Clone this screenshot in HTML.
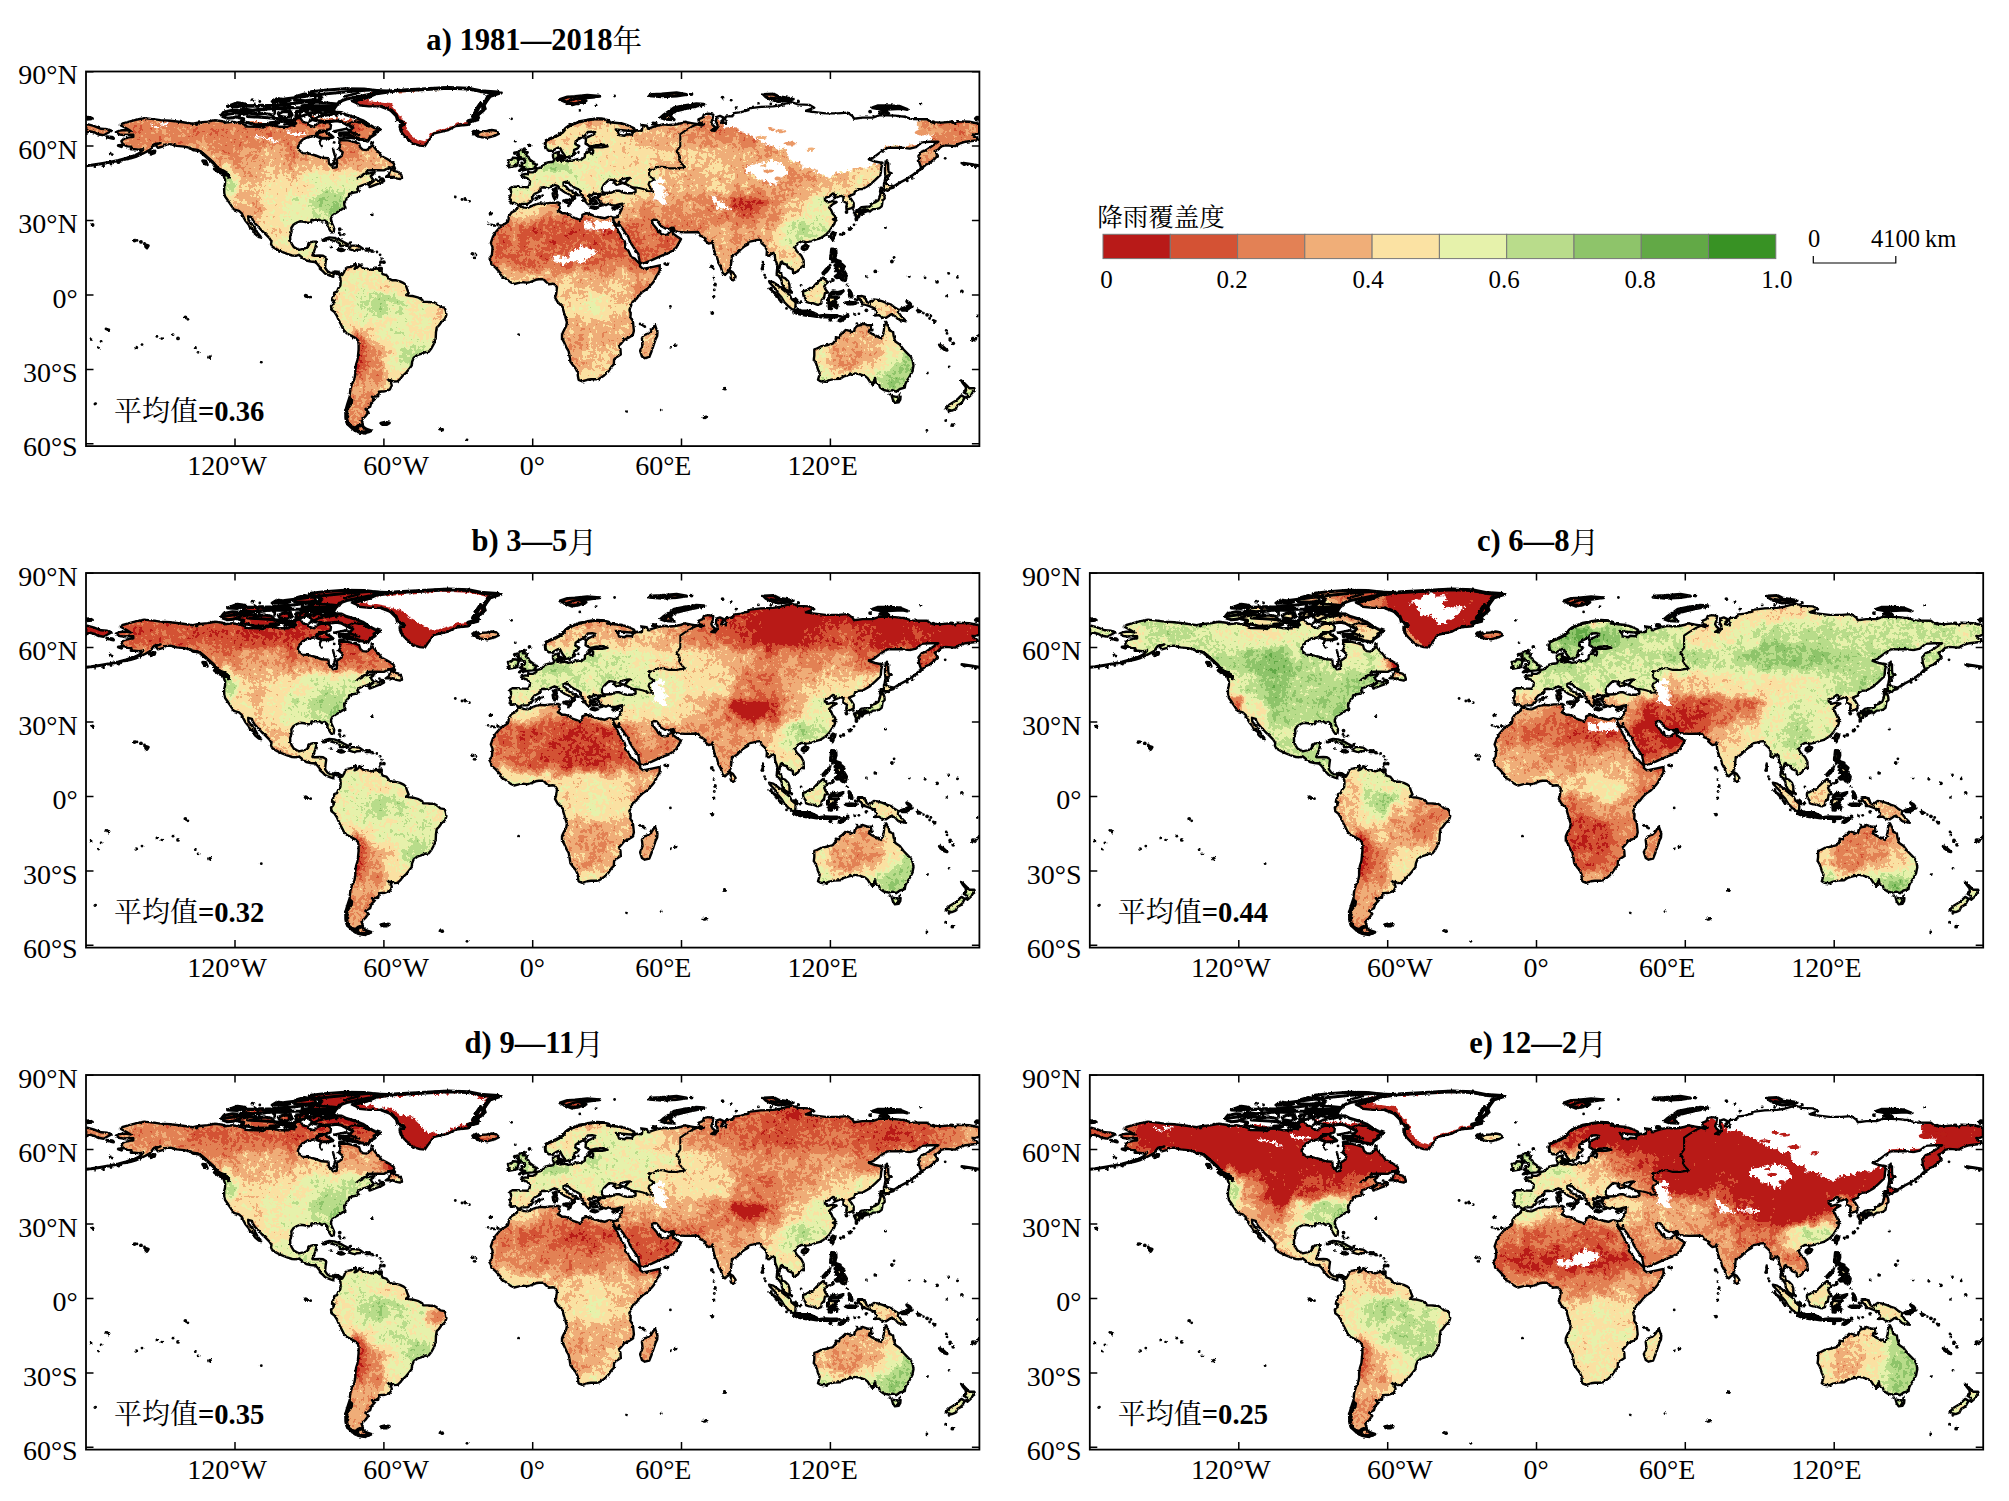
<!DOCTYPE html><html><head><meta charset="utf-8"><title>fig</title><style>html,body{margin:0;padding:0;background:#fff}svg{display:block}text{font-family:"Liberation Serif","Noto Serif CJK SC",serif;fill:#000}.cj{font-family:"Noto Serif CJK SC","Liberation Serif",serif}.b{font-weight:bold}</style></head><body>
<svg width="2009" height="1501" viewBox="0 0 2009 1501">
<defs>
<clipPath id="land"><path d="M29.9,60.7 33.7,59 39.9,58.5 44.8,59.5 41.1,57.3 34.9,54 34.9,52.5 42.3,50.3 49.8,48.3 58.2,46.6 67.2,47.6 74.6,48.6 84.5,49.3 96.9,50.8 106.8,52.3 111.8,51.3 121.7,50.1 129.2,48.8 136.6,49.8 139.1,51.3 146.5,50.3 156.5,52.3 161.4,55 171.3,55.3 177.5,56 178.8,53.3 186.2,53.5 193.7,55.3 202.4,55.3 204.8,53.5 208.6,54.3 208.6,49.8 211,45.3 214.8,47.3 217.2,50.6 222.2,51.6 223.4,53.8 228.4,55.3 230.9,52.5 234.6,50.8 242,50.6 245,53.5 244.5,57.3 239.6,59 233.4,59.2 232.1,62.2 229.6,64.2 223.4,65.2 217.2,67.7 213.5,71.6 211.8,75.9 212.3,77.8 216.7,81.6 223.4,82.1 229.6,84 235.8,86.3 242.5,86.8 243,92 245.8,94.5 247,96.2 250.7,95.7 251.2,92 250.7,88 255.7,84.5 256.7,80.8 252.7,77.6 254.4,74.6 253.2,72.1 253.7,68.7 261.9,68.9 268.1,70.4 273.1,72.1 274.3,75.9 276.8,78.1 280.5,78.6 284.2,75.9 286.4,73.6 289.2,77.1 292.9,80.8 295.4,84.5 300.3,87 304.6,89.5 307.8,92 308.5,94.5 305.3,96 300.8,97.4 297.9,98.9 292.9,98.7 286.7,98.7 281.7,98.9 279.7,101.2 275.5,103.9 271.3,106.9 275.5,104.9 280.5,102.2 285.5,101.4 287.2,102.7 284.7,104.6 286,106.9 287.9,108.9 292.9,109.6 295.4,106.9 297.1,107.1 298.1,109.4 295.4,111.1 290.4,112.8 286.7,114.3 283.5,115.6 282.5,113.3 285.5,111.3 287.2,110.1 283,111.3 280.5,112.3 276.8,113.6 273.1,115.1 271.3,117.5 272.6,119.3 273.1,120 270.6,120.5 266.8,121.3 263.1,122.5 262.9,125 260.6,127.2 259.9,129.2 258.2,131.7 258.4,134.2 259.4,135.9 256.4,137.4 253.2,139.4 250,141.4 246.3,144.1 244.8,147.3 245.3,150.3 247,154 248.2,157 247.7,160.7 245.5,160.9 243.8,158.5 241.5,154.7 241.5,151.5 238.8,149 235.8,150 233.4,148.3 228.4,148.3 225.4,148.5 225.2,151 222.2,151.3 218.5,150.3 214,149.8 211,151 207.3,153.3 205.3,156.5 205.6,160.2 204.1,165.2 204.3,168.9 205.6,172.1 207.8,175.6 210.5,177.1 213,178.3 217.2,177.3 221,176.3 222.2,173.8 222.7,171.4 227.2,170.1 230.9,170.1 229.9,173.8 229.1,176.8 227.9,180.1 226.4,183.8 228.4,184.3 233.4,184 237.1,184.3 240.3,186.3 239.6,191.2 239.1,196.2 241.3,199.4 243.8,201.1 246.3,201.4 249,199.9 251.7,200.1 254.7,202.1 253.5,205.4 252.2,203.1 249.2,201.4 247.5,203.1 247.3,205.4 244.5,204.4 241.3,203.1 239.1,202.1 236.3,199.2 233.9,197.4 233.9,195.7 230.9,192 228.9,190.5 224.7,190 220.2,189 216.5,186.3 212.8,183.3 209.8,184.3 206.1,184 201.1,182.3 196.1,180.3 191.2,178.1 186.2,175.1 185,172.6 185.5,169.9 183.2,166.4 179.3,162.4 175.6,159 172.6,155.5 168.9,151.8 166.4,147.8 165.9,145.8 162.2,144.8 162.4,148.3 165.6,152.5 168.9,156.5 171.3,160.9 173.8,163.9 175.1,166.2 173.1,165.7 168.9,162.4 168.1,159 163.9,156 162.7,153.3 159.4,149.3 157.2,145.1 156,142.1 153,139.4 147.8,137.9 145.3,134.2 143.1,130.9 141.6,128.5 139.1,125 138.3,121.8 138.1,116.8 139.1,112.3 139.1,108.6 137.4,103.6 141.6,103.9 142.8,106.1 143.1,103.1 141.1,101.2 137.1,98.9 132.1,97.4 129.7,94.5 127.2,91.2 123.7,88.3 120.5,85 116.8,81.6 113,78.6 108.1,78.8 103.6,76.4 98.2,75.1 90.7,74.4 84.5,72.6 78.8,73.1 78.3,74.6 72.1,76.4 69.6,73.4 74.6,71.4 68.4,72.6 65.9,75.6 64.2,78.1 59.7,80.6 54.7,83.1 49.8,85.3 44.8,86.8 38.6,88 42.3,86 47.3,84.5 52.3,82.1 55.7,79.6 57.2,77.6 52.8,78.3 48.5,77.6 44.8,77.8 45.3,75.1 41.1,74.9 36.9,72.6 35.4,69.7 37.9,67.2 43.6,65.9 47.3,65.4 47.3,63.2 42.3,63.2 37.4,63.5 33.7,63 29.9,60.7Z M254.7,202.1 256.2,203.6 258.2,200.4 259.4,197.2 261.1,195.9 264.9,195.4 268.1,193.4 269.8,192.7 269.8,195.4 268.6,197.4 270.6,196.7 272.6,194.9 273.3,193.2 275.5,195.2 277.5,197.2 281.7,197.2 285.5,198.4 289.2,197.2 292.9,196.9 293.4,198.9 295.9,200.6 296.6,202.6 300.3,203.6 303.3,207.3 306.5,208.8 310.3,208.8 314,209.8 317.7,211.6 319.7,213.3 321.4,218.5 322.7,221.5 320.2,223.5 322.7,224.2 326.4,224.5 328.9,225.2 332.6,226.2 336.3,228.4 337.1,230.4 341.3,230.4 345,230.7 348,230.7 351.2,232.6 354.4,235.4 358.6,236.1 359.9,239.6 360.4,243.3 359.1,247 355.4,250.5 352.9,254 350.7,256.2 350,260.7 349.7,266.9 348.2,271.8 345.5,276.8 342.8,280.3 338.8,280.8 335.1,282.3 331.1,283.7 327.6,286.5 326.1,290.4 325.6,294.2 322.7,297.9 320.2,301.1 317.2,303.8 314.2,307.3 311.5,309.8 307.8,310 304.8,308.8 301.8,307.8 305.1,311.5 305.8,314 303.8,318 299.1,319.7 292.9,320.2 292.2,324.7 286,325.2 288.4,328.1 285.5,330.9 284.2,335.1 279.5,337.6 282.5,340.8 279.3,345 275.5,348.7 277,353.2 272.3,353.7 269.3,356.2 265.6,354.9 261.1,352.5 259.9,348.7 259.9,344.3 261.9,341.8 259.2,338.8 263.1,335.6 265.6,332.1 266.1,328.4 263.6,326.4 263.9,322.2 264.4,317.7 265.9,312.8 268.3,307.8 269.3,302.8 269.3,297.9 270.1,292.9 271.6,288 272.1,283 272.6,278 272.6,273.1 272.1,269.1 269.6,266.6 265.6,264.4 260.6,261.7 257.4,257.9 255.2,253.5 252.7,248.5 250.7,244.1 248.5,240.6 245.5,238.3 245,234.6 247.3,232.1 248.5,229.4 246,228.9 246.8,225.9 248,223.5 248.2,221.2 251,220.2 252,217.3 254.4,214 254.7,209.8 254.4,206.6 253.5,205.4Z M276.5,353.9 277.5,355.7 280.5,357.7 285,359.2 281.7,360.1 276.8,361.1 273.1,360.6 268.6,358.7 271.8,356.9 272.1,354.7 274.5,353.7Z M294.9,351.7 299.1,350.7 303.3,351.5 300.8,353 296.6,353Z M432.1,134.7 433.6,134.4 438,136.1 441.7,136.4 445.5,134.7 449.7,132.9 454.1,131.9 459.1,132.2 464.1,131.4 469,131.2 471.5,130.9 474,131.7 472.7,133.2 473.5,135.4 474,137.9 471.8,139.1 473.5,140.1 476.5,141.8 479.4,141.8 484.4,143.1 485.6,145.3 490.1,146.8 493.8,148.3 496.3,146.6 496.3,143.3 500,141.8 504,142.6 508.7,144.6 513.7,145.8 518.6,146.8 521.6,145.6 523.6,145.1 526.8,145.8 527.3,149 527.6,150 528.6,153.3 530.3,155.2 532.3,159.5 534.8,163.9 535.3,166.4 538.2,168.9 539.2,171.9 539.2,176.3 542.2,178.8 543.9,182.5 545.2,185.5 548.9,187.2 552.1,190.7 554.1,192.5 554.1,194.9 557.1,197.4 560.8,196.7 567,195.4 573.7,193.9 573.7,197.7 572.7,201.1 570.2,204.9 568,209.8 565.8,212.5 561.3,217.3 557.1,220 552.9,224 549.9,227.9 546.7,230.2 544.9,234.6 543.4,238.3 544.7,242.1 544.4,245.8 546.9,249.5 547.4,254.5 547.9,259.4 546.7,263.7 542.2,266.4 538.5,268.1 534.8,272.6 533,273.8 534.5,278 534.8,283 529.8,286.2 528.1,288 527.8,292.9 525.3,295.4 522.4,299.9 517.4,304.6 513.2,307.3 510.2,307.8 505,307.8 501.3,308.3 496.3,309.8 492.6,308.3 491.8,304.1 491.8,301.6 489.4,296.6 487.4,294.4 484.4,290.4 483.7,285.5 482.7,280 480.2,275.6 477.7,270.1 476,266.9 476,263.2 477.2,260.2 480.2,254.5 480.9,250.8 479.4,245.8 477.2,238.3 477,235.9 474.5,233.4 471.5,230.4 469,225.9 470,223 470.5,219.7 471,216 469,212.8 466.5,212.3 462.8,212.8 460.3,210.6 457.6,207.8 452.9,207.8 449.7,208.3 444.2,210.6 440.5,211.3 436.8,210.6 431.8,211.6 428.1,212.5 424.4,210.6 419.4,206.8 415.7,204.9 414,201.1 410.7,197.4 409.5,196.2 405.3,192.7 405,190 403.3,187 405.8,183.8 406.3,178.8 406.5,175.6 404.8,171.4 407,165.2 410,160.2 413.2,156.5 414.5,154.5 418.7,152.5 421.9,150.3 422.6,147.8 422.6,145.3 425.6,140.9 429.3,139.1 431.3,135.9Z M569,253.5 571.5,260.7 571.2,264.4 569.5,268.1 567.8,273.1 565.3,280.5 563.3,285.5 558.8,286.7 555.9,285 554.1,279.3 556.6,273.1 555.9,266.9 557.8,263.7 562.1,262.2 565.3,259.4 567.5,255.7Z M432.8,134.2 431.1,132.7 428.3,131.2 424.6,131.7 424.9,128 423.1,127.2 424.6,123.7 425.1,120 423.9,116.8 426.9,115.1 432.3,115.3 437.3,115.6 442.2,115.8 443.7,112.8 444,109.8 441.2,106.6 436,104.9 435,103.4 439.3,102.4 442.7,102.9 442.2,100.2 443.7,100.9 447.2,100.7 450.4,98.9 450.7,97.2 454.6,96 457.1,94.2 458.6,92 462.8,90.7 467,90.2 468.3,88.3 467,85.8 467,82.1 471,80.8 473,80.3 472.3,83.1 473.5,84 471.5,86.3 470.8,87 471.5,88.3 474,89.5 477.2,88.8 480.9,89.3 482.2,89.8 486.9,88.8 492.6,87.5 495.1,88.5 496.3,87.3 498.8,85.8 499,82.6 500.3,80.8 502.8,80.3 504.5,82.1 507,81.6 507.2,78.8 505,77.8 505,76.6 508.7,75.9 516.2,75.9 521.6,74.9 517.4,73.1 511.2,73.6 503.8,74.9 502.5,73.9 499.5,72.1 500,68.4 499.3,66.7 503.8,64.7 508.7,62.2 509.5,61 506.2,60.2 501.8,60.5 499.5,63.5 496.3,65.7 492.1,67.9 489.6,69.7 489.4,72.6 493.3,74.6 491.4,77.1 488.1,78.3 487.9,81.6 486.4,84 482.2,85.5 478.9,86 478.5,83.8 476,80.3 474.5,77.1 472.7,75.9 470.3,77.1 466.5,79.3 462.8,79.3 460.3,77.1 459.1,73.4 459.1,69.7 464.1,67.2 469,65.7 472.7,63.5 476.5,61 478.9,57.3 482.7,54.3 486.4,52.8 491.4,50.8 497.6,49.6 503.8,48.3 510.5,47.1 516.2,47.3 522.4,48.6 523.6,49.8 521.1,50.6 528.6,51.3 536,52 542.2,54 547.9,56.5 548.9,58.5 544.7,59.5 536,58.7 529.8,58 532.3,61 533,63.5 538.5,64.2 540.5,62.7 545.9,63.2 547.2,60.7 550.9,58.7 555.9,59.2 556.3,56 555.4,53.5 560.8,54.3 562.1,57.3 565.8,55.8 570.7,54.3 578.2,52.8 583.1,53.5 589.3,53 595.5,51.8 598,50.3 605.5,51.6 610.4,52.5 615.9,54 617.9,52.5 612.9,50.8 612.4,47.8 616.6,46.1 617.9,42.9 622.8,42.1 627.3,43.1 626.6,47.3 625.3,51.1 626.6,53.5 629.5,56 625.3,59 629,59.2 631.5,56 631.5,53.5 629.8,49.8 631,45.3 634,44.4 637.7,46.1 635.2,51.1 640.2,52.3 639,47.3 640.2,44.9 646.4,44.9 647.6,41.6 655.1,40.6 662.5,38.7 662.5,36.9 674.9,35.4 687.3,34.9 694.8,33.7 705.4,30.7 712.1,32.9 723.3,33.4 728.3,36.2 719.6,39.4 727,40.4 739.4,41.9 751.8,41.9 761.7,41.1 766.7,44.9 768,47.3 776.6,46.1 786.6,46.1 794,43.6 808.9,44.1 818.8,45.3 826.2,47.6 841.1,47.8 844.9,50.6 856,51.1 864.7,50.3 869.7,52.3 870.9,49.8 883.3,50.3 893.2,52.3 893.2,61.5 889.5,63.2 886.5,63 891.5,67.2 892,68.7 879.6,70.2 873.4,72.1 869.2,74.6 859.7,73.9 855.3,74.9 851.8,78.3 848.6,79.6 851.8,84 848.6,87.5 843.6,91.5 839.9,93.2 835.4,96.9 833.2,90.7 832.4,84.5 835.7,80.1 839.9,78.8 846.1,74.6 852.3,70.2 844.1,70.2 835.7,70.9 830,75.6 823.8,77.1 815.1,76.1 801.4,76.4 795.2,80.1 787.8,85.8 782.8,87.8 789,90 796.5,91.5 795.2,96.9 794.7,103.1 789,108.6 784.1,113.1 776.6,117.5 771.7,117.8 768.7,120.5 768.4,122.3 763,124.7 765.2,127.7 767.7,131.7 767.7,135.4 765.5,136.6 760.5,138.1 760.3,135.2 761,131.7 757.3,129.7 757.5,125.5 755.1,124.2 749.3,126.5 747.6,127.2 749.8,123 746.9,122 742.6,125.5 738.9,126.2 738.9,128.5 741.9,130.9 746.4,129.7 750.6,130.7 746.9,132.7 743.1,135.9 745.1,138.4 746.6,142.1 749.1,144.8 749.1,146.8 746.9,147.8 749.3,149.3 748.1,152.8 745.6,156 743.4,159.7 740.7,162.4 736.9,165.2 733.2,167.2 729.5,168.1 725.8,169.6 720.8,170.6 720.3,173.1 718.8,170.1 715.4,169.9 711.4,172.1 708.9,176.3 710.9,179.8 715.1,183.8 717.6,188.7 717.8,193.7 713.4,197.4 711.4,199.9 707.2,201.9 706.7,197.9 702.2,196.2 700.5,193.2 697,192 696,190 694.8,190.7 693.5,196.2 692.8,200.4 695.3,202.4 696,205.6 699,206.6 702.2,209.8 703.5,213.5 703.5,217.3 705.2,220 703.5,220.2 699.7,217.8 698,216.3 696,212.3 695.5,208.6 692.3,204.1 690.6,203.4 691,198.7 691.5,193.7 689.1,187.5 688.8,182.5 686.8,181.3 683.1,184.3 680.6,183.8 680.9,178.8 678.6,174.3 675.7,171.9 674.4,168.1 671.2,168.4 667.5,169.4 662.5,170.4 662,172.9 658.8,174.6 655.1,177.6 650.9,181.8 645.9,185 645.4,190 644.7,194.9 643.4,197.9 642.4,200.4 640.7,201.6 639,203.4 636.5,201.1 634.7,195.4 632.3,191.2 631.3,186.7 629,182.5 627.8,177.6 627.3,175.6 627,171.4 626.6,169.4 625.8,171.4 622.6,172.1 618.4,168.4 619.6,167.2 617.1,165.4 614.1,164.2 612.9,161.7 611.7,160.5 605.5,160.7 599.3,160.9 593.1,160.5 588.8,159.7 587.6,156.2 583.1,157.2 579.4,157 574.5,154.3 572.5,151 570.7,148.5 568,148 565.8,149.3 567,152.8 569.5,155.7 571.2,157.7 572.5,160.7 574,158.7 574.7,161.9 576.9,163.4 580.7,163.4 584.4,160.2 586.4,158.2 586.9,161.9 590.6,164.7 595,167.6 592.3,172.4 590.1,176.3 586.9,178.8 583.1,181.3 576.4,183.8 570.7,186.3 565.8,188.7 558.3,191.7 554.6,192 553.9,190 552.9,186.3 552.4,182.5 549.6,178.8 547.2,175.1 543.9,170.1 542.2,165.2 539.2,161.4 537.2,158.2 534,154 533,150.3 531.8,154.5 529.6,152.5 527.6,149 527.1,146.1 531,145.8 533,143.6 534,140.9 535.8,137.4 535.8,134.2 536.5,132.2 533.5,132.7 529.8,133.9 526.1,133.9 522.6,132.2 519.9,133.7 516.2,132.4 514.4,130.4 512.4,128 513.2,125.5 511.7,124.2 514.9,123 518.6,123 518.9,121.5 524.8,121.3 529.8,119.3 533.5,119.3 537.2,121 541,121.8 545.9,121.8 549.6,120.5 549.6,118 544.7,115.1 541,113.1 538.5,111.8 539.7,110.6 541.5,108.6 543.9,106.4 541,106.6 534.8,108.1 533.5,110.1 537.2,111.3 534,112.3 530.5,113.3 527.8,110.8 530.1,109.4 526.1,108.4 523.1,108.1 520.4,110.6 517.9,113.1 516.2,116.3 515.7,118.5 516.7,120.5 518.6,121.3 516.2,121.8 513.2,122.7 511.4,123.5 511.2,122.3 507.5,122 505.7,124.2 503.3,123.2 503.3,126 506.2,128.7 505,129.9 503.8,132.9 501.8,132.7 499.5,130.2 499.3,128 496.8,125.5 494.8,123 494.8,119.8 492.1,117.8 487.6,115.6 484.4,113.6 482.7,111.3 480.7,111.3 480.4,110.1 477.5,110.8 477.5,113.6 480.4,115.6 483.2,118.8 486.4,119.5 486.4,120.8 491.4,122.7 492.6,124 489.4,123.2 487.9,125 489.1,126.7 487.6,128.5 485.6,129.2 485.9,127 486.4,125.5 484.7,124 482.4,122.5 478.9,121 476.5,119.3 472.7,116.8 472,114.6 468.5,113.3 465.3,114.8 461.6,116.5 457.9,115.8 454.6,116.3 454.6,119.5 451.7,121 448.7,122.3 446,125.5 446.9,127.5 445,129.9 441.7,132.2 435.8,132.4Z M0.2,52.3 7.6,54.3 15.1,57.3 21.3,57.8 25.5,59.5 22.5,61 17.5,63.7 11.3,62.5 8.9,61 3.4,59.7 0.2,61.5Z M728.3,278 730,277.5 735.7,274.6 740.7,273.8 746.9,272.1 750.1,268.1 749.8,265.6 753.1,266.4 753.6,263.7 756.8,261.4 759.8,258.4 763.7,259.4 765.5,260.4 768,260.4 768.7,257 771.2,254.2 775.4,253.5 775.6,251.7 781.6,253.7 786.1,253.7 784.1,257 782.8,260.2 786.6,262.7 791.5,265.1 795.2,266.9 797,263.2 798,258.2 798.2,254.5 800.2,250.3 802.7,255.2 803.4,258.9 807.1,260.4 807.6,264.4 809.4,270.1 813.8,273.1 817.6,278 820.8,281.3 825,285.5 826.7,289.2 827.5,294.2 826.2,300.4 823.8,304.8 821.3,308.6 819.3,312.8 818.8,316.2 813.8,317.5 810.1,320.2 806.4,318.7 802.7,319.7 797.7,318.5 794,316 792.8,312.3 789.8,311 789,306.6 788,310.3 786.1,312 783.6,309.8 781.6,306.6 779.1,304.6 774.2,302.8 769.2,301.9 763,303.3 758,304.8 754.3,307.3 748.1,307.6 743.1,308.6 739.4,310.3 734.5,309.8 732,308.3 733.2,304.1 733.7,301.6 732,297.9 730,291.7 727.8,288 728.3,284.2 728.3,278Z M805.7,324.4 810.1,325.4 814.6,324.9 814.3,328.1 812.6,330.9 808.9,331.4 806.9,328.4Z M875.1,308.8 878.3,311.5 880.8,314 883.3,316.7 888.3,316.7 889,319 886.5,321 885.3,323.4 881.6,326.7 880.3,325.9 881.1,322.7 877.8,321 880.1,319 879.6,315.2 876.6,311.5Z M875.4,323.9 878.8,325.9 876.4,330.1 874.6,332.1 871.4,333.9 869.7,337.6 865.9,339.1 862.2,338.1 859.7,337.1 863.5,333.1 868.4,330.1 872.1,327.2Z M771.7,225.4 775.4,224.5 779.1,225.4 780.4,229.7 782.8,231.6 787.8,227.9 791.5,228.4 796.5,229.9 801.4,231.9 805.2,233.1 808.4,235.9 812.6,238.3 811.9,240.3 815.1,244.5 818.8,248.3 820,249.8 816.3,249 812.6,248.3 808.9,244.5 805.2,242.6 802.7,244.5 800.2,246.3 796.5,246 792.8,243.6 789,244.1 790.3,240.8 789,237.1 784.1,234.9 779.1,233.1 776.1,233.1 776.1,230.4 772.4,227.2Z M717.1,219.7 719.6,219.2 722.8,217.3 727,215.5 730.7,211.6 734.5,208.1 736.9,206.1 738.7,207.8 741.9,210.6 739.9,212.3 738.2,214.8 739.4,217.8 741.9,221 738.9,221.7 738.2,225.4 735.7,228.4 735.2,232.1 731.5,233.4 727,231.6 723.3,231.4 720.1,230.4 719.6,227.2 717.6,224.7 717.1,222.2Z M683.1,209.6 687.3,210.6 690.3,212.8 694.3,216 696.8,218 700.5,221 703.7,223.5 705.9,227.9 709.7,230.9 709.2,237.9 706.2,237.9 702.2,234.6 698.5,230.9 695.5,225.9 692.3,222.2 691,219 687.8,215.5 683.6,211.1Z M707.7,240.3 710.9,238.3 715.9,239.6 720.8,239.6 725.8,240.6 730.7,242.8 730.7,245 725.8,244.3 719.6,243.8 714.6,242.8 710.9,241.8Z M743.1,237.1 743.1,232.1 741.4,230.2 743.9,222.7 746.9,220.2 751.8,221 757.3,219.5 754.3,222.5 748.1,222.2 745.1,222.7 744.9,225.7 748.1,225.7 752.6,225.7 749.3,227.9 748.6,230.4 751.3,233.4 750.6,236.4 748.1,234.6 746.9,230.4 745.4,230.9 745.6,237.1Z M745.6,177.6 749.8,177.8 750.1,182.5 748.4,186.3 750.6,188.7 754.3,190 754.3,192.2 751.8,190.5 748.6,189.2 746.1,188.2 744.6,186.3 745.1,182.5Z M749.3,204.9 753.1,202.1 758,199.4 760.5,203.6 759.8,207.3 758,209.1 755.5,207.8 754.3,205.6 750.6,206.1Z M749.3,197.4 751.8,194.9 755.5,192.5 758.3,194.9 756.8,198.2 753.1,199.9 750.6,199.6Z M737.4,202.6 740.7,199.9 743.4,196.2 742.4,195.7 739.4,198.7 736.9,201.6Z M753.1,249 756.8,245.8 761.7,244.3 760.5,245.8 756.8,248.3 754.3,249.5Z M734.5,244.3 739.4,243.8 744.4,244.1 751.3,244.1 750.6,245.5 744.4,245.8 739.4,245.5 734.5,245.5Z M763,218.5 765,221 766,224.7 763.7,225.4 763.2,221.7Z M759.3,231.4 764.2,230.7 770.4,231.4 766.7,232.4 761.7,232.4Z M815.1,237.4 818.8,236.1 823.8,233.9 824.3,235.9 820,238.8 816.3,238.8Z M746.9,160.9 749.1,161.9 748.1,165.2 746.4,168.9 744.6,166.4 745.1,163.2Z M716.4,175.6 719.6,173.6 722.1,174.6 720.6,177.3 717.8,178.3 716.1,177.1Z M644.7,199.4 647.1,201.1 649.6,204.9 648.9,207.8 646.1,208.8 644.7,206.6 644.7,202.4Z M768.4,140.9 771.7,139.4 773.9,141.6 772.7,145.3 770.7,146.3 769.7,143.6Z M775.1,139.6 779.9,138.4 780.6,139.6 777.9,140.6 776.1,142.1Z M771.4,138.9 775.4,135.6 780.4,135.2 784.1,134.9 786.1,131.9 789,130.9 792.5,128.7 794,124.7 794.5,121.3 797.5,121 798.5,124.2 798.7,127 796.5,129.2 796.2,132.2 795.7,134.9 793.5,136.6 790.8,137.4 787.1,137.6 785.8,138.4 783.6,140.4 782.1,138.4 779.1,137.4 775.4,138.6 772.2,139.4Z M794,120.3 794.7,116.3 797.7,116.3 798.2,111.1 802.2,113.3 806.9,114.3 807.6,116 803.9,117 801.9,119.3 797.7,118 796,119Z M798.7,109.4 799.5,105.6 799,100.7 799,95.7 799.7,90.7 800.9,88.8 802.2,92 802.2,96.9 802.7,100.7 805.7,101.9 801.4,104.4 802.2,107.9 800.4,108.6Z M433.1,99.2 438,98.7 441.7,97.9 446.7,97.4 450.2,96.5 448.7,95.5 450.9,93 447.7,92 446.9,90.2 443.7,88 442.5,85.5 441,84.5 439.8,83.6 441.7,80.8 438,80.3 436.8,80.3 438.8,78.1 434.3,78.1 432.3,80.3 432.8,83.3 431.3,83.1 433.1,86 434.8,85.5 434.5,87.5 438.3,87.3 439.3,89.8 438.8,91.2 435.5,91.2 436.3,93.2 433.8,94.7 438,95.7 439.3,96.2 436,96.7Z M431.3,94 431.8,91.2 432.8,88.3 430.6,86.5 426.9,86.3 425.6,88.3 421.9,89 422.4,91.2 423.6,93 421.1,94.5 422.6,95.7 426.9,95Z M390.9,64.9 397.1,65.9 402,66.2 409.5,64 413,62.2 410,59.2 405.8,58.5 400.8,59.5 395.8,59.7 393.4,61 390.9,58.7 386.4,60.7 392.1,61.7 387.2,62.7 392.1,64Z M477.7,129.2 480.2,128.7 485.2,128.7 484.2,132.4 481.4,131.7 478,130.2Z M467,122 469.8,121.3 471,123.5 470.5,126.2 468.5,127 467.5,124.7Z M468,118 470,116.8 470.3,119.5 469.3,120.8 468,119.5Z M505,135.4 508.7,135.6 511.9,136.1 508.7,136.9 505.2,136.1Z M526.8,136.6 528.6,135.9 532.5,134.9 531,136.6 528.6,137.6Z M236.1,169.1 239.6,166.9 243.3,165.9 248.2,166.4 253.2,168.1 258.2,170.9 262.6,173.1 259.4,174.1 253.9,174.3 254.4,172.4 250.7,170.1 244.5,168.4 241.3,167.4 238.3,169.4Z M262.1,177.3 265.6,174.1 269.3,174.1 273.1,174.6 277,177.3 274.3,178.1 270.6,178.3 268.8,179.3 265.6,178.3Z M252.5,177.8 255.7,177.6 257.7,178.8 255.2,179.3 252.5,178.6Z M280,177.6 283.7,177.8 283.5,178.8 280,178.8Z M299.6,105.4 302.8,103.1 304.1,99.4 307.8,95.5 309,96.9 307.8,99.4 312.7,100.7 315.2,103.1 316,105.6 314,107.6 310.3,106.9 307.8,105.4 304.1,105.4Z M128.4,97.4 134.1,98.4 137.1,100.2 140.3,103.1 137.4,102.9 132.9,100.7Z M116.8,89.3 119.7,89.5 121.2,93.2 118.5,92Z M63.4,80.8 68.9,79.6 68.4,81.3 64.7,82.6Z M59.7,173.4 62.2,174.3 61,176.3 59.7,175.1Z M247,40.6 255.7,41.1 260.6,43.6 270.6,46.6 276.8,49.1 280.5,51.6 287.9,56 294.1,58 287.9,61 289.2,62.7 284.2,65.9 281.7,69.7 278,68.2 274.3,67.7 268.1,65.2 263.1,63.5 253.7,64 253.2,61.5 263.1,61 264.4,58.5 266.8,56 261.9,53.5 255.7,50.3 250.7,49.3 243.3,50.1 235.8,49.8 228.4,48.6 224.7,46.1 223.4,43.6 225.9,41.1 233.4,40.4 235.8,42.4 243.3,40.6Z M230.9,61.5 235.8,60.2 239.6,60.2 244.5,63.5 247,65.7 242,66.7 235.8,66.7 230.9,64.7Z M155.2,49.8 163.9,51.8 168.9,53.3 178.8,53 187.5,53.3 193.7,51.1 194.9,48.6 188.7,47.3 186.2,43.6 178.8,41.9 171.3,42.9 163.9,41.6 154,43.6 151.5,46.1 157.7,47.3Z M136.6,45.1 141.6,46.8 147.8,46.1 154,43.6 158.9,41.9 156.5,39.4 146.5,38.7 137.9,40.4 135.4,43.6Z M193.7,44.9 201.1,46.1 206.1,43.6 204.8,40.4 197.4,39.9 192.4,42.4Z M209.8,44.9 214.8,44.9 222.2,42.4 221,39.9 211,39.9Z M218.5,38.2 228.4,38.7 238.3,38.7 247,38.4 248.2,36.2 240.8,35.4 228.4,35.7 221,33.7 216,34.2Z M156.5,37.4 166.4,38.7 178.8,37.9 183.7,36.2 176.3,33.7 166.4,34.4 158.9,34.4Z M188.7,36.9 198.6,37.4 204.8,35.9 202.4,33.4 193.7,33.7 187.5,34.9Z M208.6,28.7 221,29.2 229.6,27.5 228.4,24.3 218.5,22.5 209.8,25Z M223.4,34.2 235.8,34.2 248.2,34.4 253.2,32.4 255.7,29.2 260.6,27.5 273.1,25 285.5,22.5 292.9,19.3 278,17.6 258.2,17.3 238.3,18.8 223.4,20.5 230.9,23.8 235.8,26.2 233.4,29.2 225.9,31.2Z M141.6,34.9 151.5,35.4 158.9,32.4 151.5,31.2Z M199.9,51.8 206.1,53 209.8,51.8 206.1,50.1Z M186.2,30 198.6,30.5 203.6,28.7 191.2,27Z M265.6,29.5 278,27 285.5,23 297.9,20 317.7,18.8 335.1,18.1 357.4,16.3 377.2,16.8 392.1,19.3 402,21.3 415.7,21.3 404.5,25 400.8,30 398.3,33.7 399.6,37.4 394.6,41.1 390.9,44.9 392.1,48.6 384.7,50.3 382.2,53.3 369.8,54.5 362.4,58.5 353.7,60.5 347.5,62.2 345,65.9 341.3,70.9 338.8,74.6 333.8,74.1 327.6,72.1 322.7,68.4 318.9,64.7 315.2,60.2 314,56 318.9,52.3 312.7,49.8 311.5,46.1 307.8,42.4 302.8,37.4 295.4,34.9 283,34.9 273.1,33.7 270.6,31.7Z M474,28 481.4,31.2 486.4,33.2 492.6,31.2 500,29.2 493.8,27 501.3,26.2 513.7,24.8 501.3,23.8 488.9,25 481.4,25.5Z M574.5,46.1 579.4,47.8 588.1,48.1 584.4,44.9 585.6,41.6 591.8,39.1 603,36.2 612.9,34.2 617.9,32.7 610.4,32.4 598,34.2 588.1,36.2 583.1,39.9 579.4,42.4 576.9,44.1Z M683.6,27.5 692.3,30 702.2,29.2 707.2,27.5 699.7,26.2 692.3,25 687.3,22.5 677.4,23 679.9,25.5Z M786.6,36.2 796.5,37.9 806.4,37.4 816.3,36.9 821.3,37.9 813.8,34.9 801.4,34.4 791.5,34.4Z M794,41.1 802.7,41.9 800.2,40.1 795.2,39.9Z M889.5,47.1 893.2,47.6 893.2,46.1 890.7,45.8Z M0.2,47.6 6.4,47.1 3.9,45.8 0.2,46.1Z M563.3,24.3 575.7,25.3 590.6,24.5 600.5,23 590.6,21.3 575.7,22.5 565.8,23Z M567,51.6 570.7,52.3 569.5,53 566.5,52.5Z M20.8,65.4 27.5,66.9 26.2,65.7Z M32.4,74.1 35.9,73.9 35.4,75.1Z M578.9,192.2 581.9,192.5 580.7,193Z M293.4,196.9 295.4,196.7 295.4,198.4 293.4,198.4Z M853.5,273.3 857.3,275.6 861,278.8 858.5,278 854.8,275.3Z M831.2,238.3 834.9,240.3 832.4,240.3Z M886.5,266.9 889.8,267.1 888.8,268.6 886.5,268.1Z M820.8,229.9 823.8,231.6 826.2,234.9 825,233.9 821.3,230.9Z M707.9,227.7 710.9,228.4 710.9,230.9 709.2,229.7Z"/></clipPath>
<clipPath id="box"><rect x="0" y="0" width="893.4" height="374.6"/></clipPath>
<filter id="bl" color-interpolation-filters="sRGB" x="-5%" y="-5%" width="110%" height="110%"><feGaussianBlur stdDeviation="5"/></filter>
<filter id="bl2" color-interpolation-filters="sRGB" x="-5%" y="-5%" width="110%" height="110%"><feGaussianBlur stdDeviation="3"/></filter>
<filter id="bl3" color-interpolation-filters="sRGB" x="-5%" y="-5%" width="110%" height="110%"><feGaussianBlur stdDeviation="1"/></filter>
<filter id="rg" color-interpolation-filters="sRGB" x="0" y="0" width="100%" height="100%"><feTurbulence type="fractalNoise" baseFrequency="0.07" numOctaves="3" seed="7" result="n1"/><feDisplacementMap in="SourceGraphic" in2="n1" scale="14" xChannelSelector="R" yChannelSelector="G" result="d1"/><feTurbulence type="fractalNoise" baseFrequency="0.3" numOctaves="2" seed="3" result="n2"/><feColorMatrix in="n2" type="matrix" values="1 0 0 0 0 1 0 0 0 0 1 0 0 0 0 0 0 0 0 1" result="n2g"/><feComposite in="d1" in2="n2g" operator="arithmetic" k1="0" k2="1" k3="0.24" k4="-0.12" result="v1"/><feTurbulence type="fractalNoise" baseFrequency="0.09" numOctaves="2" seed="21" result="n3"/><feColorMatrix in="n3" type="matrix" values="0 1 0 0 0 0 1 0 0 0 0 1 0 0 0 0 0 0 0 1" result="n3g"/><feComposite in="v1" in2="n3g" operator="arithmetic" k1="0" k2="1" k3="0.23" k4="-0.115" result="v"/><feComponentTransfer in="v"><feFuncR type="discrete" tableValues="0.722 0.831 0.890 0.941 0.984 0.902 0.725 0.557 0.384 0.220"/><feFuncG type="discrete" tableValues="0.102 0.322 0.506 0.682 0.886 0.949 0.863 0.769 0.663 0.573"/><feFuncB type="discrete" tableValues="0.094 0.204 0.333 0.471 0.639 0.671 0.545 0.416 0.275 0.141"/></feComponentTransfer></filter>
<filter id="rag" x="-5%" y="-5%" width="110%" height="110%"><feTurbulence type="fractalNoise" baseFrequency="0.09" numOctaves="2" seed="3" result="n"/><feDisplacementMap in="SourceGraphic" in2="n" scale="10" xChannelSelector="R" yChannelSelector="G" result="r1"/><feTurbulence type="fractalNoise" baseFrequency="0.3" numOctaves="2" seed="9" result="m"/><feDisplacementMap in="r1" in2="m" scale="7" xChannelSelector="G" yChannelSelector="R"/></filter>
<filter id="rag2" x="-5%" y="-5%" width="110%" height="110%"><feTurbulence type="fractalNoise" baseFrequency="0.2" numOctaves="2" seed="5" result="n"/><feDisplacementMap in="SourceGraphic" in2="n" scale="5" xChannelSelector="R" yChannelSelector="G"/></filter>
<filter id="jag" x="-2%" y="-2%" width="104%" height="104%"><feTurbulence type="fractalNoise" baseFrequency="0.35" numOctaves="2" seed="11" result="n"/><feDisplacementMap in="SourceGraphic" in2="n" scale="2.6" xChannelSelector="R" yChannelSelector="G"/></filter>
<g id="coast" filter="url(#jag)" fill="none" stroke="#000" stroke-linejoin="round" stroke-linecap="round"><path d="M29.9,60.7 33.7,59 39.9,58.5 44.8,59.5 41.1,57.3 34.9,54 34.9,52.5 42.3,50.3 49.8,48.3 58.2,46.6 67.2,47.6 74.6,48.6 84.5,49.3 96.9,50.8 106.8,52.3 111.8,51.3 121.7,50.1 129.2,48.8 136.6,49.8 139.1,51.3 146.5,50.3 156.5,52.3 161.4,55 171.3,55.3 177.5,56 178.8,53.3 186.2,53.5 193.7,55.3 202.4,55.3 204.8,53.5 208.6,54.3 208.6,49.8 211,45.3 214.8,47.3 217.2,50.6 222.2,51.6 223.4,53.8 228.4,55.3 230.9,52.5 234.6,50.8 242,50.6 245,53.5 244.5,57.3 239.6,59 233.4,59.2 232.1,62.2 229.6,64.2 223.4,65.2 217.2,67.7 213.5,71.6 211.8,75.9 212.3,77.8 216.7,81.6 223.4,82.1 229.6,84 235.8,86.3 242.5,86.8 243,92 245.8,94.5 247,96.2 250.7,95.7 251.2,92 250.7,88 255.7,84.5 256.7,80.8 252.7,77.6 254.4,74.6 253.2,72.1 253.7,68.7 261.9,68.9 268.1,70.4 273.1,72.1 274.3,75.9 276.8,78.1 280.5,78.6 284.2,75.9 286.4,73.6 289.2,77.1 292.9,80.8 295.4,84.5 300.3,87 304.6,89.5 307.8,92 308.5,94.5 305.3,96 300.8,97.4 297.9,98.9 292.9,98.7 286.7,98.7 281.7,98.9 279.7,101.2 275.5,103.9 271.3,106.9 275.5,104.9 280.5,102.2 285.5,101.4 287.2,102.7 284.7,104.6 286,106.9 287.9,108.9 292.9,109.6 295.4,106.9 297.1,107.1 298.1,109.4 295.4,111.1 290.4,112.8 286.7,114.3 283.5,115.6 282.5,113.3 285.5,111.3 287.2,110.1 283,111.3 280.5,112.3 276.8,113.6 273.1,115.1 271.3,117.5 272.6,119.3 273.1,120 270.6,120.5 266.8,121.3 263.1,122.5 262.9,125 260.6,127.2 259.9,129.2 258.2,131.7 258.4,134.2 259.4,135.9 256.4,137.4 253.2,139.4 250,141.4 246.3,144.1 244.8,147.3 245.3,150.3 247,154 248.2,157 247.7,160.7 245.5,160.9 243.8,158.5 241.5,154.7 241.5,151.5 238.8,149 235.8,150 233.4,148.3 228.4,148.3 225.4,148.5 225.2,151 222.2,151.3 218.5,150.3 214,149.8 211,151 207.3,153.3 205.3,156.5 205.6,160.2 204.1,165.2 204.3,168.9 205.6,172.1 207.8,175.6 210.5,177.1 213,178.3 217.2,177.3 221,176.3 222.2,173.8 222.7,171.4 227.2,170.1 230.9,170.1 229.9,173.8 229.1,176.8 227.9,180.1 226.4,183.8 228.4,184.3 233.4,184 237.1,184.3 240.3,186.3 239.6,191.2 239.1,196.2 241.3,199.4 243.8,201.1 246.3,201.4 249,199.9 251.7,200.1 254.7,202.1 253.5,205.4 252.2,203.1 249.2,201.4 247.5,203.1 247.3,205.4 244.5,204.4 241.3,203.1 239.1,202.1 236.3,199.2 233.9,197.4 233.9,195.7 230.9,192 228.9,190.5 224.7,190 220.2,189 216.5,186.3 212.8,183.3 209.8,184.3 206.1,184 201.1,182.3 196.1,180.3 191.2,178.1 186.2,175.1 185,172.6 185.5,169.9 183.2,166.4 179.3,162.4 175.6,159 172.6,155.5 168.9,151.8 166.4,147.8 165.9,145.8 162.2,144.8 162.4,148.3 165.6,152.5 168.9,156.5 171.3,160.9 173.8,163.9 175.1,166.2 173.1,165.7 168.9,162.4 168.1,159 163.9,156 162.7,153.3 159.4,149.3 157.2,145.1 156,142.1 153,139.4 147.8,137.9 145.3,134.2 143.1,130.9 141.6,128.5 139.1,125 138.3,121.8 138.1,116.8 139.1,112.3 139.1,108.6 137.4,103.6 141.6,103.9 142.8,106.1 143.1,103.1 141.1,101.2 137.1,98.9 132.1,97.4 129.7,94.5 127.2,91.2 123.7,88.3 120.5,85 116.8,81.6 113,78.6 108.1,78.8 103.6,76.4 98.2,75.1 90.7,74.4 84.5,72.6 78.8,73.1 78.3,74.6 72.1,76.4 69.6,73.4 74.6,71.4 68.4,72.6 65.9,75.6 64.2,78.1 59.7,80.6 54.7,83.1 49.8,85.3 44.8,86.8 38.6,88 42.3,86 47.3,84.5 52.3,82.1 55.7,79.6 57.2,77.6 52.8,78.3 48.5,77.6 44.8,77.8 45.3,75.1 41.1,74.9 36.9,72.6 35.4,69.7 37.9,67.2 43.6,65.9 47.3,65.4 47.3,63.2 42.3,63.2 37.4,63.5 33.7,63 29.9,60.7Z M254.7,202.1 256.2,203.6 258.2,200.4 259.4,197.2 261.1,195.9 264.9,195.4 268.1,193.4 269.8,192.7 269.8,195.4 268.6,197.4 270.6,196.7 272.6,194.9 273.3,193.2 275.5,195.2 277.5,197.2 281.7,197.2 285.5,198.4 289.2,197.2 292.9,196.9 293.4,198.9 295.9,200.6 296.6,202.6 300.3,203.6 303.3,207.3 306.5,208.8 310.3,208.8 314,209.8 317.7,211.6 319.7,213.3 321.4,218.5 322.7,221.5 320.2,223.5 322.7,224.2 326.4,224.5 328.9,225.2 332.6,226.2 336.3,228.4 337.1,230.4 341.3,230.4 345,230.7 348,230.7 351.2,232.6 354.4,235.4 358.6,236.1 359.9,239.6 360.4,243.3 359.1,247 355.4,250.5 352.9,254 350.7,256.2 350,260.7 349.7,266.9 348.2,271.8 345.5,276.8 342.8,280.3 338.8,280.8 335.1,282.3 331.1,283.7 327.6,286.5 326.1,290.4 325.6,294.2 322.7,297.9 320.2,301.1 317.2,303.8 314.2,307.3 311.5,309.8 307.8,310 304.8,308.8 301.8,307.8 305.1,311.5 305.8,314 303.8,318 299.1,319.7 292.9,320.2 292.2,324.7 286,325.2 288.4,328.1 285.5,330.9 284.2,335.1 279.5,337.6 282.5,340.8 279.3,345 275.5,348.7 277,353.2 272.3,353.7 269.3,356.2 265.6,354.9 261.1,352.5 259.9,348.7 259.9,344.3 261.9,341.8 259.2,338.8 263.1,335.6 265.6,332.1 266.1,328.4 263.6,326.4 263.9,322.2 264.4,317.7 265.9,312.8 268.3,307.8 269.3,302.8 269.3,297.9 270.1,292.9 271.6,288 272.1,283 272.6,278 272.6,273.1 272.1,269.1 269.6,266.6 265.6,264.4 260.6,261.7 257.4,257.9 255.2,253.5 252.7,248.5 250.7,244.1 248.5,240.6 245.5,238.3 245,234.6 247.3,232.1 248.5,229.4 246,228.9 246.8,225.9 248,223.5 248.2,221.2 251,220.2 252,217.3 254.4,214 254.7,209.8 254.4,206.6 253.5,205.4Z M432.1,134.7 433.6,134.4 438,136.1 441.7,136.4 445.5,134.7 449.7,132.9 454.1,131.9 459.1,132.2 464.1,131.4 469,131.2 471.5,130.9 474,131.7 472.7,133.2 473.5,135.4 474,137.9 471.8,139.1 473.5,140.1 476.5,141.8 479.4,141.8 484.4,143.1 485.6,145.3 490.1,146.8 493.8,148.3 496.3,146.6 496.3,143.3 500,141.8 504,142.6 508.7,144.6 513.7,145.8 518.6,146.8 521.6,145.6 523.6,145.1 526.8,145.8 527.3,149 527.6,150 528.6,153.3 530.3,155.2 532.3,159.5 534.8,163.9 535.3,166.4 538.2,168.9 539.2,171.9 539.2,176.3 542.2,178.8 543.9,182.5 545.2,185.5 548.9,187.2 552.1,190.7 554.1,192.5 554.1,194.9 557.1,197.4 560.8,196.7 567,195.4 573.7,193.9 573.7,197.7 572.7,201.1 570.2,204.9 568,209.8 565.8,212.5 561.3,217.3 557.1,220 552.9,224 549.9,227.9 546.7,230.2 544.9,234.6 543.4,238.3 544.7,242.1 544.4,245.8 546.9,249.5 547.4,254.5 547.9,259.4 546.7,263.7 542.2,266.4 538.5,268.1 534.8,272.6 533,273.8 534.5,278 534.8,283 529.8,286.2 528.1,288 527.8,292.9 525.3,295.4 522.4,299.9 517.4,304.6 513.2,307.3 510.2,307.8 505,307.8 501.3,308.3 496.3,309.8 492.6,308.3 491.8,304.1 491.8,301.6 489.4,296.6 487.4,294.4 484.4,290.4 483.7,285.5 482.7,280 480.2,275.6 477.7,270.1 476,266.9 476,263.2 477.2,260.2 480.2,254.5 480.9,250.8 479.4,245.8 477.2,238.3 477,235.9 474.5,233.4 471.5,230.4 469,225.9 470,223 470.5,219.7 471,216 469,212.8 466.5,212.3 462.8,212.8 460.3,210.6 457.6,207.8 452.9,207.8 449.7,208.3 444.2,210.6 440.5,211.3 436.8,210.6 431.8,211.6 428.1,212.5 424.4,210.6 419.4,206.8 415.7,204.9 414,201.1 410.7,197.4 409.5,196.2 405.3,192.7 405,190 403.3,187 405.8,183.8 406.3,178.8 406.5,175.6 404.8,171.4 407,165.2 410,160.2 413.2,156.5 414.5,154.5 418.7,152.5 421.9,150.3 422.6,147.8 422.6,145.3 425.6,140.9 429.3,139.1 431.3,135.9Z M569,253.5 571.5,260.7 571.2,264.4 569.5,268.1 567.8,273.1 565.3,280.5 563.3,285.5 558.8,286.7 555.9,285 554.1,279.3 556.6,273.1 555.9,266.9 557.8,263.7 562.1,262.2 565.3,259.4 567.5,255.7Z M432.8,134.2 431.1,132.7 428.3,131.2 424.6,131.7 424.9,128 423.1,127.2 424.6,123.7 425.1,120 423.9,116.8 426.9,115.1 432.3,115.3 437.3,115.6 442.2,115.8 443.7,112.8 444,109.8 441.2,106.6 436,104.9 435,103.4 439.3,102.4 442.7,102.9 442.2,100.2 443.7,100.9 447.2,100.7 450.4,98.9 450.7,97.2 454.6,96 457.1,94.2 458.6,92 462.8,90.7 467,90.2 468.3,88.3 467,85.8 467,82.1 471,80.8 473,80.3 472.3,83.1 473.5,84 471.5,86.3 470.8,87 471.5,88.3 474,89.5 477.2,88.8 480.9,89.3 482.2,89.8 486.9,88.8 492.6,87.5 495.1,88.5 496.3,87.3 498.8,85.8 499,82.6 500.3,80.8 502.8,80.3 504.5,82.1 507,81.6 507.2,78.8 505,77.8 505,76.6 508.7,75.9 516.2,75.9 521.6,74.9 517.4,73.1 511.2,73.6 503.8,74.9 502.5,73.9 499.5,72.1 500,68.4 499.3,66.7 503.8,64.7 508.7,62.2 509.5,61 506.2,60.2 501.8,60.5 499.5,63.5 496.3,65.7 492.1,67.9 489.6,69.7 489.4,72.6 493.3,74.6 491.4,77.1 488.1,78.3 487.9,81.6 486.4,84 482.2,85.5 478.9,86 478.5,83.8 476,80.3 474.5,77.1 472.7,75.9 470.3,77.1 466.5,79.3 462.8,79.3 460.3,77.1 459.1,73.4 459.1,69.7 464.1,67.2 469,65.7 472.7,63.5 476.5,61 478.9,57.3 482.7,54.3 486.4,52.8 491.4,50.8 497.6,49.6 503.8,48.3 510.5,47.1 516.2,47.3 522.4,48.6 523.6,49.8 521.1,50.6 528.6,51.3 536,52 542.2,54 547.9,56.5 548.9,58.5 544.7,59.5 536,58.7 529.8,58 532.3,61 533,63.5 538.5,64.2 540.5,62.7 545.9,63.2 547.2,60.7 550.9,58.7 555.9,59.2 556.3,56 555.4,53.5 560.8,54.3 562.1,57.3 565.8,55.8 570.7,54.3 578.2,52.8 583.1,53.5 589.3,53 595.5,51.8 598,50.3 605.5,51.6 610.4,52.5 615.9,54 617.9,52.5 612.9,50.8 612.4,47.8 616.6,46.1 617.9,42.9 622.8,42.1 627.3,43.1 626.6,47.3 625.3,51.1 626.6,53.5 629.5,56 625.3,59 629,59.2 631.5,56 631.5,53.5 629.8,49.8 631,45.3 634,44.4 637.7,46.1 635.2,51.1 640.2,52.3 639,47.3 640.2,44.9 646.4,44.9 647.6,41.6 655.1,40.6 662.5,38.7 662.5,36.9 674.9,35.4 687.3,34.9 694.8,33.7 705.4,30.7 712.1,32.9 723.3,33.4 728.3,36.2 719.6,39.4 727,40.4 739.4,41.9 751.8,41.9 761.7,41.1 766.7,44.9 768,47.3 776.6,46.1 786.6,46.1 794,43.6 808.9,44.1 818.8,45.3 826.2,47.6 841.1,47.8 844.9,50.6 856,51.1 864.7,50.3 869.7,52.3 870.9,49.8 883.3,50.3 893.2,52.3 893.2,61.5 889.5,63.2 886.5,63 891.5,67.2 892,68.7 879.6,70.2 873.4,72.1 869.2,74.6 859.7,73.9 855.3,74.9 851.8,78.3 848.6,79.6 851.8,84 848.6,87.5 843.6,91.5 839.9,93.2 835.4,96.9 833.2,90.7 832.4,84.5 835.7,80.1 839.9,78.8 846.1,74.6 852.3,70.2 844.1,70.2 835.7,70.9 830,75.6 823.8,77.1 815.1,76.1 801.4,76.4 795.2,80.1 787.8,85.8 782.8,87.8 789,90 796.5,91.5 795.2,96.9 794.7,103.1 789,108.6 784.1,113.1 776.6,117.5 771.7,117.8 768.7,120.5 768.4,122.3 763,124.7 765.2,127.7 767.7,131.7 767.7,135.4 765.5,136.6 760.5,138.1 760.3,135.2 761,131.7 757.3,129.7 757.5,125.5 755.1,124.2 749.3,126.5 747.6,127.2 749.8,123 746.9,122 742.6,125.5 738.9,126.2 738.9,128.5 741.9,130.9 746.4,129.7 750.6,130.7 746.9,132.7 743.1,135.9 745.1,138.4 746.6,142.1 749.1,144.8 749.1,146.8 746.9,147.8 749.3,149.3 748.1,152.8 745.6,156 743.4,159.7 740.7,162.4 736.9,165.2 733.2,167.2 729.5,168.1 725.8,169.6 720.8,170.6 720.3,173.1 718.8,170.1 715.4,169.9 711.4,172.1 708.9,176.3 710.9,179.8 715.1,183.8 717.6,188.7 717.8,193.7 713.4,197.4 711.4,199.9 707.2,201.9 706.7,197.9 702.2,196.2 700.5,193.2 697,192 696,190 694.8,190.7 693.5,196.2 692.8,200.4 695.3,202.4 696,205.6 699,206.6 702.2,209.8 703.5,213.5 703.5,217.3 705.2,220 703.5,220.2 699.7,217.8 698,216.3 696,212.3 695.5,208.6 692.3,204.1 690.6,203.4 691,198.7 691.5,193.7 689.1,187.5 688.8,182.5 686.8,181.3 683.1,184.3 680.6,183.8 680.9,178.8 678.6,174.3 675.7,171.9 674.4,168.1 671.2,168.4 667.5,169.4 662.5,170.4 662,172.9 658.8,174.6 655.1,177.6 650.9,181.8 645.9,185 645.4,190 644.7,194.9 643.4,197.9 642.4,200.4 640.7,201.6 639,203.4 636.5,201.1 634.7,195.4 632.3,191.2 631.3,186.7 629,182.5 627.8,177.6 627.3,175.6 627,171.4 626.6,169.4 625.8,171.4 622.6,172.1 618.4,168.4 619.6,167.2 617.1,165.4 614.1,164.2 612.9,161.7 611.7,160.5 605.5,160.7 599.3,160.9 593.1,160.5 588.8,159.7 587.6,156.2 583.1,157.2 579.4,157 574.5,154.3 572.5,151 570.7,148.5 568,148 565.8,149.3 567,152.8 569.5,155.7 571.2,157.7 572.5,160.7 574,158.7 574.7,161.9 576.9,163.4 580.7,163.4 584.4,160.2 586.4,158.2 586.9,161.9 590.6,164.7 595,167.6 592.3,172.4 590.1,176.3 586.9,178.8 583.1,181.3 576.4,183.8 570.7,186.3 565.8,188.7 558.3,191.7 554.6,192 553.9,190 552.9,186.3 552.4,182.5 549.6,178.8 547.2,175.1 543.9,170.1 542.2,165.2 539.2,161.4 537.2,158.2 534,154 533,150.3 531.8,154.5 529.6,152.5 527.6,149 527.1,146.1 531,145.8 533,143.6 534,140.9 535.8,137.4 535.8,134.2 536.5,132.2 533.5,132.7 529.8,133.9 526.1,133.9 522.6,132.2 519.9,133.7 516.2,132.4 514.4,130.4 512.4,128 513.2,125.5 511.7,124.2 514.9,123 518.6,123 518.9,121.5 524.8,121.3 529.8,119.3 533.5,119.3 537.2,121 541,121.8 545.9,121.8 549.6,120.5 549.6,118 544.7,115.1 541,113.1 538.5,111.8 539.7,110.6 541.5,108.6 543.9,106.4 541,106.6 534.8,108.1 533.5,110.1 537.2,111.3 534,112.3 530.5,113.3 527.8,110.8 530.1,109.4 526.1,108.4 523.1,108.1 520.4,110.6 517.9,113.1 516.2,116.3 515.7,118.5 516.7,120.5 518.6,121.3 516.2,121.8 513.2,122.7 511.4,123.5 511.2,122.3 507.5,122 505.7,124.2 503.3,123.2 503.3,126 506.2,128.7 505,129.9 503.8,132.9 501.8,132.7 499.5,130.2 499.3,128 496.8,125.5 494.8,123 494.8,119.8 492.1,117.8 487.6,115.6 484.4,113.6 482.7,111.3 480.7,111.3 480.4,110.1 477.5,110.8 477.5,113.6 480.4,115.6 483.2,118.8 486.4,119.5 486.4,120.8 491.4,122.7 492.6,124 489.4,123.2 487.9,125 489.1,126.7 487.6,128.5 485.6,129.2 485.9,127 486.4,125.5 484.7,124 482.4,122.5 478.9,121 476.5,119.3 472.7,116.8 472,114.6 468.5,113.3 465.3,114.8 461.6,116.5 457.9,115.8 454.6,116.3 454.6,119.5 451.7,121 448.7,122.3 446,125.5 446.9,127.5 445,129.9 441.7,132.2 435.8,132.4Z M0.2,52.3 7.6,54.3 15.1,57.3 21.3,57.8 25.5,59.5 22.5,61 17.5,63.7 11.3,62.5 8.9,61 3.4,59.7 0.2,61.5Z M728.3,278 730,277.5 735.7,274.6 740.7,273.8 746.9,272.1 750.1,268.1 749.8,265.6 753.1,266.4 753.6,263.7 756.8,261.4 759.8,258.4 763.7,259.4 765.5,260.4 768,260.4 768.7,257 771.2,254.2 775.4,253.5 775.6,251.7 781.6,253.7 786.1,253.7 784.1,257 782.8,260.2 786.6,262.7 791.5,265.1 795.2,266.9 797,263.2 798,258.2 798.2,254.5 800.2,250.3 802.7,255.2 803.4,258.9 807.1,260.4 807.6,264.4 809.4,270.1 813.8,273.1 817.6,278 820.8,281.3 825,285.5 826.7,289.2 827.5,294.2 826.2,300.4 823.8,304.8 821.3,308.6 819.3,312.8 818.8,316.2 813.8,317.5 810.1,320.2 806.4,318.7 802.7,319.7 797.7,318.5 794,316 792.8,312.3 789.8,311 789,306.6 788,310.3 786.1,312 783.6,309.8 781.6,306.6 779.1,304.6 774.2,302.8 769.2,301.9 763,303.3 758,304.8 754.3,307.3 748.1,307.6 743.1,308.6 739.4,310.3 734.5,309.8 732,308.3 733.2,304.1 733.7,301.6 732,297.9 730,291.7 727.8,288 728.3,284.2 728.3,278Z M805.7,324.4 810.1,325.4 814.6,324.9 814.3,328.1 812.6,330.9 808.9,331.4 806.9,328.4Z M875.1,308.8 878.3,311.5 880.8,314 883.3,316.7 888.3,316.7 889,319 886.5,321 885.3,323.4 881.6,326.7 880.3,325.9 881.1,322.7 877.8,321 880.1,319 879.6,315.2 876.6,311.5Z M875.4,323.9 878.8,325.9 876.4,330.1 874.6,332.1 871.4,333.9 869.7,337.6 865.9,339.1 862.2,338.1 859.7,337.1 863.5,333.1 868.4,330.1 872.1,327.2Z M771.7,225.4 775.4,224.5 779.1,225.4 780.4,229.7 782.8,231.6 787.8,227.9 791.5,228.4 796.5,229.9 801.4,231.9 805.2,233.1 808.4,235.9 812.6,238.3 811.9,240.3 815.1,244.5 818.8,248.3 820,249.8 816.3,249 812.6,248.3 808.9,244.5 805.2,242.6 802.7,244.5 800.2,246.3 796.5,246 792.8,243.6 789,244.1 790.3,240.8 789,237.1 784.1,234.9 779.1,233.1 776.1,233.1 776.1,230.4 772.4,227.2Z M717.1,219.7 719.6,219.2 722.8,217.3 727,215.5 730.7,211.6 734.5,208.1 736.9,206.1 738.7,207.8 741.9,210.6 739.9,212.3 738.2,214.8 739.4,217.8 741.9,221 738.9,221.7 738.2,225.4 735.7,228.4 735.2,232.1 731.5,233.4 727,231.6 723.3,231.4 720.1,230.4 719.6,227.2 717.6,224.7 717.1,222.2Z M683.1,209.6 687.3,210.6 690.3,212.8 694.3,216 696.8,218 700.5,221 703.7,223.5 705.9,227.9 709.7,230.9 709.2,237.9 706.2,237.9 702.2,234.6 698.5,230.9 695.5,225.9 692.3,222.2 691,219 687.8,215.5 683.6,211.1Z M644.7,199.4 647.1,201.1 649.6,204.9 648.9,207.8 646.1,208.8 644.7,206.6 644.7,202.4Z M771.4,138.9 775.4,135.6 780.4,135.2 784.1,134.9 786.1,131.9 789,130.9 792.5,128.7 794,124.7 794.5,121.3 797.5,121 798.5,124.2 798.7,127 796.5,129.2 796.2,132.2 795.7,134.9 793.5,136.6 790.8,137.4 787.1,137.6 785.8,138.4 783.6,140.4 782.1,138.4 779.1,137.4 775.4,138.6 772.2,139.4Z M794,120.3 794.7,116.3 797.7,116.3 798.2,111.1 802.2,113.3 806.9,114.3 807.6,116 803.9,117 801.9,119.3 797.7,118 796,119Z M798.7,109.4 799.5,105.6 799,100.7 799,95.7 799.7,90.7 800.9,88.8 802.2,92 802.2,96.9 802.7,100.7 805.7,101.9 801.4,104.4 802.2,107.9 800.4,108.6Z M433.1,99.2 438,98.7 441.7,97.9 446.7,97.4 450.2,96.5 448.7,95.5 450.9,93 447.7,92 446.9,90.2 443.7,88 442.5,85.5 441,84.5 439.8,83.6 441.7,80.8 438,80.3 436.8,80.3 438.8,78.1 434.3,78.1 432.3,80.3 432.8,83.3 431.3,83.1 433.1,86 434.8,85.5 434.5,87.5 438.3,87.3 439.3,89.8 438.8,91.2 435.5,91.2 436.3,93.2 433.8,94.7 438,95.7 439.3,96.2 436,96.7Z M431.3,94 431.8,91.2 432.8,88.3 430.6,86.5 426.9,86.3 425.6,88.3 421.9,89 422.4,91.2 423.6,93 421.1,94.5 422.6,95.7 426.9,95Z M390.9,64.9 397.1,65.9 402,66.2 409.5,64 413,62.2 410,59.2 405.8,58.5 400.8,59.5 395.8,59.7 393.4,61 390.9,58.7 386.4,60.7 392.1,61.7 387.2,62.7 392.1,64Z M236.1,169.1 239.6,166.9 243.3,165.9 248.2,166.4 253.2,168.1 258.2,170.9 262.6,173.1 259.4,174.1 253.9,174.3 254.4,172.4 250.7,170.1 244.5,168.4 241.3,167.4 238.3,169.4Z M262.1,177.3 265.6,174.1 269.3,174.1 273.1,174.6 277,177.3 274.3,178.1 270.6,178.3 268.8,179.3 265.6,178.3Z M299.6,105.4 302.8,103.1 304.1,99.4 307.8,95.5 309,96.9 307.8,99.4 312.7,100.7 315.2,103.1 316,105.6 314,107.6 310.3,106.9 307.8,105.4 304.1,105.4Z M265.6,29.5 278,27 285.5,23 297.9,20 317.7,18.8 335.1,18.1 357.4,16.3 377.2,16.8 392.1,19.3 402,21.3 415.7,21.3 404.5,25 400.8,30 398.3,33.7 399.6,37.4 394.6,41.1 390.9,44.9 392.1,48.6 384.7,50.3 382.2,53.3 369.8,54.5 362.4,58.5 353.7,60.5 347.5,62.2 345,65.9 341.3,70.9 338.8,74.6 333.8,74.1 327.6,72.1 322.7,68.4 318.9,64.7 315.2,60.2 314,56 318.9,52.3 312.7,49.8 311.5,46.1 307.8,42.4 302.8,37.4 295.4,34.9 283,34.9 273.1,33.7 270.6,31.7Z" stroke-width="2.4"/><path d="M276.5,353.9 277.5,355.7 280.5,357.7 285,359.2 281.7,360.1 276.8,361.1 273.1,360.6 268.6,358.7 271.8,356.9 272.1,354.7 274.5,353.7Z M294.9,351.7 299.1,350.7 303.3,351.5 300.8,353 296.6,353Z M707.7,240.3 710.9,238.3 715.9,239.6 720.8,239.6 725.8,240.6 730.7,242.8 730.7,245 725.8,244.3 719.6,243.8 714.6,242.8 710.9,241.8Z M743.1,237.1 743.1,232.1 741.4,230.2 743.9,222.7 746.9,220.2 751.8,221 757.3,219.5 754.3,222.5 748.1,222.2 745.1,222.7 744.9,225.7 748.1,225.7 752.6,225.7 749.3,227.9 748.6,230.4 751.3,233.4 750.6,236.4 748.1,234.6 746.9,230.4 745.4,230.9 745.6,237.1Z M745.6,177.6 749.8,177.8 750.1,182.5 748.4,186.3 750.6,188.7 754.3,190 754.3,192.2 751.8,190.5 748.6,189.2 746.1,188.2 744.6,186.3 745.1,182.5Z M749.3,204.9 753.1,202.1 758,199.4 760.5,203.6 759.8,207.3 758,209.1 755.5,207.8 754.3,205.6 750.6,206.1Z M749.3,197.4 751.8,194.9 755.5,192.5 758.3,194.9 756.8,198.2 753.1,199.9 750.6,199.6Z M737.4,202.6 740.7,199.9 743.4,196.2 742.4,195.7 739.4,198.7 736.9,201.6Z M753.1,249 756.8,245.8 761.7,244.3 760.5,245.8 756.8,248.3 754.3,249.5Z M734.5,244.3 739.4,243.8 744.4,244.1 751.3,244.1 750.6,245.5 744.4,245.8 739.4,245.5 734.5,245.5Z M763,218.5 765,221 766,224.7 763.7,225.4 763.2,221.7Z M759.3,231.4 764.2,230.7 770.4,231.4 766.7,232.4 761.7,232.4Z M815.1,237.4 818.8,236.1 823.8,233.9 824.3,235.9 820,238.8 816.3,238.8Z M746.9,160.9 749.1,161.9 748.1,165.2 746.4,168.9 744.6,166.4 745.1,163.2Z M716.4,175.6 719.6,173.6 722.1,174.6 720.6,177.3 717.8,178.3 716.1,177.1Z M768.4,140.9 771.7,139.4 773.9,141.6 772.7,145.3 770.7,146.3 769.7,143.6Z M775.1,139.6 779.9,138.4 780.6,139.6 777.9,140.6 776.1,142.1Z M477.7,129.2 480.2,128.7 485.2,128.7 484.2,132.4 481.4,131.7 478,130.2Z M467,122 469.8,121.3 471,123.5 470.5,126.2 468.5,127 467.5,124.7Z M468,118 470,116.8 470.3,119.5 469.3,120.8 468,119.5Z M505,135.4 508.7,135.6 511.9,136.1 508.7,136.9 505.2,136.1Z M526.8,136.6 528.6,135.9 532.5,134.9 531,136.6 528.6,137.6Z M252.5,177.8 255.7,177.6 257.7,178.8 255.2,179.3 252.5,178.6Z M280,177.6 283.7,177.8 283.5,178.8 280,178.8Z M128.4,97.4 134.1,98.4 137.1,100.2 140.3,103.1 137.4,102.9 132.9,100.7Z M116.8,89.3 119.7,89.5 121.2,93.2 118.5,92Z M63.4,80.8 68.9,79.6 68.4,81.3 64.7,82.6Z M59.7,173.4 62.2,174.3 61,176.3 59.7,175.1Z M247,40.6 255.7,41.1 260.6,43.6 270.6,46.6 276.8,49.1 280.5,51.6 287.9,56 294.1,58 287.9,61 289.2,62.7 284.2,65.9 281.7,69.7 278,68.2 274.3,67.7 268.1,65.2 263.1,63.5 253.7,64 253.2,61.5 263.1,61 264.4,58.5 266.8,56 261.9,53.5 255.7,50.3 250.7,49.3 243.3,50.1 235.8,49.8 228.4,48.6 224.7,46.1 223.4,43.6 225.9,41.1 233.4,40.4 235.8,42.4 243.3,40.6Z M230.9,61.5 235.8,60.2 239.6,60.2 244.5,63.5 247,65.7 242,66.7 235.8,66.7 230.9,64.7Z M155.2,49.8 163.9,51.8 168.9,53.3 178.8,53 187.5,53.3 193.7,51.1 194.9,48.6 188.7,47.3 186.2,43.6 178.8,41.9 171.3,42.9 163.9,41.6 154,43.6 151.5,46.1 157.7,47.3Z M136.6,45.1 141.6,46.8 147.8,46.1 154,43.6 158.9,41.9 156.5,39.4 146.5,38.7 137.9,40.4 135.4,43.6Z M193.7,44.9 201.1,46.1 206.1,43.6 204.8,40.4 197.4,39.9 192.4,42.4Z M209.8,44.9 214.8,44.9 222.2,42.4 221,39.9 211,39.9Z M218.5,38.2 228.4,38.7 238.3,38.7 247,38.4 248.2,36.2 240.8,35.4 228.4,35.7 221,33.7 216,34.2Z M156.5,37.4 166.4,38.7 178.8,37.9 183.7,36.2 176.3,33.7 166.4,34.4 158.9,34.4Z M188.7,36.9 198.6,37.4 204.8,35.9 202.4,33.4 193.7,33.7 187.5,34.9Z M208.6,28.7 221,29.2 229.6,27.5 228.4,24.3 218.5,22.5 209.8,25Z M223.4,34.2 235.8,34.2 248.2,34.4 253.2,32.4 255.7,29.2 260.6,27.5 273.1,25 285.5,22.5 292.9,19.3 278,17.6 258.2,17.3 238.3,18.8 223.4,20.5 230.9,23.8 235.8,26.2 233.4,29.2 225.9,31.2Z M141.6,34.9 151.5,35.4 158.9,32.4 151.5,31.2Z M199.9,51.8 206.1,53 209.8,51.8 206.1,50.1Z M186.2,30 198.6,30.5 203.6,28.7 191.2,27Z M474,28 481.4,31.2 486.4,33.2 492.6,31.2 500,29.2 493.8,27 501.3,26.2 513.7,24.8 501.3,23.8 488.9,25 481.4,25.5Z M574.5,46.1 579.4,47.8 588.1,48.1 584.4,44.9 585.6,41.6 591.8,39.1 603,36.2 612.9,34.2 617.9,32.7 610.4,32.4 598,34.2 588.1,36.2 583.1,39.9 579.4,42.4 576.9,44.1Z M683.6,27.5 692.3,30 702.2,29.2 707.2,27.5 699.7,26.2 692.3,25 687.3,22.5 677.4,23 679.9,25.5Z M786.6,36.2 796.5,37.9 806.4,37.4 816.3,36.9 821.3,37.9 813.8,34.9 801.4,34.4 791.5,34.4Z M794,41.1 802.7,41.9 800.2,40.1 795.2,39.9Z M889.5,47.1 893.2,47.6 893.2,46.1 890.7,45.8Z M0.2,47.6 6.4,47.1 3.9,45.8 0.2,46.1Z M563.3,24.3 575.7,25.3 590.6,24.5 600.5,23 590.6,21.3 575.7,22.5 565.8,23Z M567,51.6 570.7,52.3 569.5,53 566.5,52.5Z M20.8,65.4 27.5,66.9 26.2,65.7Z M32.4,74.1 35.9,73.9 35.4,75.1Z M578.9,192.2 581.9,192.5 580.7,193Z M293.4,196.9 295.4,196.7 295.4,198.4 293.4,198.4Z M853.5,273.3 857.3,275.6 861,278.8 858.5,278 854.8,275.3Z M831.2,238.3 834.9,240.3 832.4,240.3Z M886.5,266.9 889.8,267.1 888.8,268.6 886.5,268.1Z M820.8,229.9 823.8,231.6 826.2,234.9 825,233.9 821.3,230.9Z M707.9,227.7 710.9,228.4 710.9,230.9 709.2,229.7Z" stroke-width="3.1"/><path d="M611.7,52.5 605.5,55.3 599.3,59.2 594.3,62.7 594.3,69.7 594.3,74.6 590.6,79.6 593.8,84.5 593.1,88.3 595.5,92 599,95.5 590.6,96.9 583.1,96.9 576.9,95.2 572,95.2 567,98.2 563.3,98.2 563,103.1 563.8,104.9 567,106.9 568.3,108.1 563.3,110.6 562.5,113.1 564.5,116.8 567,119.8 562.1,119.5 557.1,117.5 552.1,116.3 545.9,115.8" stroke-width="2.1"/><path d="M54.7,82.6 47.3,84.8 39.9,87 32.4,89 25,90.5 15.1,92.2 5.1,93.7 0.2,94.2" stroke-width="3.0"/><path d="M893.2,94.2 885.8,93 875.9,91.5" stroke-width="3.0"/><path d="M807.9,114.8 813.8,111.1 820,107.9 826.2,103.9 832.4,98.9 835.2,96.9" stroke-width="2.6"/><path d="M263.6,327.2 261.9,332.6 259.9,339.6 260.2,346.3 261.9,352.5 266.8,356.9 271.8,359.7 278,361.1 283,359.9" stroke-width="3.6"/><path d="M459.6,76.6 459.1,72.6 459.8,69.2 465.3,66.7 472,63.7 477,60.2 480.2,56.5 485.2,53.3 492.6,50.3 501.3,48.6 511.2,47.3 518.6,47.8" stroke-width="3.0"/><path d="M268.1,29.2 280.5,26 290.4,21.8 307.8,19.3 335.1,17.8 362.4,16.3 382.2,17.1 397.1,20 412,21 402,25 399.6,30 397.1,34.9 397.1,38.7 392.1,42.9 389.6,47.3 385.9,49.8" stroke-width="3.8"/><path d="M394.6,32.4 392.1,36.2 389.6,41.1 387.2,44.9" stroke-width="4.5"/><path d="M382.2,49.8 389.6,47.8 392.1,46.1" stroke-width="4.0"/><path d="M315.2,59.7 314,54.8 317.7,51.1 311.5,48.6 310.3,43.6 305.3,38.7 295.4,34.9" stroke-width="3.2"/><path d="M137.9,100.7 131.7,96.5 127.9,92 123,87.5 118,83.3 113,79.1 106.8,78.1" stroke-width="3.2"/><path d="M470.3,87 472.7,85.5 475.2,86.3 477.2,85 474,84 472,83.1" stroke-width="2.8"/><path d="M472.7,87.3 476.5,88 476,86.5" stroke-width="2.8"/><path d="M503.8,129.2 506.2,127.5 510,129.2 511.2,131.7 507.5,132.4 504.3,131.9 508.7,125.5 511.7,126.7" stroke-width="2.6"/><path d="M513.7,131.7 515.7,133.4" stroke-width="2.6"/><path d="M746.9,178.8 748.1,182.5 747.6,187.5 750.6,191.2 753.1,193.7 755.5,196.2 758,201.1 756.8,206.1" stroke-width="3.2"/><path d="M749.3,180.1 749.3,185" stroke-width="3.0"/><path d="M750.6,196.2 752.3,198.7 751.8,200.6" stroke-width="2.8"/><path d="M754.3,203.6 759.3,204.9" stroke-width="2.6"/><path d="M709.7,239.6 717.1,241.3 724.5,242.6 730.7,244.1 736.9,244.8 744.4,244.8 751.8,244.5" stroke-width="2.6"/><path d="M683.6,216.8 688.1,221 691.8,225 695.3,230.7" stroke-width="2.6"/><path d="M676.9,190.5 676.7,194.2 676.4,196.9" stroke-width="2.4"/><path d="M248.2,42.4 233.4,44.9 223.4,49.8" stroke-width="2.6"/><path d="M136.6,43.6 154,41.1 173.8,37.9 198.6,36.2 218.5,36.2 238.3,36.9 248.2,39.4" stroke-width="3.0"/><path d="M149,34.2 168.9,34.4 188.7,33.7 208.6,31.7 223.4,30 238.3,31.2 250.7,32.4" stroke-width="3.0"/><path d="M198.6,27.5 218.5,25 238.3,22.5 263.1,20 283,18.6" stroke-width="3.0"/><path d="M161.4,44.9 178.8,46.1 193.7,47.3 203.6,48.6 213.5,46.1" stroke-width="3.0"/><path d="M183.7,51.1 198.6,49.8 208.6,47.8" stroke-width="2.8"/><path d="M203.6,44.9 203.6,38.7" stroke-width="2.8"/><path d="M213.5,43.6 216,36.2" stroke-width="2.8"/><path d="M188.7,42.4 188.7,36.2" stroke-width="2.8"/><path d="M228.4,42.4 233.4,37.4" stroke-width="2.8"/><path d="M173.8,42.4 171.3,34.9" stroke-width="2.8"/><path d="M223.4,34.9 233.4,27.5 233.4,22.5" stroke-width="2.8"/><path d="M248.2,37.4 253.2,30" stroke-width="2.8"/><path d="M258.2,25 273.1,21.3" stroke-width="2.6"/><path d="M260.6,53.5 268.1,49.8 275.5,51.1 283,54.8" stroke-width="2.6"/><path d="M248.2,59.7 260.6,57.3 265.6,61 273.1,63.5" stroke-width="2.6"/><path d="M253.2,67.2 263.1,65.9 273.1,67.7" stroke-width="2.6"/><path d="M235.3,67.2 233.4,70.9 235.8,74.6" stroke-width="2.4"/><path d="M247,77.1 248.2,82.1 249.5,85.8 248.2,89.5 247,93.2" stroke-width="2.4"/><path d="M285.5,18.8 302.8,19.3" stroke-width="2.4"/><path d="M481.4,30 488.9,27.5 498.8,26.2 508.7,25.5" stroke-width="2.6"/><path d="M481.4,31.2 491.4,32.4 498.8,30.5" stroke-width="2.6"/><path d="M578.2,46.1 583.1,42.9 588.1,38.7 600.5,35.4 612.9,33.2" stroke-width="2.6"/><path d="M684.8,26.2 694.8,27.5 704.7,28.5" stroke-width="2.6"/><path d="M791.5,36.2 801.4,36.2 813.8,36.2" stroke-width="2.6"/><path d="M811.4,330.1 812.6,327.7" stroke-width="2.6"/><path d="M787.3,311 788.5,309 789,306.6" stroke-width="2.6"/><path d="M263.1,332.6 264.4,328.9" stroke-width="2.6"/><g fill="#000" stroke="none"><circle cx="55" cy="170.4" r="1.9"/><circle cx="51" cy="168.9" r="1.4"/><circle cx="58.5" cy="171.9" r="1.4"/><circle cx="6.6" cy="153.5" r="1.9"/><circle cx="75.8" cy="267.1" r="1.4"/><circle cx="70.9" cy="264.9" r="1.4"/><circle cx="99.4" cy="245.8" r="1.9"/><circle cx="101.9" cy="247.8" r="1.4"/><circle cx="20" cy="257.4" r="1.4"/><circle cx="22.5" cy="258.7" r="1.9"/><circle cx="12.6" cy="276.1" r="1.4"/><circle cx="15.1" cy="269.9" r="1.4"/><circle cx="50.3" cy="276.1" r="1.9"/><circle cx="56" cy="273.1" r="1.4"/><circle cx="87" cy="263.2" r="1.4"/><circle cx="92" cy="266.9" r="1.9"/><circle cx="109.3" cy="276.8" r="1.4"/><circle cx="112.1" cy="280.8" r="1.4"/><circle cx="124" cy="285.7" r="1.9"/><circle cx="175.3" cy="290.7" r="1.4"/><circle cx="8.9" cy="332.6" r="1.4"/><circle cx="221" cy="225" r="1.9"/><circle cx="222.7" cy="225.2" r="1.4"/><circle cx="224.7" cy="225.7" r="1.4"/><circle cx="219.7" cy="224.2" r="1.9"/><circle cx="286.2" cy="143.3" r="1.4"/><circle cx="383.4" cy="129.7" r="1.4"/><circle cx="379.2" cy="127.5" r="1.9"/><circle cx="376" cy="128" r="1.4"/><circle cx="369.3" cy="125.5" r="1.4"/><circle cx="404.5" cy="142.3" r="1.9"/><circle cx="405.8" cy="153.3" r="1.4"/><circle cx="408" cy="154" r="1.4"/><circle cx="412" cy="153" r="1.9"/><circle cx="402.3" cy="152.3" r="1.4"/><circle cx="388.2" cy="186.3" r="1.4"/><circle cx="386.4" cy="182.3" r="1.9"/><circle cx="389.9" cy="183.5" r="1.4"/><circle cx="432.6" cy="263.2" r="1.4"/><circle cx="356.2" cy="358.2" r="1.9"/><circle cx="353.7" cy="357.7" r="1.4"/><circle cx="381" cy="368.3" r="1.4"/><circle cx="589.6" cy="273.6" r="1.9"/><circle cx="584.4" cy="275.8" r="1.4"/><circle cx="554.1" cy="252.5" r="1.4"/><circle cx="556.8" cy="253.7" r="1.9"/><circle cx="558.8" cy="255.2" r="1.4"/><circle cx="584.4" cy="234.9" r="1.4"/><circle cx="629" cy="213" r="1.9"/><circle cx="628.3" cy="218.5" r="1.4"/><circle cx="628" cy="225" r="1.4"/><circle cx="626.3" cy="241.6" r="1.9"/><circle cx="627.8" cy="206.6" r="1.4"/><circle cx="627.3" cy="197.4" r="1.4"/><circle cx="625.8" cy="194.9" r="1.9"/><circle cx="676.9" cy="192.5" r="1.4"/><circle cx="676.9" cy="194.9" r="1.4"/><circle cx="676.4" cy="197.2" r="1.9"/><circle cx="679.4" cy="206.1" r="1.4"/><circle cx="678.6" cy="203.6" r="1.4"/><circle cx="619.1" cy="345.8" r="1.9"/><circle cx="620.8" cy="345.3" r="1.4"/><circle cx="617.9" cy="346.3" r="1.4"/><circle cx="639" cy="317.2" r="1.9"/><circle cx="575.2" cy="338.6" r="1.4"/><circle cx="540.5" cy="339.8" r="1.4"/><circle cx="805.9" cy="190" r="1.9"/><circle cx="808.1" cy="185.8" r="1.4"/><circle cx="780.4" cy="204.9" r="1.4"/><circle cx="789.3" cy="199.9" r="1.9"/><circle cx="823.3" cy="205.1" r="1.4"/><circle cx="839.1" cy="206.3" r="1.4"/><circle cx="851.1" cy="210.3" r="1.9"/><circle cx="871.4" cy="205.9" r="1.4"/><circle cx="862.7" cy="201.9" r="1.4"/><circle cx="875.9" cy="220" r="1.9"/><circle cx="860.7" cy="224.7" r="1.4"/><circle cx="891.2" cy="244.5" r="1.4"/><circle cx="864.2" cy="267.4" r="1.9"/><circle cx="861" cy="261.9" r="1.4"/><circle cx="860.2" cy="258.9" r="1.4"/><circle cx="867.2" cy="271.8" r="1.9"/><circle cx="843.6" cy="247" r="1.4"/><circle cx="847.3" cy="248.8" r="1.4"/><circle cx="841.1" cy="243.3" r="1.9"/><circle cx="837.4" cy="241.6" r="1.4"/><circle cx="844.9" cy="244.5" r="1.4"/><circle cx="848.6" cy="249.8" r="1.9"/><circle cx="863.2" cy="295.4" r="1.4"/><circle cx="841.4" cy="301.6" r="1.4"/><circle cx="763.7" cy="157.7" r="1.9"/><circle cx="765" cy="157" r="1.4"/><circle cx="768" cy="153.3" r="1.4"/><circle cx="770.4" cy="148" r="1.9"/><circle cx="799.5" cy="156.2" r="1.4"/><circle cx="754.3" cy="162.9" r="1.4"/><circle cx="757.5" cy="161.9" r="1.9"/><circle cx="826.2" cy="106.9" r="1.4"/><circle cx="821.3" cy="109.4" r="1.4"/><circle cx="831.2" cy="100.7" r="1.9"/><circle cx="813.8" cy="111.3" r="1.4"/><circle cx="811.4" cy="113.1" r="1.4"/><circle cx="833.7" cy="98.2" r="1.9"/><circle cx="17.5" cy="94" r="1.4"/><circle cx="25" cy="92.5" r="1.4"/><circle cx="32.4" cy="90.7" r="1.9"/><circle cx="8.6" cy="95" r="1.4"/><circle cx="889.5" cy="95.5" r="1.4"/><circle cx="878.3" cy="92.7" r="1.9"/><circle cx="34.9" cy="89.8" r="1.4"/><circle cx="859.2" cy="86.8" r="1.4"/><circle cx="48.5" cy="169.1" r="1.9"/><circle cx="26.2" cy="83.1" r="1.4"/><circle cx="24.2" cy="81.6" r="1.4"/><circle cx="297.9" cy="190.7" r="1.9"/><circle cx="295.4" cy="187" r="1.4"/><circle cx="294.1" cy="183.3" r="1.4"/><circle cx="294.9" cy="190.7" r="1.9"/><circle cx="293.6" cy="193.4" r="1.4"/><circle cx="290.9" cy="180.5" r="1.4"/><circle cx="286" cy="179.6" r="1.9"/><circle cx="275.8" cy="193.2" r="1.4"/><circle cx="254.4" cy="163.4" r="1.4"/><circle cx="253.7" cy="157.7" r="1.9"/><circle cx="258.2" cy="162.9" r="1.4"/><circle cx="253.2" cy="161.4" r="1.4"/><circle cx="264.4" cy="171.6" r="1.9"/><circle cx="245" cy="175.6" r="1.4"/><circle cx="5.1" cy="268.1" r="1.4"/><circle cx="893" cy="264.4" r="1.9"/><circle cx="279.3" cy="361.9" r="1.4"/><circle cx="261.9" cy="345" r="1.4"/><circle cx="260.6" cy="339.6" r="1.9"/><circle cx="263.1" cy="331.4" r="1.4"/><circle cx="438.5" cy="77.1" r="1.4"/><circle cx="443.5" cy="73.9" r="1.9"/><circle cx="429.3" cy="69.7" r="1.4"/><circle cx="430.6" cy="80.8" r="1.4"/><circle cx="428.8" cy="81.6" r="1.9"/><circle cx="493.8" cy="38.9" r="1.4"/><circle cx="425.6" cy="47.3" r="1.4"/><circle cx="452.9" cy="125.2" r="1.9"/><circle cx="454.1" cy="125.2" r="1.4"/><circle cx="456.6" cy="124.2" r="1.4"/><circle cx="450.2" cy="127" r="1.9"/><circle cx="482.4" cy="134.4" r="1.4"/><circle cx="496.1" cy="125.2" r="1.4"/><circle cx="497.8" cy="128.7" r="1.9"/><circle cx="509.2" cy="131.7" r="1.4"/><circle cx="512.4" cy="126.2" r="1.4"/><circle cx="514.2" cy="133.7" r="1.9"/><circle cx="516.2" cy="133.7" r="1.4"/><circle cx="507.5" cy="129.7" r="1.4"/><circle cx="503.5" cy="78.6" r="1.9"/><circle cx="502.8" cy="77.3" r="1.4"/><circle cx="492.6" cy="80.8" r="1.4"/><circle cx="488.1" cy="82.6" r="1.9"/><circle cx="483.7" cy="86.8" r="1.4"/><circle cx="476" cy="86" r="1.4"/><circle cx="472.7" cy="86.3" r="1.9"/><circle cx="475.2" cy="87.5" r="1.4"/><circle cx="572" cy="158.7" r="1.4"/><circle cx="585.6" cy="157" r="1.9"/><circle cx="750.1" cy="148.8" r="1.4"/><circle cx="743.1" cy="165.2" r="1.4"/><circle cx="760.5" cy="140.6" r="1.9"/><circle cx="767.5" cy="138.1" r="1.4"/><circle cx="790" cy="129.2" r="1.4"/><circle cx="749.3" cy="193.7" r="1.9"/><circle cx="746.4" cy="190.7" r="1.4"/><circle cx="744.1" cy="193.7" r="1.4"/><circle cx="746.9" cy="208.6" r="1.9"/><circle cx="744.4" cy="210.3" r="1.4"/><circle cx="761" cy="213.5" r="1.4"/><circle cx="764.2" cy="231.9" r="1.9"/><circle cx="769.2" cy="227.9" r="1.4"/><circle cx="771.2" cy="228.4" r="1.4"/><circle cx="780.4" cy="238.8" r="1.9"/><circle cx="772.9" cy="242.3" r="1.4"/><circle cx="768.7" cy="242.8" r="1.4"/><circle cx="761.7" cy="243.3" r="1.9"/><circle cx="753.8" cy="244.8" r="1.4"/><circle cx="743.6" cy="247.5" r="1.4"/><circle cx="744.4" cy="248.3" r="1.9"/><circle cx="732.5" cy="244.3" r="1.4"/><circle cx="735.2" cy="244.8" r="1.4"/><circle cx="714.6" cy="230.7" r="1.9"/><circle cx="715.1" cy="214" r="1.4"/><circle cx="705.9" cy="221" r="1.4"/><circle cx="691" cy="224.7" r="1.9"/><circle cx="693.5" cy="227.9" r="1.4"/><circle cx="688.6" cy="221" r="1.4"/><circle cx="684.8" cy="216.8" r="1.9"/><circle cx="695.3" cy="230.4" r="1.4"/><circle cx="700.5" cy="236.9" r="1.4"/><circle cx="785.8" cy="258.2" r="1.9"/><circle cx="792.8" cy="264.6" r="1.4"/><circle cx="770.9" cy="252.2" r="1.4"/><circle cx="786.6" cy="312.3" r="1.9"/><circle cx="803.9" cy="322.7" r="1.4"/><circle cx="813.8" cy="323.2" r="1.4"/><circle cx="863.5" cy="340.1" r="1.9"/><circle cx="9.6" cy="332.1" r="1.4"/><circle cx="859.7" cy="349.2" r="1.4"/><circle cx="866.4" cy="353.7" r="1.9"/><circle cx="840.9" cy="358.9" r="1.4"/><circle cx="645.2" cy="28.7" r="1.4"/><circle cx="636.5" cy="26.2" r="1.9"/><circle cx="672.4" cy="32" r="1.4"/><circle cx="684.8" cy="32.4" r="1.4"/><circle cx="712.1" cy="30" r="1.9"/><circle cx="650.1" cy="36.2" r="1.4"/><circle cx="724.5" cy="38.7" r="1.4"/><circle cx="784.1" cy="40.1" r="1.9"/><circle cx="810.1" cy="36.4" r="1.4"/><circle cx="834.9" cy="32.4" r="1.4"/><circle cx="847.3" cy="50.6" r="1.9"/><circle cx="865.9" cy="49.8" r="1.4"/><circle cx="595.5" cy="22.5" r="1.4"/><circle cx="605.5" cy="22.5" r="1.9"/><circle cx="528.6" cy="24.5" r="1.4"/><circle cx="510" cy="33.7" r="1.4"/><circle cx="296.6" cy="108.1" r="1.9"/><circle cx="290.4" cy="108.4" r="1.4"/><circle cx="293.4" cy="105.6" r="1.4"/><circle cx="287.9" cy="100.7" r="1.9"/><circle cx="248.2" cy="70.9" r="1.4"/><circle cx="249.5" cy="83.3" r="1.4"/><circle cx="248.2" cy="92" r="1.9"/><circle cx="243.3" cy="67.9" r="1.4"/><circle cx="258.2" cy="65.9" r="1.4"/><circle cx="286.2" cy="70.9" r="1.9"/><circle cx="273.1" cy="68.4" r="1.4"/><circle cx="268.1" cy="45.3" r="1.4"/><circle cx="250.7" cy="43.6" r="1.9"/><circle cx="218.5" cy="37.4" r="1.4"/><circle cx="207.3" cy="36.2" r="1.4"/><circle cx="203.6" cy="42.4" r="1.9"/><circle cx="198.6" cy="52.8" r="1.4"/><circle cx="173.8" cy="54.3" r="1.4"/><circle cx="168.9" cy="32.9" r="1.9"/><circle cx="188.7" cy="32.9" r="1.4"/><circle cx="208.6" cy="32" r="1.4"/><circle cx="223.4" cy="32.4" r="1.9"/><circle cx="213.5" cy="29.2" r="1.4"/><circle cx="198.6" cy="34.9" r="1.4"/><circle cx="166.4" cy="28.7" r="1.9"/><circle cx="173.8" cy="30" r="1.4"/><circle cx="124.2" cy="49.1" r="1.4"/><circle cx="110.6" cy="52.5" r="1.9"/><circle cx="149" cy="32.4" r="1.4"/></g></g>
<g id="frame"><rect x="0" y="0" width="893.4" height="374.6" fill="none" stroke="#000" stroke-width="1.8"/><path d="M149,0v7.5M149,374.6v-7.5M297.9,0v7.5M297.9,374.6v-7.5M446.7,0v7.5M446.7,374.6v-7.5M595.5,0v7.5M595.5,374.6v-7.5M744.4,0v7.5M744.4,374.6v-7.5M0,0.2h7.5M893.4,0.2h-7.5M0,74.6h7.5M893.4,74.6h-7.5M0,149h7.5M893.4,149h-7.5M0,223.5h7.5M893.4,223.5h-7.5M0,297.9h7.5M893.4,297.9h-7.5M0,372.3h7.5M893.4,372.3h-7.5" stroke="#000" stroke-width="1.5" fill="none"/></g>
</defs>
<g transform="translate(86,71.5)">
<g clip-path="url(#box)"><g clip-path="url(#land)"><g filter="url(#rg)"><g filter="url(#bl)"><rect x="-29.8" y="-29.8" width="154.3" height="55.1" fill="#404040"/><rect x="124.2" y="-29.8" width="223.6" height="55.1" fill="#262626"/><rect x="347.5" y="-29.8" width="99.5" height="55.1" fill="#595959"/><rect x="446.7" y="-29.8" width="99.5" height="55.1" fill="#262626"/><rect x="545.9" y="-29.8" width="49.9" height="55.1" fill="#595959"/><rect x="595.5" y="-29.8" width="149.1" height="55.1" fill="#404040"/><rect x="744.4" y="-29.8" width="99.5" height="55.1" fill="#595959"/><rect x="843.6" y="-29.8" width="79.9" height="55.1" fill="#404040"/><rect x="-29.8" y="25" width="179.1" height="25.1" fill="#404040"/><rect x="149" y="25" width="198.8" height="25.1" fill="#262626"/><rect x="347.5" y="25" width="124.3" height="25.1" fill="#595959"/><rect x="471.5" y="25" width="74.7" height="25.1" fill="#262626"/><rect x="545.9" y="25" width="49.9" height="25.1" fill="#595959"/><rect x="595.5" y="25" width="124.3" height="25.1" fill="#404040"/><rect x="719.6" y="25" width="25.1" height="25.1" fill="#595959"/><rect x="744.4" y="25" width="25.1" height="25.1" fill="#666666"/><rect x="769.2" y="25" width="74.7" height="25.1" fill="#595959"/><rect x="843.6" y="25" width="79.9" height="25.1" fill="#404040"/><rect x="-29.8" y="49.8" width="278.4" height="25.1" fill="#404040"/><rect x="248.2" y="49.8" width="25.1" height="25.1" fill="#262626"/><rect x="273.1" y="49.8" width="74.7" height="25.1" fill="#404040"/><rect x="347.5" y="49.8" width="124.3" height="25.1" fill="#595959"/><rect x="471.5" y="49.8" width="74.7" height="25.1" fill="#737373"/><rect x="545.9" y="49.8" width="49.9" height="25.1" fill="#595959"/><rect x="595.5" y="49.8" width="25.1" height="25.1" fill="#4c4c4c"/><rect x="620.3" y="49.8" width="74.7" height="25.1" fill="#404040"/><rect x="694.8" y="49.8" width="49.9" height="25.1" fill="#595959"/><rect x="744.4" y="49.8" width="25.1" height="25.1" fill="#666666"/><rect x="769.2" y="49.8" width="25.1" height="25.1" fill="#737373"/><rect x="794" y="49.8" width="49.9" height="25.1" fill="#595959"/><rect x="843.6" y="49.8" width="79.9" height="25.1" fill="#404040"/><rect x="-29.8" y="74.6" width="55.1" height="25.1" fill="#404040"/><rect x="25" y="74.6" width="99.5" height="25.1" fill="#595959"/><rect x="124.2" y="74.6" width="49.9" height="25.1" fill="#4c4c4c"/><rect x="173.8" y="74.6" width="25.1" height="25.1" fill="#595959"/><rect x="198.6" y="74.6" width="25.1" height="25.1" fill="#4c4c4c"/><rect x="223.4" y="74.6" width="25.1" height="25.1" fill="#595959"/><rect x="248.2" y="74.6" width="25.1" height="25.1" fill="#4c4c4c"/><rect x="273.1" y="74.6" width="124.3" height="25.1" fill="#595959"/><rect x="397.1" y="74.6" width="49.9" height="25.1" fill="#9f9f9f"/><rect x="446.7" y="74.6" width="25.1" height="25.1" fill="#949494"/><rect x="471.5" y="74.6" width="25.1" height="25.1" fill="#8a8a8a"/><rect x="496.3" y="74.6" width="25.1" height="25.1" fill="#7f7f7f"/><rect x="521.1" y="74.6" width="49.9" height="25.1" fill="#737373"/><rect x="570.7" y="74.6" width="74.7" height="25.1" fill="#666666"/><rect x="645.2" y="74.6" width="99.5" height="25.1" fill="#595959"/><rect x="744.4" y="74.6" width="25.1" height="25.1" fill="#666666"/><rect x="769.2" y="74.6" width="25.1" height="25.1" fill="#737373"/><rect x="794" y="74.6" width="74.7" height="25.1" fill="#4c4c4c"/><rect x="868.4" y="74.6" width="55.1" height="25.1" fill="#404040"/><rect x="-29.8" y="99.4" width="154.3" height="25.1" fill="#595959"/><rect x="124.2" y="99.4" width="25.1" height="25.1" fill="#8a8a8a"/><rect x="149" y="99.4" width="25.1" height="25.1" fill="#595959"/><rect x="173.8" y="99.4" width="49.9" height="25.1" fill="#737373"/><rect x="223.4" y="99.4" width="49.9" height="25.1" fill="#8a8a8a"/><rect x="273.1" y="99.4" width="74.7" height="25.1" fill="#737373"/><rect x="347.5" y="99.4" width="25.1" height="25.1" fill="#595959"/><rect x="372.3" y="99.4" width="49.9" height="25.1" fill="#9f9f9f"/><rect x="421.9" y="99.4" width="25.1" height="25.1" fill="#8a8a8a"/><rect x="446.7" y="99.4" width="25.1" height="25.1" fill="#7f7f7f"/><rect x="471.5" y="99.4" width="25.1" height="25.1" fill="#8a8a8a"/><rect x="496.3" y="99.4" width="74.7" height="25.1" fill="#7f7f7f"/><rect x="570.7" y="99.4" width="49.9" height="25.1" fill="#595959"/><rect x="620.3" y="99.4" width="25.1" height="25.1" fill="#666666"/><rect x="645.2" y="99.4" width="25.1" height="25.1" fill="#595959"/><rect x="670" y="99.4" width="49.9" height="25.1" fill="#4c4c4c"/><rect x="719.6" y="99.4" width="25.1" height="25.1" fill="#595959"/><rect x="744.4" y="99.4" width="25.1" height="25.1" fill="#666666"/><rect x="769.2" y="99.4" width="49.9" height="25.1" fill="#737373"/><rect x="818.8" y="99.4" width="49.9" height="25.1" fill="#4c4c4c"/><rect x="868.4" y="99.4" width="55.1" height="25.1" fill="#404040"/><rect x="-29.8" y="124.2" width="129.5" height="25.1" fill="#595959"/><rect x="99.4" y="124.2" width="49.9" height="25.1" fill="#737373"/><rect x="149" y="124.2" width="25.1" height="25.1" fill="#595959"/><rect x="173.8" y="124.2" width="25.1" height="25.1" fill="#737373"/><rect x="198.6" y="124.2" width="25.1" height="25.1" fill="#8a8a8a"/><rect x="223.4" y="124.2" width="74.7" height="25.1" fill="#9f9f9f"/><rect x="297.9" y="124.2" width="49.9" height="25.1" fill="#737373"/><rect x="347.5" y="124.2" width="74.7" height="25.1" fill="#333333"/><rect x="421.9" y="124.2" width="25.1" height="25.1" fill="#737373"/><rect x="446.7" y="124.2" width="25.1" height="25.1" fill="#595959"/><rect x="471.5" y="124.2" width="25.1" height="25.1" fill="#404040"/><rect x="496.3" y="124.2" width="25.1" height="25.1" fill="#595959"/><rect x="521.1" y="124.2" width="25.1" height="25.1" fill="#666666"/><rect x="545.9" y="124.2" width="74.7" height="25.1" fill="#4c4c4c"/><rect x="620.3" y="124.2" width="25.1" height="25.1" fill="#404040"/><rect x="645.2" y="124.2" width="25.1" height="25.1" fill="#262626"/><rect x="670" y="124.2" width="25.1" height="25.1" fill="#404040"/><rect x="694.8" y="124.2" width="25.1" height="25.1" fill="#666666"/><rect x="719.6" y="124.2" width="25.1" height="25.1" fill="#8a8a8a"/><rect x="744.4" y="124.2" width="25.1" height="25.1" fill="#7f7f7f"/><rect x="769.2" y="124.2" width="99.5" height="25.1" fill="#8a8a8a"/><rect x="868.4" y="124.2" width="55.1" height="25.1" fill="#4c4c4c"/><rect x="-29.8" y="149" width="104.7" height="25.1" fill="#595959"/><rect x="74.6" y="149" width="124.3" height="25.1" fill="#737373"/><rect x="198.6" y="149" width="49.9" height="25.1" fill="#8a8a8a"/><rect x="248.2" y="149" width="49.9" height="25.1" fill="#737373"/><rect x="297.9" y="149" width="49.9" height="25.1" fill="#7f7f7f"/><rect x="347.5" y="149" width="99.5" height="25.1" fill="#333333"/><rect x="446.7" y="149" width="99.5" height="25.1" fill="#262626"/><rect x="545.9" y="149" width="49.9" height="25.1" fill="#333333"/><rect x="595.5" y="149" width="25.1" height="25.1" fill="#404040"/><rect x="620.3" y="149" width="25.1" height="25.1" fill="#595959"/><rect x="645.2" y="149" width="25.1" height="25.1" fill="#4c4c4c"/><rect x="670" y="149" width="25.1" height="25.1" fill="#595959"/><rect x="694.8" y="149" width="49.9" height="25.1" fill="#949494"/><rect x="744.4" y="149" width="49.9" height="25.1" fill="#737373"/><rect x="794" y="149" width="129.5" height="25.1" fill="#8a8a8a"/><rect x="-29.8" y="173.8" width="79.9" height="25.1" fill="#595959"/><rect x="49.8" y="173.8" width="223.6" height="25.1" fill="#737373"/><rect x="273.1" y="173.8" width="99.5" height="25.1" fill="#7f7f7f"/><rect x="372.3" y="173.8" width="223.6" height="25.1" fill="#333333"/><rect x="595.5" y="173.8" width="25.1" height="25.1" fill="#404040"/><rect x="620.3" y="173.8" width="49.9" height="25.1" fill="#595959"/><rect x="670" y="173.8" width="25.1" height="25.1" fill="#666666"/><rect x="694.8" y="173.8" width="228.8" height="25.1" fill="#737373"/><rect x="-29.8" y="198.7" width="79.9" height="25.1" fill="#595959"/><rect x="49.8" y="198.7" width="198.8" height="25.1" fill="#737373"/><rect x="248.2" y="198.7" width="49.9" height="25.1" fill="#7f7f7f"/><rect x="297.9" y="198.7" width="25.1" height="25.1" fill="#737373"/><rect x="322.7" y="198.7" width="49.9" height="25.1" fill="#7f7f7f"/><rect x="372.3" y="198.7" width="74.7" height="25.1" fill="#666666"/><rect x="446.7" y="198.7" width="25.1" height="25.1" fill="#595959"/><rect x="471.5" y="198.7" width="25.1" height="25.1" fill="#666666"/><rect x="496.3" y="198.7" width="25.1" height="25.1" fill="#595959"/><rect x="521.1" y="198.7" width="25.1" height="25.1" fill="#666666"/><rect x="545.9" y="198.7" width="49.9" height="25.1" fill="#4c4c4c"/><rect x="595.5" y="198.7" width="74.7" height="25.1" fill="#595959"/><rect x="670" y="198.7" width="25.1" height="25.1" fill="#737373"/><rect x="694.8" y="198.7" width="49.9" height="25.1" fill="#7f7f7f"/><rect x="744.4" y="198.7" width="179.1" height="25.1" fill="#737373"/><rect x="-29.8" y="223.5" width="55.1" height="25.1" fill="#595959"/><rect x="25" y="223.5" width="198.8" height="25.1" fill="#737373"/><rect x="223.4" y="223.5" width="49.9" height="25.1" fill="#7f7f7f"/><rect x="273.1" y="223.5" width="49.9" height="25.1" fill="#949494"/><rect x="322.7" y="223.5" width="25.1" height="25.1" fill="#7f7f7f"/><rect x="347.5" y="223.5" width="99.5" height="25.1" fill="#666666"/><rect x="446.7" y="223.5" width="25.1" height="25.1" fill="#595959"/><rect x="471.5" y="223.5" width="25.1" height="25.1" fill="#737373"/><rect x="496.3" y="223.5" width="25.1" height="25.1" fill="#7f7f7f"/><rect x="521.1" y="223.5" width="25.1" height="25.1" fill="#666666"/><rect x="545.9" y="223.5" width="124.3" height="25.1" fill="#595959"/><rect x="670" y="223.5" width="74.7" height="25.1" fill="#737373"/><rect x="744.4" y="223.5" width="25.1" height="25.1" fill="#666666"/><rect x="769.2" y="223.5" width="154.3" height="25.1" fill="#737373"/><rect x="-29.8" y="248.3" width="55.1" height="25.1" fill="#595959"/><rect x="25" y="248.3" width="273.2" height="25.1" fill="#737373"/><rect x="297.9" y="248.3" width="25.1" height="25.1" fill="#8a8a8a"/><rect x="322.7" y="248.3" width="25.1" height="25.1" fill="#7f7f7f"/><rect x="347.5" y="248.3" width="74.7" height="25.1" fill="#737373"/><rect x="421.9" y="248.3" width="124.3" height="25.1" fill="#595959"/><rect x="545.9" y="248.3" width="74.7" height="25.1" fill="#666666"/><rect x="620.3" y="248.3" width="49.9" height="25.1" fill="#595959"/><rect x="670" y="248.3" width="74.7" height="25.1" fill="#737373"/><rect x="744.4" y="248.3" width="49.9" height="25.1" fill="#595959"/><rect x="794" y="248.3" width="74.7" height="25.1" fill="#737373"/><rect x="868.4" y="248.3" width="55.1" height="25.1" fill="#949494"/><rect x="-29.8" y="273.1" width="179.1" height="25.1" fill="#737373"/><rect x="149" y="273.1" width="124.3" height="25.1" fill="#1a1a1a"/><rect x="273.1" y="273.1" width="25.1" height="25.1" fill="#404040"/><rect x="297.9" y="273.1" width="25.1" height="25.1" fill="#7f7f7f"/><rect x="322.7" y="273.1" width="49.9" height="25.1" fill="#9f9f9f"/><rect x="372.3" y="273.1" width="49.9" height="25.1" fill="#737373"/><rect x="421.9" y="273.1" width="74.7" height="25.1" fill="#4c4c4c"/><rect x="496.3" y="273.1" width="49.9" height="25.1" fill="#666666"/><rect x="545.9" y="273.1" width="99.5" height="25.1" fill="#595959"/><rect x="645.2" y="273.1" width="99.5" height="25.1" fill="#737373"/><rect x="744.4" y="273.1" width="25.1" height="25.1" fill="#4c4c4c"/><rect x="769.2" y="273.1" width="25.1" height="25.1" fill="#595959"/><rect x="794" y="273.1" width="25.1" height="25.1" fill="#7f7f7f"/><rect x="818.8" y="273.1" width="49.9" height="25.1" fill="#aaaaaa"/><rect x="868.4" y="273.1" width="55.1" height="25.1" fill="#949494"/><rect x="-29.8" y="297.9" width="154.3" height="25.1" fill="#737373"/><rect x="124.2" y="297.9" width="173.9" height="25.1" fill="#4c4c4c"/><rect x="297.9" y="297.9" width="49.9" height="25.1" fill="#737373"/><rect x="347.5" y="297.9" width="49.9" height="25.1" fill="#9f9f9f"/><rect x="397.1" y="297.9" width="173.9" height="25.1" fill="#737373"/><rect x="570.7" y="297.9" width="74.7" height="25.1" fill="#595959"/><rect x="645.2" y="297.9" width="99.5" height="25.1" fill="#949494"/><rect x="744.4" y="297.9" width="25.1" height="25.1" fill="#737373"/><rect x="769.2" y="297.9" width="25.1" height="25.1" fill="#8a8a8a"/><rect x="794" y="297.9" width="25.1" height="25.1" fill="#aaaaaa"/><rect x="818.8" y="297.9" width="25.1" height="25.1" fill="#b5b5b5"/><rect x="843.6" y="297.9" width="79.9" height="25.1" fill="#949494"/><rect x="-29.8" y="322.7" width="104.7" height="25.1" fill="#737373"/><rect x="74.6" y="322.7" width="248.4" height="25.1" fill="#4c4c4c"/><rect x="322.7" y="322.7" width="49.9" height="25.1" fill="#737373"/><rect x="372.3" y="322.7" width="25.1" height="25.1" fill="#9f9f9f"/><rect x="397.1" y="322.7" width="198.8" height="25.1" fill="#737373"/><rect x="595.5" y="322.7" width="49.9" height="25.1" fill="#595959"/><rect x="645.2" y="322.7" width="99.5" height="25.1" fill="#949494"/><rect x="744.4" y="322.7" width="25.1" height="25.1" fill="#737373"/><rect x="769.2" y="322.7" width="25.1" height="25.1" fill="#8a8a8a"/><rect x="794" y="322.7" width="49.9" height="25.1" fill="#949494"/><rect x="843.6" y="322.7" width="25.1" height="25.1" fill="#7f7f7f"/><rect x="868.4" y="322.7" width="55.1" height="25.1" fill="#949494"/><rect x="-29.8" y="347.5" width="55.1" height="55.1" fill="#737373"/><rect x="25" y="347.5" width="322.8" height="55.1" fill="#404040"/><rect x="347.5" y="347.5" width="273.2" height="55.1" fill="#737373"/><rect x="620.3" y="347.5" width="25.1" height="55.1" fill="#595959"/><rect x="645.2" y="347.5" width="99.5" height="55.1" fill="#949494"/><rect x="744.4" y="347.5" width="25.1" height="55.1" fill="#737373"/><rect x="769.2" y="347.5" width="74.7" height="55.1" fill="#949494"/><rect x="843.6" y="347.5" width="25.1" height="55.1" fill="#7f7f7f"/><rect x="868.4" y="347.5" width="55.1" height="55.1" fill="#949494"/></g><g filter="url(#bl2)"><path d="M272.3,264.4 274.8,275.6 275.5,285.5 273.5,295.4 272.3,302.8" fill="none" stroke="#000000" stroke-width="7" stroke-linecap="round" stroke-linejoin="round"/><path d="M276.8,268.1 279.3,280.5 278,292.9 275.5,305.3" fill="none" stroke="#333333" stroke-width="6" stroke-linecap="round" stroke-linejoin="round"/><ellipse cx="665" cy="130.4" rx="17.4" ry="5.5" fill="#141414"/><ellipse cx="245.8" cy="134.2" rx="14.9" ry="12.4" fill="#b1b1b1"/><ellipse cx="471.5" cy="96.9" rx="12.4" ry="6.2" fill="#aaaaaa"/><ellipse cx="719.6" cy="156.5" rx="14.9" ry="9.9" fill="#9f9f9f"/><ellipse cx="813.8" cy="305.3" rx="9.9" ry="14.9" fill="#b5b5b5"/><ellipse cx="821.3" cy="290.4" rx="6.2" ry="12.4" fill="#b5b5b5"/><ellipse cx="736.9" cy="306.6" rx="6.2" ry="5" fill="#a6a6a6"/><ellipse cx="141.6" cy="109.4" rx="5" ry="9.9" fill="#aaaaaa"/><ellipse cx="292.9" cy="230.9" rx="19.8" ry="9.9" fill="#9f9f9f"/><ellipse cx="325.1" cy="285.5" rx="12.4" ry="9.9" fill="#a6a6a6"/><ellipse cx="400.8" cy="62.2" rx="11.2" ry="3.2" fill="#595959"/></g></g><path d="M265.6,29.5 278,27 285.5,23 297.9,20 317.7,18.8 335.1,18.1 357.4,16.3 377.2,16.8 392.1,19.3 402,21.3 415.7,21.3 404.5,25 400.8,30 398.3,33.7 399.6,37.4 394.6,41.1 390.9,44.9 392.1,48.6 384.7,50.3 382.2,53.3 369.8,54.5 362.4,58.5 353.7,60.5 347.5,62.2 345,65.9 341.3,70.9 338.8,74.6 333.8,74.1 327.6,72.1 322.7,68.4 318.9,64.7 315.2,60.2 314,56 318.9,52.3 312.7,49.8 311.5,46.1 307.8,42.4 302.8,37.4 295.4,34.9 283,34.9 273.1,33.7 270.6,31.7Z M563.3,110.6 568.3,108.1 573.2,107.4 578.2,108.1 578.2,111.3 574,112.8 571.5,113.6 573.2,116.8 576.9,118 576.9,120.5 580.2,122.3 578.2,125.5 580.2,129.2 580.2,131.7 575.7,132.4 571.5,130.7 568.3,128.5 569.2,123.7 567,119.8 564.5,116.8 562.5,113.1Z M124.2,48.3 146.5,49.1 163.9,51.6 198.6,51.8 208.6,44.1 223.4,44.1 238.3,49.1 253.2,48.6 273.1,46.1 292.9,49.8 297.9,34.9 268.1,27.5 302.8,16.3 198.6,15.1 124.2,30Z M615.4,41.1 632.8,48.8 640.2,54.8 655.1,59.7 666.7,63.7 678.6,74.1 699.7,77.1 703.9,89 722.1,97.9 744.4,103.9 766.7,97.9 781.6,95 799,90.5 799,74.6 838.7,72.1 848.1,65.2 830.2,56.3 838.7,46.1 794,34.9 707.2,27.5 645.2,34.9Z M659.3,99.4 672.4,92 684.8,87.5 702.2,97.9 690.6,112.8 672.4,106.9Z M622.8,125.2 627.8,125.7 645.2,139.6 642.7,142.1 632.8,135.4Z M507.2,149.5 518.6,149 528.6,150.8 527.3,158.2 516.2,159 507.5,156.5Z M495.3,151.5 503.8,150.8 506.2,156.5 498.8,157.7Z M497.6,173.1 511.2,181.3 498.8,190.7 482.7,190.7 482.7,181.3Z M466.5,187.5 482.7,185 482.7,191.2 469,192.5Z M166.4,63.5 188.7,67.2 191.2,69.7 168.9,65.9Z M198.6,58.5 218.5,61 223.4,64.7 203.6,63.5Z M62.2,52.3 79.6,53 79.6,54.8 62.2,54Z" fill="#fff" filter="url(#rag)"/><g filter="url(#rag2)"><path d="M265.6,30 283,34.2 302.8,36.7 309,44.9 315.2,52.3 317,59.7 321.4,65.9 327.6,71.4 336.3,73.9" fill="none" stroke="#c02b20" stroke-width="9" stroke-linecap="round" stroke-linejoin="round"/><path d="M336.3,73.9 342.5,69.7 346.2,63.5 357.4,59.7 372.3,54 387.2,51.1" fill="none" stroke="#c02b20" stroke-width="4" stroke-linecap="round" stroke-linejoin="round"/><ellipse cx="694.8" cy="59.7" rx="5.5" ry="2" fill="#eca06e"/><ellipse cx="674.9" cy="65.9" rx="5" ry="1.7" fill="#f0ae78"/><ellipse cx="704.7" cy="72.1" rx="6.2" ry="2" fill="#ea9866"/><ellipse cx="684.8" cy="57.3" rx="3.7" ry="1.5" fill="#ea9866"/><ellipse cx="724.5" cy="78.3" rx="3.7" ry="1.2" fill="#f0ae78"/><ellipse cx="836.2" cy="61" rx="7.4" ry="3" fill="#ea9866"/><ellipse cx="851.1" cy="58.5" rx="6.2" ry="2.5" fill="#eda571"/><ellipse cx="692.3" cy="106.9" rx="3.7" ry="2" fill="#ea9866"/><ellipse cx="682.4" cy="99.4" rx="5" ry="1.7" fill="#ea9866"/><ellipse cx="677.4" cy="94.5" rx="3" ry="1.5" fill="#f0ae78"/></g></g><use href="#coast"/></g>
<use href="#frame"/>
</g>
<text x="77.7" y="84.3" font-size="28" text-anchor="end">90°N</text>
<text x="77.7" y="158.7" font-size="28" text-anchor="end">60°N</text>
<text x="77.7" y="233.1" font-size="28" text-anchor="end">30°N</text>
<text x="77.7" y="307.6" font-size="28" text-anchor="end">0°</text>
<text x="77.7" y="382" font-size="28" text-anchor="end">30°S</text>
<text x="77.7" y="456.4" font-size="28" text-anchor="end">60°S</text>
<text x="227.1" y="475.3" font-size="28" text-anchor="middle">120°W</text>
<text x="396" y="475.3" font-size="28" text-anchor="middle">60°W</text>
<text x="532.3" y="475.3" font-size="28" text-anchor="middle">0°</text>
<text x="663.3" y="475.3" font-size="28" text-anchor="middle">60°E</text>
<text x="822.7" y="475.3" font-size="28" text-anchor="middle">120°E</text>
<text x="534.2" y="49.8" font-size="30.6" text-anchor="middle" class="b">a) 1981—2018<tspan class="cj" font-weight="normal" font-size="29.6" dy="1.4">年</tspan></text>
<text x="114" y="420.7" font-size="28.6"><tspan class="cj" font-size="28">平均值</tspan><tspan class="b">=0.36</tspan></text>
<g transform="translate(86,573)">
<g clip-path="url(#box)"><g clip-path="url(#land)"><g filter="url(#rg)"><g filter="url(#bl)"><rect x="-29.8" y="-29.8" width="55.1" height="55.1" fill="#000000"/><rect x="25" y="-29.8" width="99.5" height="55.1" fill="#262626"/><rect x="124.2" y="-29.8" width="223.6" height="55.1" fill="#000000"/><rect x="347.5" y="-29.8" width="99.5" height="55.1" fill="#595959"/><rect x="446.7" y="-29.8" width="99.5" height="55.1" fill="#262626"/><rect x="545.9" y="-29.8" width="49.9" height="55.1" fill="#404040"/><rect x="595.5" y="-29.8" width="25.1" height="55.1" fill="#262626"/><rect x="620.3" y="-29.8" width="49.9" height="55.1" fill="#1a1a1a"/><rect x="670" y="-29.8" width="253.6" height="55.1" fill="#000000"/><rect x="-29.8" y="25" width="55.1" height="25.1" fill="#000000"/><rect x="25" y="25" width="124.3" height="25.1" fill="#262626"/><rect x="149" y="25" width="198.8" height="25.1" fill="#000000"/><rect x="347.5" y="25" width="124.3" height="25.1" fill="#595959"/><rect x="471.5" y="25" width="74.7" height="25.1" fill="#262626"/><rect x="545.9" y="25" width="25.1" height="25.1" fill="#666666"/><rect x="570.7" y="25" width="25.1" height="25.1" fill="#404040"/><rect x="595.5" y="25" width="25.1" height="25.1" fill="#262626"/><rect x="620.3" y="25" width="49.9" height="25.1" fill="#1a1a1a"/><rect x="670" y="25" width="253.6" height="25.1" fill="#000000"/><rect x="-29.8" y="49.8" width="55.1" height="25.1" fill="#000000"/><rect x="25" y="49.8" width="124.3" height="25.1" fill="#262626"/><rect x="149" y="49.8" width="99.5" height="25.1" fill="#1a1a1a"/><rect x="248.2" y="49.8" width="99.5" height="25.1" fill="#000000"/><rect x="347.5" y="49.8" width="124.3" height="25.1" fill="#595959"/><rect x="471.5" y="49.8" width="49.9" height="25.1" fill="#666666"/><rect x="521.1" y="49.8" width="25.1" height="25.1" fill="#595959"/><rect x="545.9" y="49.8" width="25.1" height="25.1" fill="#666666"/><rect x="570.7" y="49.8" width="25.1" height="25.1" fill="#595959"/><rect x="595.5" y="49.8" width="25.1" height="25.1" fill="#404040"/><rect x="620.3" y="49.8" width="25.1" height="25.1" fill="#333333"/><rect x="645.2" y="49.8" width="25.1" height="25.1" fill="#1a1a1a"/><rect x="670" y="49.8" width="49.9" height="25.1" fill="#000000"/><rect x="719.6" y="49.8" width="25.1" height="25.1" fill="#1a1a1a"/><rect x="744.4" y="49.8" width="25.1" height="25.1" fill="#262626"/><rect x="769.2" y="49.8" width="25.1" height="25.1" fill="#1a1a1a"/><rect x="794" y="49.8" width="25.1" height="25.1" fill="#000000"/><rect x="818.8" y="49.8" width="25.1" height="25.1" fill="#1a1a1a"/><rect x="843.6" y="49.8" width="79.9" height="25.1" fill="#000000"/><rect x="-29.8" y="74.6" width="55.1" height="25.1" fill="#000000"/><rect x="25" y="74.6" width="49.9" height="25.1" fill="#595959"/><rect x="74.6" y="74.6" width="25.1" height="25.1" fill="#4c4c4c"/><rect x="99.4" y="74.6" width="49.9" height="25.1" fill="#404040"/><rect x="149" y="74.6" width="49.9" height="25.1" fill="#4c4c4c"/><rect x="198.6" y="74.6" width="49.9" height="25.1" fill="#404040"/><rect x="248.2" y="74.6" width="99.5" height="25.1" fill="#333333"/><rect x="347.5" y="74.6" width="49.9" height="25.1" fill="#595959"/><rect x="397.1" y="74.6" width="49.9" height="25.1" fill="#9f9f9f"/><rect x="446.7" y="74.6" width="99.5" height="25.1" fill="#949494"/><rect x="545.9" y="74.6" width="25.1" height="25.1" fill="#7f7f7f"/><rect x="570.7" y="74.6" width="49.9" height="25.1" fill="#737373"/><rect x="620.3" y="74.6" width="25.1" height="25.1" fill="#666666"/><rect x="645.2" y="74.6" width="25.1" height="25.1" fill="#595959"/><rect x="670" y="74.6" width="25.1" height="25.1" fill="#404040"/><rect x="694.8" y="74.6" width="25.1" height="25.1" fill="#4c4c4c"/><rect x="719.6" y="74.6" width="25.1" height="25.1" fill="#404040"/><rect x="744.4" y="74.6" width="25.1" height="25.1" fill="#4c4c4c"/><rect x="769.2" y="74.6" width="49.9" height="25.1" fill="#333333"/><rect x="818.8" y="74.6" width="49.9" height="25.1" fill="#262626"/><rect x="868.4" y="74.6" width="55.1" height="25.1" fill="#000000"/><rect x="-29.8" y="99.4" width="104.7" height="25.1" fill="#595959"/><rect x="74.6" y="99.4" width="25.1" height="25.1" fill="#4c4c4c"/><rect x="99.4" y="99.4" width="25.1" height="25.1" fill="#404040"/><rect x="124.2" y="99.4" width="25.1" height="25.1" fill="#949494"/><rect x="149" y="99.4" width="25.1" height="25.1" fill="#666666"/><rect x="173.8" y="99.4" width="25.1" height="25.1" fill="#737373"/><rect x="198.6" y="99.4" width="25.1" height="25.1" fill="#7f7f7f"/><rect x="223.4" y="99.4" width="49.9" height="25.1" fill="#949494"/><rect x="273.1" y="99.4" width="74.7" height="25.1" fill="#7f7f7f"/><rect x="347.5" y="99.4" width="25.1" height="25.1" fill="#595959"/><rect x="372.3" y="99.4" width="49.9" height="25.1" fill="#9f9f9f"/><rect x="421.9" y="99.4" width="25.1" height="25.1" fill="#8a8a8a"/><rect x="446.7" y="99.4" width="124.3" height="25.1" fill="#949494"/><rect x="570.7" y="99.4" width="25.1" height="25.1" fill="#7f7f7f"/><rect x="595.5" y="99.4" width="49.9" height="25.1" fill="#737373"/><rect x="645.2" y="99.4" width="25.1" height="25.1" fill="#4c4c4c"/><rect x="670" y="99.4" width="25.1" height="25.1" fill="#404040"/><rect x="694.8" y="99.4" width="25.1" height="25.1" fill="#595959"/><rect x="719.6" y="99.4" width="25.1" height="25.1" fill="#666666"/><rect x="744.4" y="99.4" width="74.7" height="25.1" fill="#737373"/><rect x="818.8" y="99.4" width="49.9" height="25.1" fill="#262626"/><rect x="868.4" y="99.4" width="55.1" height="25.1" fill="#000000"/><rect x="-29.8" y="124.2" width="104.7" height="25.1" fill="#595959"/><rect x="74.6" y="124.2" width="25.1" height="25.1" fill="#4c4c4c"/><rect x="99.4" y="124.2" width="49.9" height="25.1" fill="#7f7f7f"/><rect x="149" y="124.2" width="49.9" height="25.1" fill="#737373"/><rect x="198.6" y="124.2" width="25.1" height="25.1" fill="#949494"/><rect x="223.4" y="124.2" width="25.1" height="25.1" fill="#aaaaaa"/><rect x="248.2" y="124.2" width="49.9" height="25.1" fill="#9f9f9f"/><rect x="297.9" y="124.2" width="49.9" height="25.1" fill="#7f7f7f"/><rect x="347.5" y="124.2" width="74.7" height="25.1" fill="#333333"/><rect x="421.9" y="124.2" width="25.1" height="25.1" fill="#7f7f7f"/><rect x="446.7" y="124.2" width="25.1" height="25.1" fill="#595959"/><rect x="471.5" y="124.2" width="25.1" height="25.1" fill="#404040"/><rect x="496.3" y="124.2" width="25.1" height="25.1" fill="#595959"/><rect x="521.1" y="124.2" width="74.7" height="25.1" fill="#7f7f7f"/><rect x="595.5" y="124.2" width="25.1" height="25.1" fill="#666666"/><rect x="620.3" y="124.2" width="25.1" height="25.1" fill="#4c4c4c"/><rect x="645.2" y="124.2" width="49.9" height="25.1" fill="#1a1a1a"/><rect x="694.8" y="124.2" width="25.1" height="25.1" fill="#595959"/><rect x="719.6" y="124.2" width="25.1" height="25.1" fill="#8a8a8a"/><rect x="744.4" y="124.2" width="25.1" height="25.1" fill="#7f7f7f"/><rect x="769.2" y="124.2" width="99.5" height="25.1" fill="#949494"/><rect x="868.4" y="124.2" width="55.1" height="25.1" fill="#262626"/><rect x="-29.8" y="149" width="104.7" height="25.1" fill="#595959"/><rect x="74.6" y="149" width="74.7" height="25.1" fill="#7f7f7f"/><rect x="149" y="149" width="49.9" height="25.1" fill="#666666"/><rect x="198.6" y="149" width="25.1" height="25.1" fill="#7f7f7f"/><rect x="223.4" y="149" width="25.1" height="25.1" fill="#8a8a8a"/><rect x="248.2" y="149" width="49.9" height="25.1" fill="#737373"/><rect x="297.9" y="149" width="25.1" height="25.1" fill="#595959"/><rect x="322.7" y="149" width="25.1" height="25.1" fill="#7f7f7f"/><rect x="347.5" y="149" width="74.7" height="25.1" fill="#333333"/><rect x="421.9" y="149" width="49.9" height="25.1" fill="#262626"/><rect x="471.5" y="149" width="49.9" height="25.1" fill="#1a1a1a"/><rect x="521.1" y="149" width="25.1" height="25.1" fill="#262626"/><rect x="545.9" y="149" width="25.1" height="25.1" fill="#4c4c4c"/><rect x="570.7" y="149" width="25.1" height="25.1" fill="#404040"/><rect x="595.5" y="149" width="74.7" height="25.1" fill="#4c4c4c"/><rect x="670" y="149" width="25.1" height="25.1" fill="#595959"/><rect x="694.8" y="149" width="49.9" height="25.1" fill="#949494"/><rect x="744.4" y="149" width="49.9" height="25.1" fill="#8a8a8a"/><rect x="794" y="149" width="129.5" height="25.1" fill="#949494"/><rect x="-29.8" y="173.8" width="79.9" height="25.1" fill="#595959"/><rect x="49.8" y="173.8" width="74.7" height="25.1" fill="#7f7f7f"/><rect x="124.2" y="173.8" width="49.9" height="25.1" fill="#666666"/><rect x="173.8" y="173.8" width="25.1" height="25.1" fill="#595959"/><rect x="198.6" y="173.8" width="25.1" height="25.1" fill="#666666"/><rect x="223.4" y="173.8" width="25.1" height="25.1" fill="#737373"/><rect x="248.2" y="173.8" width="25.1" height="25.1" fill="#8a8a8a"/><rect x="273.1" y="173.8" width="49.9" height="25.1" fill="#595959"/><rect x="322.7" y="173.8" width="49.9" height="25.1" fill="#7f7f7f"/><rect x="372.3" y="173.8" width="49.9" height="25.1" fill="#404040"/><rect x="421.9" y="173.8" width="25.1" height="25.1" fill="#333333"/><rect x="446.7" y="173.8" width="25.1" height="25.1" fill="#262626"/><rect x="471.5" y="173.8" width="49.9" height="25.1" fill="#1a1a1a"/><rect x="521.1" y="173.8" width="25.1" height="25.1" fill="#262626"/><rect x="545.9" y="173.8" width="49.9" height="25.1" fill="#404040"/><rect x="595.5" y="173.8" width="49.9" height="25.1" fill="#4c4c4c"/><rect x="645.2" y="173.8" width="25.1" height="25.1" fill="#595959"/><rect x="670" y="173.8" width="25.1" height="25.1" fill="#737373"/><rect x="694.8" y="173.8" width="49.9" height="25.1" fill="#7f7f7f"/><rect x="744.4" y="173.8" width="179.1" height="25.1" fill="#737373"/><rect x="-29.8" y="198.7" width="79.9" height="25.1" fill="#595959"/><rect x="49.8" y="198.7" width="49.9" height="25.1" fill="#7f7f7f"/><rect x="99.4" y="198.7" width="49.9" height="25.1" fill="#666666"/><rect x="149" y="198.7" width="49.9" height="25.1" fill="#595959"/><rect x="198.6" y="198.7" width="25.1" height="25.1" fill="#666666"/><rect x="223.4" y="198.7" width="25.1" height="25.1" fill="#737373"/><rect x="248.2" y="198.7" width="25.1" height="25.1" fill="#8a8a8a"/><rect x="273.1" y="198.7" width="173.9" height="25.1" fill="#7f7f7f"/><rect x="446.7" y="198.7" width="49.9" height="25.1" fill="#737373"/><rect x="496.3" y="198.7" width="25.1" height="25.1" fill="#7f7f7f"/><rect x="521.1" y="198.7" width="25.1" height="25.1" fill="#737373"/><rect x="545.9" y="198.7" width="124.3" height="25.1" fill="#595959"/><rect x="670" y="198.7" width="25.1" height="25.1" fill="#737373"/><rect x="694.8" y="198.7" width="25.1" height="25.1" fill="#949494"/><rect x="719.6" y="198.7" width="25.1" height="25.1" fill="#8a8a8a"/><rect x="744.4" y="198.7" width="49.9" height="25.1" fill="#737373"/><rect x="794" y="198.7" width="25.1" height="25.1" fill="#7f7f7f"/><rect x="818.8" y="198.7" width="104.7" height="25.1" fill="#737373"/><rect x="-29.8" y="223.5" width="55.1" height="25.1" fill="#595959"/><rect x="25" y="223.5" width="49.9" height="25.1" fill="#7f7f7f"/><rect x="74.6" y="223.5" width="49.9" height="25.1" fill="#666666"/><rect x="124.2" y="223.5" width="74.7" height="25.1" fill="#595959"/><rect x="198.6" y="223.5" width="25.1" height="25.1" fill="#666666"/><rect x="223.4" y="223.5" width="49.9" height="25.1" fill="#8a8a8a"/><rect x="273.1" y="223.5" width="49.9" height="25.1" fill="#949494"/><rect x="322.7" y="223.5" width="25.1" height="25.1" fill="#8a8a8a"/><rect x="347.5" y="223.5" width="99.5" height="25.1" fill="#7f7f7f"/><rect x="446.7" y="223.5" width="49.9" height="25.1" fill="#737373"/><rect x="496.3" y="223.5" width="25.1" height="25.1" fill="#7f7f7f"/><rect x="521.1" y="223.5" width="25.1" height="25.1" fill="#737373"/><rect x="545.9" y="223.5" width="124.3" height="25.1" fill="#595959"/><rect x="670" y="223.5" width="25.1" height="25.1" fill="#737373"/><rect x="694.8" y="223.5" width="49.9" height="25.1" fill="#7f7f7f"/><rect x="744.4" y="223.5" width="25.1" height="25.1" fill="#737373"/><rect x="769.2" y="223.5" width="49.9" height="25.1" fill="#7f7f7f"/><rect x="818.8" y="223.5" width="104.7" height="25.1" fill="#737373"/><rect x="-29.8" y="248.3" width="55.1" height="25.1" fill="#595959"/><rect x="25" y="248.3" width="25.1" height="25.1" fill="#7f7f7f"/><rect x="49.8" y="248.3" width="49.9" height="25.1" fill="#666666"/><rect x="99.4" y="248.3" width="99.5" height="25.1" fill="#595959"/><rect x="198.6" y="248.3" width="74.7" height="25.1" fill="#737373"/><rect x="273.1" y="248.3" width="25.1" height="25.1" fill="#7f7f7f"/><rect x="297.9" y="248.3" width="25.1" height="25.1" fill="#8a8a8a"/><rect x="322.7" y="248.3" width="25.1" height="25.1" fill="#949494"/><rect x="347.5" y="248.3" width="74.7" height="25.1" fill="#8a8a8a"/><rect x="421.9" y="248.3" width="49.9" height="25.1" fill="#737373"/><rect x="471.5" y="248.3" width="25.1" height="25.1" fill="#595959"/><rect x="496.3" y="248.3" width="25.1" height="25.1" fill="#4c4c4c"/><rect x="521.1" y="248.3" width="149.1" height="25.1" fill="#595959"/><rect x="670" y="248.3" width="74.7" height="25.1" fill="#7f7f7f"/><rect x="744.4" y="248.3" width="25.1" height="25.1" fill="#595959"/><rect x="769.2" y="248.3" width="25.1" height="25.1" fill="#4c4c4c"/><rect x="794" y="248.3" width="74.7" height="25.1" fill="#737373"/><rect x="868.4" y="248.3" width="55.1" height="25.1" fill="#949494"/><rect x="-29.8" y="273.1" width="55.1" height="25.1" fill="#7f7f7f"/><rect x="25" y="273.1" width="49.9" height="25.1" fill="#666666"/><rect x="74.6" y="273.1" width="74.7" height="25.1" fill="#595959"/><rect x="149" y="273.1" width="124.3" height="25.1" fill="#1a1a1a"/><rect x="273.1" y="273.1" width="25.1" height="25.1" fill="#4c4c4c"/><rect x="297.9" y="273.1" width="25.1" height="25.1" fill="#737373"/><rect x="322.7" y="273.1" width="49.9" height="25.1" fill="#9f9f9f"/><rect x="372.3" y="273.1" width="49.9" height="25.1" fill="#8a8a8a"/><rect x="421.9" y="273.1" width="74.7" height="25.1" fill="#595959"/><rect x="496.3" y="273.1" width="25.1" height="25.1" fill="#4c4c4c"/><rect x="521.1" y="273.1" width="25.1" height="25.1" fill="#666666"/><rect x="545.9" y="273.1" width="99.5" height="25.1" fill="#595959"/><rect x="645.2" y="273.1" width="25.1" height="25.1" fill="#7f7f7f"/><rect x="670" y="273.1" width="74.7" height="25.1" fill="#737373"/><rect x="744.4" y="273.1" width="49.9" height="25.1" fill="#4c4c4c"/><rect x="794" y="273.1" width="25.1" height="25.1" fill="#737373"/><rect x="818.8" y="273.1" width="49.9" height="25.1" fill="#9f9f9f"/><rect x="868.4" y="273.1" width="55.1" height="25.1" fill="#949494"/><rect x="-29.8" y="297.9" width="79.9" height="25.1" fill="#666666"/><rect x="49.8" y="297.9" width="74.7" height="25.1" fill="#595959"/><rect x="124.2" y="297.9" width="173.9" height="25.1" fill="#4c4c4c"/><rect x="297.9" y="297.9" width="49.9" height="25.1" fill="#737373"/><rect x="347.5" y="297.9" width="49.9" height="25.1" fill="#9f9f9f"/><rect x="397.1" y="297.9" width="25.1" height="25.1" fill="#8a8a8a"/><rect x="421.9" y="297.9" width="99.5" height="25.1" fill="#7f7f7f"/><rect x="521.1" y="297.9" width="49.9" height="25.1" fill="#737373"/><rect x="570.7" y="297.9" width="74.7" height="25.1" fill="#595959"/><rect x="645.2" y="297.9" width="99.5" height="25.1" fill="#949494"/><rect x="744.4" y="297.9" width="25.1" height="25.1" fill="#737373"/><rect x="769.2" y="297.9" width="25.1" height="25.1" fill="#8a8a8a"/><rect x="794" y="297.9" width="49.9" height="25.1" fill="#aaaaaa"/><rect x="843.6" y="297.9" width="79.9" height="25.1" fill="#949494"/><rect x="-29.8" y="322.7" width="55.1" height="25.1" fill="#666666"/><rect x="25" y="322.7" width="49.9" height="25.1" fill="#595959"/><rect x="74.6" y="322.7" width="248.4" height="25.1" fill="#4c4c4c"/><rect x="322.7" y="322.7" width="49.9" height="25.1" fill="#737373"/><rect x="372.3" y="322.7" width="25.1" height="25.1" fill="#9f9f9f"/><rect x="397.1" y="322.7" width="124.3" height="25.1" fill="#7f7f7f"/><rect x="521.1" y="322.7" width="74.7" height="25.1" fill="#737373"/><rect x="595.5" y="322.7" width="49.9" height="25.1" fill="#595959"/><rect x="645.2" y="322.7" width="99.5" height="25.1" fill="#949494"/><rect x="744.4" y="322.7" width="25.1" height="25.1" fill="#737373"/><rect x="769.2" y="322.7" width="25.1" height="25.1" fill="#8a8a8a"/><rect x="794" y="322.7" width="129.5" height="25.1" fill="#949494"/><rect x="-29.8" y="347.5" width="55.1" height="55.1" fill="#595959"/><rect x="25" y="347.5" width="322.8" height="55.1" fill="#4c4c4c"/><rect x="347.5" y="347.5" width="49.9" height="55.1" fill="#737373"/><rect x="397.1" y="347.5" width="124.3" height="55.1" fill="#7f7f7f"/><rect x="521.1" y="347.5" width="99.5" height="55.1" fill="#737373"/><rect x="620.3" y="347.5" width="25.1" height="55.1" fill="#595959"/><rect x="645.2" y="347.5" width="99.5" height="55.1" fill="#949494"/><rect x="744.4" y="347.5" width="25.1" height="55.1" fill="#737373"/><rect x="769.2" y="347.5" width="154.3" height="55.1" fill="#949494"/></g><g filter="url(#bl2)"><path d="M272.3,264.4 274.8,275.6 275.5,285.5 273.5,295.4 272.3,302.8" fill="none" stroke="#000000" stroke-width="7" stroke-linecap="round" stroke-linejoin="round"/><path d="M276.8,268.1 279.3,280.5 278,292.9 275.5,305.3" fill="none" stroke="#333333" stroke-width="6" stroke-linecap="round" stroke-linejoin="round"/><ellipse cx="665" cy="136.6" rx="22.3" ry="7.9" fill="#000000"/><ellipse cx="694.8" cy="47.3" rx="29.8" ry="7.4" fill="#000000"/><ellipse cx="248.2" cy="134.2" rx="14.9" ry="12.4" fill="#aaaaaa"/><ellipse cx="471.5" cy="96.9" rx="12.4" ry="6.2" fill="#aaaaaa"/><ellipse cx="719.6" cy="156.5" rx="14.9" ry="9.9" fill="#a6a6a6"/><ellipse cx="813.8" cy="305.3" rx="9.9" ry="14.9" fill="#b1b1b1"/><ellipse cx="821.3" cy="290.4" rx="6.2" ry="12.4" fill="#aaaaaa"/><ellipse cx="736.9" cy="306.6" rx="6.2" ry="5" fill="#a6a6a6"/><ellipse cx="141.6" cy="109.4" rx="5" ry="9.9" fill="#aaaaaa"/><ellipse cx="297.9" cy="233.4" rx="22.3" ry="12.4" fill="#9b9b9b"/><ellipse cx="327.6" cy="280.5" rx="12.4" ry="12.4" fill="#a6a6a6"/><ellipse cx="400.8" cy="62.2" rx="11.2" ry="3.2" fill="#595959"/><ellipse cx="670" cy="106.9" rx="17.4" ry="6.2" fill="#333333"/><ellipse cx="173.8" cy="121.8" rx="5" ry="12.4" fill="#525252"/></g></g><path d="M265.6,29.5 278,27 285.5,23 297.9,20 317.7,18.8 335.1,18.1 357.4,16.3 377.2,16.8 392.1,19.3 402,21.3 415.7,21.3 404.5,25 400.8,30 398.3,33.7 399.6,37.4 394.6,41.1 390.9,44.9 392.1,48.6 384.7,50.3 382.2,53.3 369.8,54.5 362.4,58.5 353.7,60.5 347.5,62.2 345,65.9 341.3,70.9 338.8,74.6 333.8,74.1 327.6,72.1 322.7,68.4 318.9,64.7 315.2,60.2 314,56 318.9,52.3 312.7,49.8 311.5,46.1 307.8,42.4 302.8,37.4 295.4,34.9 283,34.9 273.1,33.7 270.6,31.7Z M563.3,110.6 568.3,108.1 573.2,107.4 578.2,108.1 578.2,111.3 574,112.8 571.5,113.6 573.2,116.8 576.9,118 576.9,120.5 580.2,122.3 578.2,125.5 580.2,129.2 580.2,131.7 575.7,132.4 571.5,130.7 568.3,128.5 569.2,123.7 567,119.8 564.5,116.8 562.5,113.1Z" fill="#fff" filter="url(#rag)"/><g filter="url(#rag2)"><path d="M260.6,27.5 283,30.7 303.3,34.4 313.2,36.7 325.1,44.9 339,52.8 343,56.5 352.9,56.5 371,50.6 392.1,47.3 397.1,54.8 359.9,67.2 337.5,79.6 310.3,69.7 297.9,49.8 273.1,37.4Z" fill="#b81a18"/><path d="M273.1,26.2 292.9,20.5 322.7,18.6 357.4,16.6 384.7,18.1 402,21.8" fill="none" stroke="#b81a18" stroke-width="4" stroke-linecap="round" stroke-linejoin="round"/><path d="M392.1,48.6 394.6,39.9 399.6,32.4 402,25" fill="none" stroke="#b81a18" stroke-width="4" stroke-linecap="round" stroke-linejoin="round"/></g></g><use href="#coast"/></g>
<use href="#frame"/>
</g>
<text x="77.7" y="585.8" font-size="28" text-anchor="end">90°N</text>
<text x="77.7" y="660.2" font-size="28" text-anchor="end">60°N</text>
<text x="77.7" y="734.6" font-size="28" text-anchor="end">30°N</text>
<text x="77.7" y="809.1" font-size="28" text-anchor="end">0°</text>
<text x="77.7" y="883.5" font-size="28" text-anchor="end">30°S</text>
<text x="77.7" y="957.9" font-size="28" text-anchor="end">60°S</text>
<text x="227.1" y="976.8" font-size="28" text-anchor="middle">120°W</text>
<text x="396" y="976.8" font-size="28" text-anchor="middle">60°W</text>
<text x="532.3" y="976.8" font-size="28" text-anchor="middle">0°</text>
<text x="663.3" y="976.8" font-size="28" text-anchor="middle">60°E</text>
<text x="822.7" y="976.8" font-size="28" text-anchor="middle">120°E</text>
<text x="534.2" y="551.3" font-size="30.6" text-anchor="middle" class="b">b) 3—5<tspan class="cj" font-weight="normal" font-size="29.6" dy="1.4">月</tspan></text>
<text x="114" y="922.2" font-size="28.6"><tspan class="cj" font-size="28">平均值</tspan><tspan class="b">=0.32</tspan></text>
<g transform="translate(1089.8,573)">
<g clip-path="url(#box)"><g clip-path="url(#land)"><g filter="url(#rg)"><g filter="url(#bl)"><rect x="-29.8" y="-29.8" width="55.1" height="55.1" fill="#8c8c8c"/><rect x="25" y="-29.8" width="25.1" height="55.1" fill="#808080"/><rect x="49.8" y="-29.8" width="74.7" height="55.1" fill="#999999"/><rect x="124.2" y="-29.8" width="99.5" height="55.1" fill="#737373"/><rect x="223.4" y="-29.8" width="74.7" height="55.1" fill="#262626"/><rect x="297.9" y="-29.8" width="149.1" height="55.1" fill="#000000"/><rect x="446.7" y="-29.8" width="99.5" height="55.1" fill="#262626"/><rect x="545.9" y="-29.8" width="49.9" height="55.1" fill="#8c8c8c"/><rect x="595.5" y="-29.8" width="25.1" height="55.1" fill="#737373"/><rect x="620.3" y="-29.8" width="25.1" height="55.1" fill="#808080"/><rect x="645.2" y="-29.8" width="25.1" height="55.1" fill="#737373"/><rect x="670" y="-29.8" width="25.1" height="55.1" fill="#666666"/><rect x="694.8" y="-29.8" width="25.1" height="55.1" fill="#737373"/><rect x="719.6" y="-29.8" width="74.7" height="55.1" fill="#808080"/><rect x="794" y="-29.8" width="74.7" height="55.1" fill="#999999"/><rect x="868.4" y="-29.8" width="55.1" height="55.1" fill="#8c8c8c"/><rect x="-29.8" y="25" width="55.1" height="25.1" fill="#8c8c8c"/><rect x="25" y="25" width="25.1" height="25.1" fill="#808080"/><rect x="49.8" y="25" width="74.7" height="25.1" fill="#999999"/><rect x="124.2" y="25" width="25.1" height="25.1" fill="#8c8c8c"/><rect x="149" y="25" width="99.5" height="25.1" fill="#737373"/><rect x="248.2" y="25" width="49.9" height="25.1" fill="#404040"/><rect x="297.9" y="25" width="149.1" height="25.1" fill="#000000"/><rect x="446.7" y="25" width="25.1" height="25.1" fill="#b2b2b2"/><rect x="471.5" y="25" width="74.7" height="25.1" fill="#262626"/><rect x="545.9" y="25" width="25.1" height="25.1" fill="#999999"/><rect x="570.7" y="25" width="25.1" height="25.1" fill="#8c8c8c"/><rect x="595.5" y="25" width="25.1" height="25.1" fill="#737373"/><rect x="620.3" y="25" width="25.1" height="25.1" fill="#808080"/><rect x="645.2" y="25" width="25.1" height="25.1" fill="#737373"/><rect x="670" y="25" width="25.1" height="25.1" fill="#666666"/><rect x="694.8" y="25" width="25.1" height="25.1" fill="#737373"/><rect x="719.6" y="25" width="74.7" height="25.1" fill="#808080"/><rect x="794" y="25" width="74.7" height="25.1" fill="#999999"/><rect x="868.4" y="25" width="55.1" height="25.1" fill="#8c8c8c"/><rect x="-29.8" y="49.8" width="55.1" height="25.1" fill="#8c8c8c"/><rect x="25" y="49.8" width="25.1" height="25.1" fill="#808080"/><rect x="49.8" y="49.8" width="74.7" height="25.1" fill="#999999"/><rect x="124.2" y="49.8" width="25.1" height="25.1" fill="#8c8c8c"/><rect x="149" y="49.8" width="49.9" height="25.1" fill="#808080"/><rect x="198.6" y="49.8" width="25.1" height="25.1" fill="#8c8c8c"/><rect x="223.4" y="49.8" width="25.1" height="25.1" fill="#808080"/><rect x="248.2" y="49.8" width="49.9" height="25.1" fill="#737373"/><rect x="297.9" y="49.8" width="124.3" height="25.1" fill="#000000"/><rect x="421.9" y="49.8" width="25.1" height="25.1" fill="#a6a6a6"/><rect x="446.7" y="49.8" width="25.1" height="25.1" fill="#b2b2b2"/><rect x="471.5" y="49.8" width="49.9" height="25.1" fill="#bfbfbf"/><rect x="521.1" y="49.8" width="25.1" height="25.1" fill="#b2b2b2"/><rect x="545.9" y="49.8" width="49.9" height="25.1" fill="#999999"/><rect x="595.5" y="49.8" width="25.1" height="25.1" fill="#737373"/><rect x="620.3" y="49.8" width="25.1" height="25.1" fill="#808080"/><rect x="645.2" y="49.8" width="25.1" height="25.1" fill="#8c8c8c"/><rect x="670" y="49.8" width="25.1" height="25.1" fill="#a6a6a6"/><rect x="694.8" y="49.8" width="25.1" height="25.1" fill="#999999"/><rect x="719.6" y="49.8" width="25.1" height="25.1" fill="#a6a6a6"/><rect x="744.4" y="49.8" width="124.3" height="25.1" fill="#999999"/><rect x="868.4" y="49.8" width="55.1" height="25.1" fill="#8c8c8c"/><rect x="-29.8" y="74.6" width="154.3" height="25.1" fill="#8c8c8c"/><rect x="124.2" y="74.6" width="25.1" height="25.1" fill="#a6a6a6"/><rect x="149" y="74.6" width="25.1" height="25.1" fill="#b2b2b2"/><rect x="173.8" y="74.6" width="25.1" height="25.1" fill="#bfbfbf"/><rect x="198.6" y="74.6" width="25.1" height="25.1" fill="#a6a6a6"/><rect x="223.4" y="74.6" width="25.1" height="25.1" fill="#999999"/><rect x="248.2" y="74.6" width="25.1" height="25.1" fill="#8c8c8c"/><rect x="273.1" y="74.6" width="25.1" height="25.1" fill="#999999"/><rect x="297.9" y="74.6" width="99.5" height="25.1" fill="#000000"/><rect x="397.1" y="74.6" width="99.5" height="25.1" fill="#a6a6a6"/><rect x="496.3" y="74.6" width="74.7" height="25.1" fill="#999999"/><rect x="570.7" y="74.6" width="49.9" height="25.1" fill="#a6a6a6"/><rect x="620.3" y="74.6" width="25.1" height="25.1" fill="#999999"/><rect x="645.2" y="74.6" width="25.1" height="25.1" fill="#a6a6a6"/><rect x="670" y="74.6" width="74.7" height="25.1" fill="#b2b2b2"/><rect x="744.4" y="74.6" width="74.7" height="25.1" fill="#a6a6a6"/><rect x="818.8" y="74.6" width="49.9" height="25.1" fill="#999999"/><rect x="868.4" y="74.6" width="55.1" height="25.1" fill="#8c8c8c"/><rect x="-29.8" y="99.4" width="154.3" height="25.1" fill="#8c8c8c"/><rect x="124.2" y="99.4" width="25.1" height="25.1" fill="#808080"/><rect x="149" y="99.4" width="25.1" height="25.1" fill="#999999"/><rect x="173.8" y="99.4" width="25.1" height="25.1" fill="#bfbfbf"/><rect x="198.6" y="99.4" width="49.9" height="25.1" fill="#a6a6a6"/><rect x="248.2" y="99.4" width="25.1" height="25.1" fill="#b2b2b2"/><rect x="273.1" y="99.4" width="49.9" height="25.1" fill="#a6a6a6"/><rect x="322.7" y="99.4" width="49.9" height="25.1" fill="#000000"/><rect x="372.3" y="99.4" width="49.9" height="25.1" fill="#a6a6a6"/><rect x="421.9" y="99.4" width="25.1" height="25.1" fill="#808080"/><rect x="446.7" y="99.4" width="74.7" height="25.1" fill="#999999"/><rect x="521.1" y="99.4" width="25.1" height="25.1" fill="#8c8c8c"/><rect x="545.9" y="99.4" width="25.1" height="25.1" fill="#999999"/><rect x="570.7" y="99.4" width="25.1" height="25.1" fill="#595959"/><rect x="595.5" y="99.4" width="25.1" height="25.1" fill="#666666"/><rect x="620.3" y="99.4" width="25.1" height="25.1" fill="#737373"/><rect x="645.2" y="99.4" width="25.1" height="25.1" fill="#808080"/><rect x="670" y="99.4" width="25.1" height="25.1" fill="#737373"/><rect x="694.8" y="99.4" width="25.1" height="25.1" fill="#808080"/><rect x="719.6" y="99.4" width="25.1" height="25.1" fill="#8c8c8c"/><rect x="744.4" y="99.4" width="74.7" height="25.1" fill="#a6a6a6"/><rect x="818.8" y="99.4" width="49.9" height="25.1" fill="#999999"/><rect x="868.4" y="99.4" width="55.1" height="25.1" fill="#8c8c8c"/><rect x="-29.8" y="124.2" width="129.5" height="25.1" fill="#8c8c8c"/><rect x="99.4" y="124.2" width="49.9" height="25.1" fill="#404040"/><rect x="149" y="124.2" width="25.1" height="25.1" fill="#808080"/><rect x="173.8" y="124.2" width="25.1" height="25.1" fill="#b2b2b2"/><rect x="198.6" y="124.2" width="25.1" height="25.1" fill="#a6a6a6"/><rect x="223.4" y="124.2" width="74.7" height="25.1" fill="#b2b2b2"/><rect x="297.9" y="124.2" width="49.9" height="25.1" fill="#a6a6a6"/><rect x="347.5" y="124.2" width="74.7" height="25.1" fill="#404040"/><rect x="421.9" y="124.2" width="25.1" height="25.1" fill="#595959"/><rect x="446.7" y="124.2" width="25.1" height="25.1" fill="#404040"/><rect x="471.5" y="124.2" width="25.1" height="25.1" fill="#333333"/><rect x="496.3" y="124.2" width="25.1" height="25.1" fill="#4c4c4c"/><rect x="521.1" y="124.2" width="25.1" height="25.1" fill="#595959"/><rect x="545.9" y="124.2" width="25.1" height="25.1" fill="#1a1a1a"/><rect x="570.7" y="124.2" width="25.1" height="25.1" fill="#262626"/><rect x="595.5" y="124.2" width="25.1" height="25.1" fill="#1a1a1a"/><rect x="620.3" y="124.2" width="25.1" height="25.1" fill="#333333"/><rect x="645.2" y="124.2" width="25.1" height="25.1" fill="#404040"/><rect x="670" y="124.2" width="25.1" height="25.1" fill="#808080"/><rect x="694.8" y="124.2" width="25.1" height="25.1" fill="#999999"/><rect x="719.6" y="124.2" width="25.1" height="25.1" fill="#8c8c8c"/><rect x="744.4" y="124.2" width="25.1" height="25.1" fill="#737373"/><rect x="769.2" y="124.2" width="154.3" height="25.1" fill="#999999"/><rect x="-29.8" y="149" width="104.7" height="25.1" fill="#8c8c8c"/><rect x="74.6" y="149" width="74.7" height="25.1" fill="#404040"/><rect x="149" y="149" width="25.1" height="25.1" fill="#595959"/><rect x="173.8" y="149" width="74.7" height="25.1" fill="#999999"/><rect x="248.2" y="149" width="49.9" height="25.1" fill="#8c8c8c"/><rect x="297.9" y="149" width="49.9" height="25.1" fill="#808080"/><rect x="347.5" y="149" width="74.7" height="25.1" fill="#404040"/><rect x="421.9" y="149" width="49.9" height="25.1" fill="#333333"/><rect x="471.5" y="149" width="25.1" height="25.1" fill="#262626"/><rect x="496.3" y="149" width="25.1" height="25.1" fill="#1a1a1a"/><rect x="521.1" y="149" width="25.1" height="25.1" fill="#262626"/><rect x="545.9" y="149" width="49.9" height="25.1" fill="#000000"/><rect x="595.5" y="149" width="25.1" height="25.1" fill="#262626"/><rect x="620.3" y="149" width="25.1" height="25.1" fill="#595959"/><rect x="645.2" y="149" width="25.1" height="25.1" fill="#737373"/><rect x="670" y="149" width="25.1" height="25.1" fill="#8c8c8c"/><rect x="694.8" y="149" width="25.1" height="25.1" fill="#a6a6a6"/><rect x="719.6" y="149" width="74.7" height="25.1" fill="#8c8c8c"/><rect x="794" y="149" width="129.5" height="25.1" fill="#999999"/><rect x="-29.8" y="173.8" width="79.9" height="25.1" fill="#8c8c8c"/><rect x="49.8" y="173.8" width="74.7" height="25.1" fill="#404040"/><rect x="124.2" y="173.8" width="49.9" height="25.1" fill="#595959"/><rect x="173.8" y="173.8" width="99.5" height="25.1" fill="#999999"/><rect x="273.1" y="173.8" width="99.5" height="25.1" fill="#808080"/><rect x="372.3" y="173.8" width="74.7" height="25.1" fill="#595959"/><rect x="446.7" y="173.8" width="49.9" height="25.1" fill="#4c4c4c"/><rect x="496.3" y="173.8" width="49.9" height="25.1" fill="#595959"/><rect x="545.9" y="173.8" width="49.9" height="25.1" fill="#333333"/><rect x="595.5" y="173.8" width="25.1" height="25.1" fill="#262626"/><rect x="620.3" y="173.8" width="25.1" height="25.1" fill="#737373"/><rect x="645.2" y="173.8" width="25.1" height="25.1" fill="#808080"/><rect x="670" y="173.8" width="74.7" height="25.1" fill="#8c8c8c"/><rect x="744.4" y="173.8" width="74.7" height="25.1" fill="#737373"/><rect x="818.8" y="173.8" width="104.7" height="25.1" fill="#666666"/><rect x="-29.8" y="198.7" width="79.9" height="25.1" fill="#8c8c8c"/><rect x="49.8" y="198.7" width="49.9" height="25.1" fill="#404040"/><rect x="99.4" y="198.7" width="49.9" height="25.1" fill="#595959"/><rect x="149" y="198.7" width="99.5" height="25.1" fill="#999999"/><rect x="248.2" y="198.7" width="25.1" height="25.1" fill="#666666"/><rect x="273.1" y="198.7" width="25.1" height="25.1" fill="#8c8c8c"/><rect x="297.9" y="198.7" width="74.7" height="25.1" fill="#808080"/><rect x="372.3" y="198.7" width="49.9" height="25.1" fill="#666666"/><rect x="421.9" y="198.7" width="25.1" height="25.1" fill="#595959"/><rect x="446.7" y="198.7" width="49.9" height="25.1" fill="#666666"/><rect x="496.3" y="198.7" width="25.1" height="25.1" fill="#737373"/><rect x="521.1" y="198.7" width="25.1" height="25.1" fill="#666666"/><rect x="545.9" y="198.7" width="49.9" height="25.1" fill="#404040"/><rect x="595.5" y="198.7" width="74.7" height="25.1" fill="#737373"/><rect x="670" y="198.7" width="25.1" height="25.1" fill="#666666"/><rect x="694.8" y="198.7" width="25.1" height="25.1" fill="#8c8c8c"/><rect x="719.6" y="198.7" width="74.7" height="25.1" fill="#737373"/><rect x="794" y="198.7" width="129.5" height="25.1" fill="#666666"/><rect x="-29.8" y="223.5" width="55.1" height="25.1" fill="#8c8c8c"/><rect x="25" y="223.5" width="49.9" height="25.1" fill="#404040"/><rect x="74.6" y="223.5" width="49.9" height="25.1" fill="#595959"/><rect x="124.2" y="223.5" width="99.5" height="25.1" fill="#999999"/><rect x="223.4" y="223.5" width="49.9" height="25.1" fill="#666666"/><rect x="273.1" y="223.5" width="25.1" height="25.1" fill="#8c8c8c"/><rect x="297.9" y="223.5" width="25.1" height="25.1" fill="#666666"/><rect x="322.7" y="223.5" width="25.1" height="25.1" fill="#4c4c4c"/><rect x="347.5" y="223.5" width="49.9" height="25.1" fill="#404040"/><rect x="397.1" y="223.5" width="25.1" height="25.1" fill="#666666"/><rect x="421.9" y="223.5" width="25.1" height="25.1" fill="#595959"/><rect x="446.7" y="223.5" width="25.1" height="25.1" fill="#404040"/><rect x="471.5" y="223.5" width="25.1" height="25.1" fill="#333333"/><rect x="496.3" y="223.5" width="99.5" height="25.1" fill="#4c4c4c"/><rect x="595.5" y="223.5" width="74.7" height="25.1" fill="#737373"/><rect x="670" y="223.5" width="253.6" height="25.1" fill="#666666"/><rect x="-29.8" y="248.3" width="55.1" height="25.1" fill="#8c8c8c"/><rect x="25" y="248.3" width="25.1" height="25.1" fill="#404040"/><rect x="49.8" y="248.3" width="49.9" height="25.1" fill="#595959"/><rect x="99.4" y="248.3" width="99.5" height="25.1" fill="#999999"/><rect x="198.6" y="248.3" width="74.7" height="25.1" fill="#595959"/><rect x="273.1" y="248.3" width="25.1" height="25.1" fill="#666666"/><rect x="297.9" y="248.3" width="25.1" height="25.1" fill="#4c4c4c"/><rect x="322.7" y="248.3" width="25.1" height="25.1" fill="#404040"/><rect x="347.5" y="248.3" width="74.7" height="25.1" fill="#808080"/><rect x="421.9" y="248.3" width="49.9" height="25.1" fill="#404040"/><rect x="471.5" y="248.3" width="49.9" height="25.1" fill="#1a1a1a"/><rect x="521.1" y="248.3" width="25.1" height="25.1" fill="#404040"/><rect x="545.9" y="248.3" width="74.7" height="25.1" fill="#4c4c4c"/><rect x="620.3" y="248.3" width="49.9" height="25.1" fill="#737373"/><rect x="670" y="248.3" width="74.7" height="25.1" fill="#666666"/><rect x="744.4" y="248.3" width="49.9" height="25.1" fill="#404040"/><rect x="794" y="248.3" width="49.9" height="25.1" fill="#4c4c4c"/><rect x="843.6" y="248.3" width="25.1" height="25.1" fill="#666666"/><rect x="868.4" y="248.3" width="55.1" height="25.1" fill="#8c8c8c"/><rect x="-29.8" y="273.1" width="55.1" height="25.1" fill="#404040"/><rect x="25" y="273.1" width="49.9" height="25.1" fill="#595959"/><rect x="74.6" y="273.1" width="74.7" height="25.1" fill="#999999"/><rect x="149" y="273.1" width="124.3" height="25.1" fill="#000000"/><rect x="273.1" y="273.1" width="25.1" height="25.1" fill="#333333"/><rect x="297.9" y="273.1" width="25.1" height="25.1" fill="#737373"/><rect x="322.7" y="273.1" width="99.5" height="25.1" fill="#808080"/><rect x="421.9" y="273.1" width="99.5" height="25.1" fill="#262626"/><rect x="521.1" y="273.1" width="25.1" height="25.1" fill="#404040"/><rect x="545.9" y="273.1" width="99.5" height="25.1" fill="#4c4c4c"/><rect x="645.2" y="273.1" width="99.5" height="25.1" fill="#666666"/><rect x="744.4" y="273.1" width="25.1" height="25.1" fill="#404040"/><rect x="769.2" y="273.1" width="25.1" height="25.1" fill="#4c4c4c"/><rect x="794" y="273.1" width="25.1" height="25.1" fill="#666666"/><rect x="818.8" y="273.1" width="104.7" height="25.1" fill="#8c8c8c"/><rect x="-29.8" y="297.9" width="79.9" height="25.1" fill="#595959"/><rect x="49.8" y="297.9" width="74.7" height="25.1" fill="#999999"/><rect x="124.2" y="297.9" width="149.1" height="25.1" fill="#404040"/><rect x="273.1" y="297.9" width="25.1" height="25.1" fill="#4c4c4c"/><rect x="297.9" y="297.9" width="49.9" height="25.1" fill="#737373"/><rect x="347.5" y="297.9" width="74.7" height="25.1" fill="#808080"/><rect x="421.9" y="297.9" width="149.1" height="25.1" fill="#595959"/><rect x="570.7" y="297.9" width="74.7" height="25.1" fill="#4c4c4c"/><rect x="645.2" y="297.9" width="99.5" height="25.1" fill="#a6a6a6"/><rect x="744.4" y="297.9" width="25.1" height="25.1" fill="#737373"/><rect x="769.2" y="297.9" width="25.1" height="25.1" fill="#999999"/><rect x="794" y="297.9" width="49.9" height="25.1" fill="#a6a6a6"/><rect x="843.6" y="297.9" width="79.9" height="25.1" fill="#8c8c8c"/><rect x="-29.8" y="322.7" width="55.1" height="25.1" fill="#595959"/><rect x="25" y="322.7" width="49.9" height="25.1" fill="#999999"/><rect x="74.6" y="322.7" width="248.4" height="25.1" fill="#595959"/><rect x="322.7" y="322.7" width="49.9" height="25.1" fill="#737373"/><rect x="372.3" y="322.7" width="25.1" height="25.1" fill="#808080"/><rect x="397.1" y="322.7" width="198.8" height="25.1" fill="#595959"/><rect x="595.5" y="322.7" width="49.9" height="25.1" fill="#4c4c4c"/><rect x="645.2" y="322.7" width="99.5" height="25.1" fill="#a6a6a6"/><rect x="744.4" y="322.7" width="25.1" height="25.1" fill="#737373"/><rect x="769.2" y="322.7" width="74.7" height="25.1" fill="#999999"/><rect x="843.6" y="322.7" width="79.9" height="25.1" fill="#8c8c8c"/><rect x="-29.8" y="347.5" width="55.1" height="55.1" fill="#999999"/><rect x="25" y="347.5" width="322.8" height="55.1" fill="#404040"/><rect x="347.5" y="347.5" width="49.9" height="55.1" fill="#737373"/><rect x="397.1" y="347.5" width="223.6" height="55.1" fill="#595959"/><rect x="620.3" y="347.5" width="25.1" height="55.1" fill="#4c4c4c"/><rect x="645.2" y="347.5" width="99.5" height="55.1" fill="#a6a6a6"/><rect x="744.4" y="347.5" width="25.1" height="55.1" fill="#737373"/><rect x="769.2" y="347.5" width="74.7" height="55.1" fill="#999999"/><rect x="843.6" y="347.5" width="79.9" height="55.1" fill="#8c8c8c"/></g><g filter="url(#bl2)"><path d="M272.3,264.4 274.8,275.6 275.5,285.5 273.5,295.4 272.3,302.8" fill="none" stroke="#000000" stroke-width="10" stroke-linecap="round" stroke-linejoin="round"/><path d="M276.8,268.1 279.3,280.5 278,292.9 275.5,305.3" fill="none" stroke="#262626" stroke-width="8" stroke-linecap="round" stroke-linejoin="round"/><ellipse cx="663.8" cy="128.5" rx="11.2" ry="2.5" fill="#000000"/><ellipse cx="600.5" cy="144.1" rx="12.4" ry="9.9" fill="#171717"/><ellipse cx="145.8" cy="131.7" rx="3.5" ry="9.9" fill="#2b2b2b"/><ellipse cx="342.5" cy="245.8" rx="11.2" ry="7.4" fill="#333333"/><ellipse cx="808.9" cy="312.8" rx="12.4" ry="6.2" fill="#bfbfbf"/><ellipse cx="736.9" cy="305.3" rx="7.4" ry="6.2" fill="#b2b2b2"/><ellipse cx="186.2" cy="99.4" rx="22.3" ry="12.4" fill="#bfbfbf"/><ellipse cx="496.3" cy="64.7" rx="19.8" ry="9.9" fill="#d1d1d1"/><ellipse cx="694.8" cy="82.1" rx="39.7" ry="12.4" fill="#b8b8b8"/><ellipse cx="400.8" cy="62.2" rx="11.2" ry="3.2" fill="#737373"/><ellipse cx="292.9" cy="225.9" rx="17.4" ry="9.9" fill="#a6a6a6"/><ellipse cx="496.3" cy="258.2" rx="14.9" ry="12.4" fill="#212121"/><ellipse cx="560.8" cy="168.9" rx="14.9" ry="14.9" fill="#171717"/><ellipse cx="516.2" cy="216" rx="19.8" ry="12.4" fill="#7a7a7a"/></g></g><path d="M563.3,110.6 568.3,108.1 573.2,107.4 578.2,108.1 578.2,111.3 574,112.8 571.5,113.6 573.2,116.8 576.9,118 576.9,120.5 580.2,122.3 578.2,125.5 580.2,129.2 580.2,131.7 575.7,132.4 571.5,130.7 568.3,128.5 569.2,123.7 567,119.8 564.5,116.8 562.5,113.1Z M507.2,149.5 518.6,149 528.6,150.8 527.3,158.2 516.2,159 507.5,156.5Z M495.3,151.5 503.8,150.8 506.2,156.5 498.8,157.7Z M320.2,30 335.1,22.5 354.4,21 358.9,28.5 351.4,30 354.4,34.4 375,32.2 367.6,38.9 364.8,44.9 354.4,52.3 348.5,50.8 342.5,44.9 330.6,41.9 327.6,34.4Z" fill="#fff" filter="url(#rag)"/><g filter="url(#rag2)"><path d="M316.5,56 318.9,62.2 323.9,68.4 331.3,72.1" fill="none" stroke="#ea9866" stroke-width="5" stroke-linecap="round" stroke-linejoin="round"/></g></g><use href="#coast"/></g>
<use href="#frame"/>
</g>
<text x="1081.5" y="585.8" font-size="28" text-anchor="end">90°N</text>
<text x="1081.5" y="660.2" font-size="28" text-anchor="end">60°N</text>
<text x="1081.5" y="734.6" font-size="28" text-anchor="end">30°N</text>
<text x="1081.5" y="809.1" font-size="28" text-anchor="end">0°</text>
<text x="1081.5" y="883.5" font-size="28" text-anchor="end">30°S</text>
<text x="1081.5" y="957.9" font-size="28" text-anchor="end">60°S</text>
<text x="1230.9" y="976.8" font-size="28" text-anchor="middle">120°W</text>
<text x="1399.8" y="976.8" font-size="28" text-anchor="middle">60°W</text>
<text x="1536.1" y="976.8" font-size="28" text-anchor="middle">0°</text>
<text x="1667.1" y="976.8" font-size="28" text-anchor="middle">60°E</text>
<text x="1826.5" y="976.8" font-size="28" text-anchor="middle">120°E</text>
<text x="1538" y="551.3" font-size="30.6" text-anchor="middle" class="b">c) 6—8<tspan class="cj" font-weight="normal" font-size="29.6" dy="1.4">月</tspan></text>
<text x="1117.8" y="922.2" font-size="28.6"><tspan class="cj" font-size="28">平均值</tspan><tspan class="b">=0.44</tspan></text>
<g transform="translate(86,1075)">
<g clip-path="url(#box)"><g clip-path="url(#land)"><g filter="url(#rg)"><g filter="url(#bl)"><rect x="-29.8" y="-29.8" width="55.1" height="55.1" fill="#404040"/><rect x="25" y="-29.8" width="25.1" height="55.1" fill="#4c4c4c"/><rect x="49.8" y="-29.8" width="49.9" height="55.1" fill="#404040"/><rect x="99.4" y="-29.8" width="25.1" height="55.1" fill="#333333"/><rect x="124.2" y="-29.8" width="99.5" height="55.1" fill="#262626"/><rect x="223.4" y="-29.8" width="223.6" height="55.1" fill="#000000"/><rect x="446.7" y="-29.8" width="99.5" height="55.1" fill="#262626"/><rect x="545.9" y="-29.8" width="49.9" height="55.1" fill="#595959"/><rect x="595.5" y="-29.8" width="25.1" height="55.1" fill="#404040"/><rect x="620.3" y="-29.8" width="49.9" height="55.1" fill="#333333"/><rect x="670" y="-29.8" width="25.1" height="55.1" fill="#262626"/><rect x="694.8" y="-29.8" width="25.1" height="55.1" fill="#1a1a1a"/><rect x="719.6" y="-29.8" width="124.3" height="55.1" fill="#262626"/><rect x="843.6" y="-29.8" width="25.1" height="55.1" fill="#333333"/><rect x="868.4" y="-29.8" width="55.1" height="55.1" fill="#4c4c4c"/><rect x="-29.8" y="25" width="55.1" height="25.1" fill="#404040"/><rect x="25" y="25" width="25.1" height="25.1" fill="#4c4c4c"/><rect x="49.8" y="25" width="49.9" height="25.1" fill="#404040"/><rect x="99.4" y="25" width="49.9" height="25.1" fill="#333333"/><rect x="149" y="25" width="74.7" height="25.1" fill="#262626"/><rect x="223.4" y="25" width="223.6" height="25.1" fill="#000000"/><rect x="446.7" y="25" width="25.1" height="25.1" fill="#737373"/><rect x="471.5" y="25" width="74.7" height="25.1" fill="#262626"/><rect x="545.9" y="25" width="25.1" height="25.1" fill="#7f7f7f"/><rect x="570.7" y="25" width="25.1" height="25.1" fill="#595959"/><rect x="595.5" y="25" width="25.1" height="25.1" fill="#404040"/><rect x="620.3" y="25" width="49.9" height="25.1" fill="#333333"/><rect x="670" y="25" width="25.1" height="25.1" fill="#262626"/><rect x="694.8" y="25" width="25.1" height="25.1" fill="#1a1a1a"/><rect x="719.6" y="25" width="124.3" height="25.1" fill="#262626"/><rect x="843.6" y="25" width="25.1" height="25.1" fill="#333333"/><rect x="868.4" y="25" width="55.1" height="25.1" fill="#4c4c4c"/><rect x="-29.8" y="49.8" width="55.1" height="25.1" fill="#404040"/><rect x="25" y="49.8" width="25.1" height="25.1" fill="#4c4c4c"/><rect x="49.8" y="49.8" width="49.9" height="25.1" fill="#404040"/><rect x="99.4" y="49.8" width="99.5" height="25.1" fill="#333333"/><rect x="198.6" y="49.8" width="99.5" height="25.1" fill="#262626"/><rect x="297.9" y="49.8" width="124.3" height="25.1" fill="#000000"/><rect x="421.9" y="49.8" width="25.1" height="25.1" fill="#9f9f9f"/><rect x="446.7" y="49.8" width="25.1" height="25.1" fill="#737373"/><rect x="471.5" y="49.8" width="25.1" height="25.1" fill="#7f7f7f"/><rect x="496.3" y="49.8" width="49.9" height="25.1" fill="#8a8a8a"/><rect x="545.9" y="49.8" width="25.1" height="25.1" fill="#7f7f7f"/><rect x="570.7" y="49.8" width="25.1" height="25.1" fill="#666666"/><rect x="595.5" y="49.8" width="25.1" height="25.1" fill="#4c4c4c"/><rect x="620.3" y="49.8" width="25.1" height="25.1" fill="#404040"/><rect x="645.2" y="49.8" width="25.1" height="25.1" fill="#333333"/><rect x="670" y="49.8" width="49.9" height="25.1" fill="#262626"/><rect x="719.6" y="49.8" width="49.9" height="25.1" fill="#333333"/><rect x="769.2" y="49.8" width="25.1" height="25.1" fill="#262626"/><rect x="794" y="49.8" width="25.1" height="25.1" fill="#1a1a1a"/><rect x="818.8" y="49.8" width="25.1" height="25.1" fill="#262626"/><rect x="843.6" y="49.8" width="25.1" height="25.1" fill="#333333"/><rect x="868.4" y="49.8" width="55.1" height="25.1" fill="#4c4c4c"/><rect x="-29.8" y="74.6" width="55.1" height="25.1" fill="#404040"/><rect x="25" y="74.6" width="74.7" height="25.1" fill="#666666"/><rect x="99.4" y="74.6" width="25.1" height="25.1" fill="#404040"/><rect x="124.2" y="74.6" width="25.1" height="25.1" fill="#4c4c4c"/><rect x="149" y="74.6" width="74.7" height="25.1" fill="#595959"/><rect x="223.4" y="74.6" width="25.1" height="25.1" fill="#666666"/><rect x="248.2" y="74.6" width="49.9" height="25.1" fill="#595959"/><rect x="297.9" y="74.6" width="99.5" height="25.1" fill="#000000"/><rect x="397.1" y="74.6" width="49.9" height="25.1" fill="#9f9f9f"/><rect x="446.7" y="74.6" width="25.1" height="25.1" fill="#949494"/><rect x="471.5" y="74.6" width="25.1" height="25.1" fill="#8a8a8a"/><rect x="496.3" y="74.6" width="25.1" height="25.1" fill="#949494"/><rect x="521.1" y="74.6" width="49.9" height="25.1" fill="#8a8a8a"/><rect x="570.7" y="74.6" width="25.1" height="25.1" fill="#7f7f7f"/><rect x="595.5" y="74.6" width="25.1" height="25.1" fill="#737373"/><rect x="620.3" y="74.6" width="25.1" height="25.1" fill="#666666"/><rect x="645.2" y="74.6" width="124.3" height="25.1" fill="#4c4c4c"/><rect x="769.2" y="74.6" width="49.9" height="25.1" fill="#404040"/><rect x="818.8" y="74.6" width="49.9" height="25.1" fill="#595959"/><rect x="868.4" y="74.6" width="55.1" height="25.1" fill="#4c4c4c"/><rect x="-29.8" y="99.4" width="129.5" height="25.1" fill="#666666"/><rect x="99.4" y="99.4" width="25.1" height="25.1" fill="#404040"/><rect x="124.2" y="99.4" width="25.1" height="25.1" fill="#949494"/><rect x="149" y="99.4" width="25.1" height="25.1" fill="#666666"/><rect x="173.8" y="99.4" width="25.1" height="25.1" fill="#737373"/><rect x="198.6" y="99.4" width="25.1" height="25.1" fill="#7f7f7f"/><rect x="223.4" y="99.4" width="25.1" height="25.1" fill="#949494"/><rect x="248.2" y="99.4" width="25.1" height="25.1" fill="#9f9f9f"/><rect x="273.1" y="99.4" width="49.9" height="25.1" fill="#8a8a8a"/><rect x="322.7" y="99.4" width="49.9" height="25.1" fill="#000000"/><rect x="372.3" y="99.4" width="49.9" height="25.1" fill="#9f9f9f"/><rect x="421.9" y="99.4" width="25.1" height="25.1" fill="#7f7f7f"/><rect x="446.7" y="99.4" width="25.1" height="25.1" fill="#8a8a8a"/><rect x="471.5" y="99.4" width="25.1" height="25.1" fill="#7f7f7f"/><rect x="496.3" y="99.4" width="25.1" height="25.1" fill="#8a8a8a"/><rect x="521.1" y="99.4" width="49.9" height="25.1" fill="#7f7f7f"/><rect x="570.7" y="99.4" width="25.1" height="25.1" fill="#666666"/><rect x="595.5" y="99.4" width="49.9" height="25.1" fill="#737373"/><rect x="645.2" y="99.4" width="25.1" height="25.1" fill="#4c4c4c"/><rect x="670" y="99.4" width="25.1" height="25.1" fill="#404040"/><rect x="694.8" y="99.4" width="25.1" height="25.1" fill="#4c4c4c"/><rect x="719.6" y="99.4" width="25.1" height="25.1" fill="#595959"/><rect x="744.4" y="99.4" width="25.1" height="25.1" fill="#737373"/><rect x="769.2" y="99.4" width="49.9" height="25.1" fill="#7f7f7f"/><rect x="818.8" y="99.4" width="49.9" height="25.1" fill="#595959"/><rect x="868.4" y="99.4" width="55.1" height="25.1" fill="#4c4c4c"/><rect x="-29.8" y="124.2" width="129.5" height="25.1" fill="#666666"/><rect x="99.4" y="124.2" width="74.7" height="25.1" fill="#737373"/><rect x="173.8" y="124.2" width="25.1" height="25.1" fill="#7f7f7f"/><rect x="198.6" y="124.2" width="25.1" height="25.1" fill="#8a8a8a"/><rect x="223.4" y="124.2" width="25.1" height="25.1" fill="#aaaaaa"/><rect x="248.2" y="124.2" width="49.9" height="25.1" fill="#9f9f9f"/><rect x="297.9" y="124.2" width="49.9" height="25.1" fill="#8a8a8a"/><rect x="347.5" y="124.2" width="74.7" height="25.1" fill="#404040"/><rect x="421.9" y="124.2" width="25.1" height="25.1" fill="#737373"/><rect x="446.7" y="124.2" width="25.1" height="25.1" fill="#4c4c4c"/><rect x="471.5" y="124.2" width="25.1" height="25.1" fill="#404040"/><rect x="496.3" y="124.2" width="124.3" height="25.1" fill="#595959"/><rect x="620.3" y="124.2" width="25.1" height="25.1" fill="#404040"/><rect x="645.2" y="124.2" width="25.1" height="25.1" fill="#262626"/><rect x="670" y="124.2" width="25.1" height="25.1" fill="#333333"/><rect x="694.8" y="124.2" width="25.1" height="25.1" fill="#666666"/><rect x="719.6" y="124.2" width="25.1" height="25.1" fill="#8a8a8a"/><rect x="744.4" y="124.2" width="25.1" height="25.1" fill="#7f7f7f"/><rect x="769.2" y="124.2" width="99.5" height="25.1" fill="#949494"/><rect x="868.4" y="124.2" width="55.1" height="25.1" fill="#595959"/><rect x="-29.8" y="149" width="104.7" height="25.1" fill="#666666"/><rect x="74.6" y="149" width="74.7" height="25.1" fill="#737373"/><rect x="149" y="149" width="25.1" height="25.1" fill="#666666"/><rect x="173.8" y="149" width="25.1" height="25.1" fill="#7f7f7f"/><rect x="198.6" y="149" width="99.5" height="25.1" fill="#8a8a8a"/><rect x="297.9" y="149" width="25.1" height="25.1" fill="#7f7f7f"/><rect x="322.7" y="149" width="25.1" height="25.1" fill="#737373"/><rect x="347.5" y="149" width="74.7" height="25.1" fill="#404040"/><rect x="421.9" y="149" width="49.9" height="25.1" fill="#333333"/><rect x="471.5" y="149" width="124.3" height="25.1" fill="#262626"/><rect x="595.5" y="149" width="25.1" height="25.1" fill="#333333"/><rect x="620.3" y="149" width="49.9" height="25.1" fill="#4c4c4c"/><rect x="670" y="149" width="25.1" height="25.1" fill="#666666"/><rect x="694.8" y="149" width="25.1" height="25.1" fill="#949494"/><rect x="719.6" y="149" width="74.7" height="25.1" fill="#8a8a8a"/><rect x="794" y="149" width="129.5" height="25.1" fill="#949494"/><rect x="-29.8" y="173.8" width="79.9" height="25.1" fill="#666666"/><rect x="49.8" y="173.8" width="74.7" height="25.1" fill="#737373"/><rect x="124.2" y="173.8" width="49.9" height="25.1" fill="#666666"/><rect x="173.8" y="173.8" width="99.5" height="25.1" fill="#8a8a8a"/><rect x="273.1" y="173.8" width="49.9" height="25.1" fill="#7f7f7f"/><rect x="322.7" y="173.8" width="49.9" height="25.1" fill="#737373"/><rect x="372.3" y="173.8" width="74.7" height="25.1" fill="#4c4c4c"/><rect x="446.7" y="173.8" width="74.7" height="25.1" fill="#404040"/><rect x="521.1" y="173.8" width="25.1" height="25.1" fill="#4c4c4c"/><rect x="545.9" y="173.8" width="49.9" height="25.1" fill="#262626"/><rect x="595.5" y="173.8" width="25.1" height="25.1" fill="#333333"/><rect x="620.3" y="173.8" width="25.1" height="25.1" fill="#595959"/><rect x="645.2" y="173.8" width="25.1" height="25.1" fill="#666666"/><rect x="670" y="173.8" width="74.7" height="25.1" fill="#7f7f7f"/><rect x="744.4" y="173.8" width="179.1" height="25.1" fill="#737373"/><rect x="-29.8" y="198.7" width="79.9" height="25.1" fill="#666666"/><rect x="49.8" y="198.7" width="49.9" height="25.1" fill="#737373"/><rect x="99.4" y="198.7" width="49.9" height="25.1" fill="#666666"/><rect x="149" y="198.7" width="149.1" height="25.1" fill="#8a8a8a"/><rect x="297.9" y="198.7" width="74.7" height="25.1" fill="#737373"/><rect x="372.3" y="198.7" width="49.9" height="25.1" fill="#7f7f7f"/><rect x="421.9" y="198.7" width="25.1" height="25.1" fill="#737373"/><rect x="446.7" y="198.7" width="49.9" height="25.1" fill="#666666"/><rect x="496.3" y="198.7" width="25.1" height="25.1" fill="#737373"/><rect x="521.1" y="198.7" width="25.1" height="25.1" fill="#666666"/><rect x="545.9" y="198.7" width="124.3" height="25.1" fill="#595959"/><rect x="670" y="198.7" width="25.1" height="25.1" fill="#737373"/><rect x="694.8" y="198.7" width="25.1" height="25.1" fill="#8a8a8a"/><rect x="719.6" y="198.7" width="25.1" height="25.1" fill="#7f7f7f"/><rect x="744.4" y="198.7" width="179.1" height="25.1" fill="#737373"/><rect x="-29.8" y="223.5" width="55.1" height="25.1" fill="#666666"/><rect x="25" y="223.5" width="49.9" height="25.1" fill="#737373"/><rect x="74.6" y="223.5" width="49.9" height="25.1" fill="#666666"/><rect x="124.2" y="223.5" width="99.5" height="25.1" fill="#8a8a8a"/><rect x="223.4" y="223.5" width="49.9" height="25.1" fill="#7f7f7f"/><rect x="273.1" y="223.5" width="25.1" height="25.1" fill="#9f9f9f"/><rect x="297.9" y="223.5" width="25.1" height="25.1" fill="#949494"/><rect x="322.7" y="223.5" width="25.1" height="25.1" fill="#8a8a8a"/><rect x="347.5" y="223.5" width="49.9" height="25.1" fill="#4c4c4c"/><rect x="397.1" y="223.5" width="25.1" height="25.1" fill="#7f7f7f"/><rect x="421.9" y="223.5" width="25.1" height="25.1" fill="#737373"/><rect x="446.7" y="223.5" width="25.1" height="25.1" fill="#595959"/><rect x="471.5" y="223.5" width="25.1" height="25.1" fill="#737373"/><rect x="496.3" y="223.5" width="25.1" height="25.1" fill="#7f7f7f"/><rect x="521.1" y="223.5" width="74.7" height="25.1" fill="#666666"/><rect x="595.5" y="223.5" width="74.7" height="25.1" fill="#595959"/><rect x="670" y="223.5" width="25.1" height="25.1" fill="#737373"/><rect x="694.8" y="223.5" width="25.1" height="25.1" fill="#7f7f7f"/><rect x="719.6" y="223.5" width="25.1" height="25.1" fill="#737373"/><rect x="744.4" y="223.5" width="25.1" height="25.1" fill="#666666"/><rect x="769.2" y="223.5" width="154.3" height="25.1" fill="#737373"/><rect x="-29.8" y="248.3" width="55.1" height="25.1" fill="#666666"/><rect x="25" y="248.3" width="25.1" height="25.1" fill="#737373"/><rect x="49.8" y="248.3" width="49.9" height="25.1" fill="#666666"/><rect x="99.4" y="248.3" width="99.5" height="25.1" fill="#8a8a8a"/><rect x="198.6" y="248.3" width="74.7" height="25.1" fill="#737373"/><rect x="273.1" y="248.3" width="25.1" height="25.1" fill="#7f7f7f"/><rect x="297.9" y="248.3" width="25.1" height="25.1" fill="#949494"/><rect x="322.7" y="248.3" width="25.1" height="25.1" fill="#8a8a8a"/><rect x="347.5" y="248.3" width="74.7" height="25.1" fill="#7f7f7f"/><rect x="421.9" y="248.3" width="248.4" height="25.1" fill="#595959"/><rect x="670" y="248.3" width="49.9" height="25.1" fill="#7f7f7f"/><rect x="719.6" y="248.3" width="25.1" height="25.1" fill="#737373"/><rect x="744.4" y="248.3" width="49.9" height="25.1" fill="#595959"/><rect x="794" y="248.3" width="49.9" height="25.1" fill="#666666"/><rect x="843.6" y="248.3" width="25.1" height="25.1" fill="#737373"/><rect x="868.4" y="248.3" width="55.1" height="25.1" fill="#8a8a8a"/><rect x="-29.8" y="273.1" width="55.1" height="25.1" fill="#737373"/><rect x="25" y="273.1" width="49.9" height="25.1" fill="#666666"/><rect x="74.6" y="273.1" width="74.7" height="25.1" fill="#8a8a8a"/><rect x="149" y="273.1" width="124.3" height="25.1" fill="#000000"/><rect x="273.1" y="273.1" width="25.1" height="25.1" fill="#404040"/><rect x="297.9" y="273.1" width="25.1" height="25.1" fill="#7f7f7f"/><rect x="322.7" y="273.1" width="49.9" height="25.1" fill="#aaaaaa"/><rect x="372.3" y="273.1" width="49.9" height="25.1" fill="#7f7f7f"/><rect x="421.9" y="273.1" width="74.7" height="25.1" fill="#4c4c4c"/><rect x="496.3" y="273.1" width="25.1" height="25.1" fill="#595959"/><rect x="521.1" y="273.1" width="25.1" height="25.1" fill="#737373"/><rect x="545.9" y="273.1" width="99.5" height="25.1" fill="#4c4c4c"/><rect x="645.2" y="273.1" width="25.1" height="25.1" fill="#7f7f7f"/><rect x="670" y="273.1" width="74.7" height="25.1" fill="#595959"/><rect x="744.4" y="273.1" width="25.1" height="25.1" fill="#4c4c4c"/><rect x="769.2" y="273.1" width="25.1" height="25.1" fill="#595959"/><rect x="794" y="273.1" width="25.1" height="25.1" fill="#7f7f7f"/><rect x="818.8" y="273.1" width="49.9" height="25.1" fill="#aaaaaa"/><rect x="868.4" y="273.1" width="55.1" height="25.1" fill="#8a8a8a"/><rect x="-29.8" y="297.9" width="79.9" height="25.1" fill="#666666"/><rect x="49.8" y="297.9" width="74.7" height="25.1" fill="#8a8a8a"/><rect x="124.2" y="297.9" width="173.9" height="25.1" fill="#4c4c4c"/><rect x="297.9" y="297.9" width="49.9" height="25.1" fill="#7f7f7f"/><rect x="347.5" y="297.9" width="49.9" height="25.1" fill="#aaaaaa"/><rect x="397.1" y="297.9" width="25.1" height="25.1" fill="#7f7f7f"/><rect x="421.9" y="297.9" width="74.7" height="25.1" fill="#595959"/><rect x="496.3" y="297.9" width="74.7" height="25.1" fill="#7f7f7f"/><rect x="570.7" y="297.9" width="74.7" height="25.1" fill="#4c4c4c"/><rect x="645.2" y="297.9" width="99.5" height="25.1" fill="#9f9f9f"/><rect x="744.4" y="297.9" width="25.1" height="25.1" fill="#737373"/><rect x="769.2" y="297.9" width="25.1" height="25.1" fill="#949494"/><rect x="794" y="297.9" width="25.1" height="25.1" fill="#aaaaaa"/><rect x="818.8" y="297.9" width="25.1" height="25.1" fill="#b5b5b5"/><rect x="843.6" y="297.9" width="79.9" height="25.1" fill="#8a8a8a"/><rect x="-29.8" y="322.7" width="55.1" height="25.1" fill="#666666"/><rect x="25" y="322.7" width="49.9" height="25.1" fill="#8a8a8a"/><rect x="74.6" y="322.7" width="248.4" height="25.1" fill="#595959"/><rect x="322.7" y="322.7" width="49.9" height="25.1" fill="#7f7f7f"/><rect x="372.3" y="322.7" width="25.1" height="25.1" fill="#aaaaaa"/><rect x="397.1" y="322.7" width="99.5" height="25.1" fill="#595959"/><rect x="496.3" y="322.7" width="99.5" height="25.1" fill="#7f7f7f"/><rect x="595.5" y="322.7" width="49.9" height="25.1" fill="#4c4c4c"/><rect x="645.2" y="322.7" width="99.5" height="25.1" fill="#9f9f9f"/><rect x="744.4" y="322.7" width="25.1" height="25.1" fill="#737373"/><rect x="769.2" y="322.7" width="74.7" height="25.1" fill="#949494"/><rect x="843.6" y="322.7" width="79.9" height="25.1" fill="#8a8a8a"/><rect x="-29.8" y="347.5" width="55.1" height="55.1" fill="#8a8a8a"/><rect x="25" y="347.5" width="322.8" height="55.1" fill="#4c4c4c"/><rect x="347.5" y="347.5" width="49.9" height="55.1" fill="#7f7f7f"/><rect x="397.1" y="347.5" width="99.5" height="55.1" fill="#595959"/><rect x="496.3" y="347.5" width="124.3" height="55.1" fill="#7f7f7f"/><rect x="620.3" y="347.5" width="25.1" height="55.1" fill="#4c4c4c"/><rect x="645.2" y="347.5" width="99.5" height="55.1" fill="#9f9f9f"/><rect x="744.4" y="347.5" width="25.1" height="55.1" fill="#737373"/><rect x="769.2" y="347.5" width="74.7" height="55.1" fill="#949494"/><rect x="843.6" y="347.5" width="79.9" height="55.1" fill="#8a8a8a"/></g><g filter="url(#bl2)"><path d="M272.3,264.4 274.8,275.6 275.5,285.5 273.5,295.4 272.3,302.8" fill="none" stroke="#000000" stroke-width="9" stroke-linecap="round" stroke-linejoin="round"/><path d="M276.8,268.1 279.3,280.5 278,292.9 275.5,305.3" fill="none" stroke="#2e2e2e" stroke-width="7" stroke-linecap="round" stroke-linejoin="round"/><ellipse cx="665" cy="135.4" rx="19.8" ry="6.2" fill="#000000"/><ellipse cx="674.9" cy="106.9" rx="17.4" ry="6.2" fill="#333333"/><ellipse cx="248.2" cy="131.7" rx="14.9" ry="12.4" fill="#aaaaaa"/><ellipse cx="471.5" cy="95.7" rx="12.4" ry="6.2" fill="#a6a6a6"/><ellipse cx="719.6" cy="156.5" rx="14.9" ry="9.9" fill="#9f9f9f"/><ellipse cx="813.8" cy="305.3" rx="9.9" ry="14.9" fill="#b5b5b5"/><ellipse cx="821.3" cy="290.4" rx="6.2" ry="12.4" fill="#b1b1b1"/><ellipse cx="736.9" cy="306.6" rx="6.2" ry="5" fill="#aaaaaa"/><ellipse cx="141.6" cy="109.4" rx="5" ry="9.9" fill="#a6a6a6"/><ellipse cx="292.9" cy="233.4" rx="19.8" ry="9.9" fill="#a4a4a4"/><ellipse cx="330.1" cy="275.6" rx="12.4" ry="9.9" fill="#aaaaaa"/><ellipse cx="400.8" cy="62.2" rx="11.2" ry="3.2" fill="#666666"/><ellipse cx="350" cy="240.8" rx="8.7" ry="7.4" fill="#404040"/><ellipse cx="498.8" cy="163.9" rx="9.9" ry="6.2" fill="#1a1a1a"/></g></g><path d="M563.3,110.6 568.3,108.1 573.2,107.4 578.2,108.1 578.2,111.3 574,112.8 571.5,113.6 573.2,116.8 576.9,118 576.9,120.5 580.2,122.3 578.2,125.5 580.2,129.2 580.2,131.7 575.7,132.4 571.5,130.7 568.3,128.5 569.2,123.7 567,119.8 564.5,116.8 562.5,113.1Z M273.1,28.5 292.9,22 322.7,19.3 357.4,17.6 387.2,19.3 399.6,23.8 395.8,32.4 392.1,39.9 384.7,46.1 372.3,51.6 357.4,57.3 346.2,59.7 338.8,56 332.6,48.6 325.1,42.4 312.7,36.7 295.4,32.9Z" fill="#fff" filter="url(#rag)"/></g><use href="#coast"/></g>
<use href="#frame"/>
</g>
<text x="77.7" y="1087.8" font-size="28" text-anchor="end">90°N</text>
<text x="77.7" y="1162.2" font-size="28" text-anchor="end">60°N</text>
<text x="77.7" y="1236.6" font-size="28" text-anchor="end">30°N</text>
<text x="77.7" y="1311.1" font-size="28" text-anchor="end">0°</text>
<text x="77.7" y="1385.5" font-size="28" text-anchor="end">30°S</text>
<text x="77.7" y="1459.9" font-size="28" text-anchor="end">60°S</text>
<text x="227.1" y="1478.8" font-size="28" text-anchor="middle">120°W</text>
<text x="396" y="1478.8" font-size="28" text-anchor="middle">60°W</text>
<text x="532.3" y="1478.8" font-size="28" text-anchor="middle">0°</text>
<text x="663.3" y="1478.8" font-size="28" text-anchor="middle">60°E</text>
<text x="822.7" y="1478.8" font-size="28" text-anchor="middle">120°E</text>
<text x="534.2" y="1053.3" font-size="30.6" text-anchor="middle" class="b">d) 9—11<tspan class="cj" font-weight="normal" font-size="29.6" dy="1.4">月</tspan></text>
<text x="114" y="1424.2" font-size="28.6"><tspan class="cj" font-size="28">平均值</tspan><tspan class="b">=0.35</tspan></text>
<g transform="translate(1089.8,1075)">
<g clip-path="url(#box)"><g clip-path="url(#land)"><g filter="url(#rg)"><g filter="url(#bl)"><rect x="-29.8" y="-29.8" width="55.1" height="55.1" fill="#1a1a1a"/><rect x="25" y="-29.8" width="25.1" height="55.1" fill="#262626"/><rect x="49.8" y="-29.8" width="322.8" height="55.1" fill="#000000"/><rect x="372.3" y="-29.8" width="25.1" height="55.1" fill="#a1a1a1"/><rect x="397.1" y="-29.8" width="99.5" height="55.1" fill="#1a1a1a"/><rect x="496.3" y="-29.8" width="427.2" height="55.1" fill="#000000"/><rect x="-29.8" y="25" width="55.1" height="25.1" fill="#1a1a1a"/><rect x="25" y="25" width="25.1" height="25.1" fill="#262626"/><rect x="49.8" y="25" width="298" height="25.1" fill="#000000"/><rect x="347.5" y="25" width="74.7" height="25.1" fill="#a1a1a1"/><rect x="421.9" y="25" width="74.7" height="25.1" fill="#1a1a1a"/><rect x="496.3" y="25" width="427.2" height="25.1" fill="#000000"/><rect x="-29.8" y="49.8" width="55.1" height="25.1" fill="#1a1a1a"/><rect x="25" y="49.8" width="25.1" height="25.1" fill="#262626"/><rect x="49.8" y="49.8" width="298" height="25.1" fill="#000000"/><rect x="347.5" y="49.8" width="99.5" height="25.1" fill="#a1a1a1"/><rect x="446.7" y="49.8" width="49.9" height="25.1" fill="#1a1a1a"/><rect x="496.3" y="49.8" width="427.2" height="25.1" fill="#000000"/><rect x="-29.8" y="74.6" width="55.1" height="25.1" fill="#1a1a1a"/><rect x="25" y="74.6" width="49.9" height="25.1" fill="#404040"/><rect x="74.6" y="74.6" width="25.1" height="25.1" fill="#1a1a1a"/><rect x="99.4" y="74.6" width="248.4" height="25.1" fill="#000000"/><rect x="347.5" y="74.6" width="99.5" height="25.1" fill="#a1a1a1"/><rect x="446.7" y="74.6" width="25.1" height="25.1" fill="#7f7f7f"/><rect x="471.5" y="74.6" width="25.1" height="25.1" fill="#737373"/><rect x="496.3" y="74.6" width="25.1" height="25.1" fill="#595959"/><rect x="521.1" y="74.6" width="25.1" height="25.1" fill="#333333"/><rect x="545.9" y="74.6" width="25.1" height="25.1" fill="#1a1a1a"/><rect x="570.7" y="74.6" width="352.8" height="25.1" fill="#000000"/><rect x="-29.8" y="99.4" width="104.7" height="25.1" fill="#404040"/><rect x="74.6" y="99.4" width="25.1" height="25.1" fill="#1a1a1a"/><rect x="99.4" y="99.4" width="25.1" height="25.1" fill="#000000"/><rect x="124.2" y="99.4" width="25.1" height="25.1" fill="#959595"/><rect x="149" y="99.4" width="25.1" height="25.1" fill="#404040"/><rect x="173.8" y="99.4" width="74.7" height="25.1" fill="#1a1a1a"/><rect x="248.2" y="99.4" width="25.1" height="25.1" fill="#262626"/><rect x="273.1" y="99.4" width="74.7" height="25.1" fill="#333333"/><rect x="347.5" y="99.4" width="74.7" height="25.1" fill="#a1a1a1"/><rect x="421.9" y="99.4" width="25.1" height="25.1" fill="#8a8a8a"/><rect x="446.7" y="99.4" width="25.1" height="25.1" fill="#7f7f7f"/><rect x="471.5" y="99.4" width="49.9" height="25.1" fill="#737373"/><rect x="521.1" y="99.4" width="25.1" height="25.1" fill="#595959"/><rect x="545.9" y="99.4" width="25.1" height="25.1" fill="#404040"/><rect x="570.7" y="99.4" width="25.1" height="25.1" fill="#262626"/><rect x="595.5" y="99.4" width="25.1" height="25.1" fill="#333333"/><rect x="620.3" y="99.4" width="25.1" height="25.1" fill="#1a1a1a"/><rect x="645.2" y="99.4" width="278.4" height="25.1" fill="#000000"/><rect x="-29.8" y="124.2" width="104.7" height="25.1" fill="#404040"/><rect x="74.6" y="124.2" width="25.1" height="25.1" fill="#1a1a1a"/><rect x="99.4" y="124.2" width="49.9" height="25.1" fill="#8a8a8a"/><rect x="149" y="124.2" width="25.1" height="25.1" fill="#595959"/><rect x="173.8" y="124.2" width="25.1" height="25.1" fill="#333333"/><rect x="198.6" y="124.2" width="25.1" height="25.1" fill="#737373"/><rect x="223.4" y="124.2" width="74.7" height="25.1" fill="#a1a1a1"/><rect x="297.9" y="124.2" width="49.9" height="25.1" fill="#333333"/><rect x="347.5" y="124.2" width="74.7" height="25.1" fill="#404040"/><rect x="421.9" y="124.2" width="25.1" height="25.1" fill="#8a8a8a"/><rect x="446.7" y="124.2" width="25.1" height="25.1" fill="#666666"/><rect x="471.5" y="124.2" width="25.1" height="25.1" fill="#595959"/><rect x="496.3" y="124.2" width="25.1" height="25.1" fill="#666666"/><rect x="521.1" y="124.2" width="25.1" height="25.1" fill="#737373"/><rect x="545.9" y="124.2" width="74.7" height="25.1" fill="#595959"/><rect x="620.3" y="124.2" width="25.1" height="25.1" fill="#333333"/><rect x="645.2" y="124.2" width="25.1" height="25.1" fill="#1a1a1a"/><rect x="670" y="124.2" width="49.9" height="25.1" fill="#000000"/><rect x="719.6" y="124.2" width="25.1" height="25.1" fill="#333333"/><rect x="744.4" y="124.2" width="25.1" height="25.1" fill="#595959"/><rect x="769.2" y="124.2" width="99.5" height="25.1" fill="#737373"/><rect x="868.4" y="124.2" width="55.1" height="25.1" fill="#000000"/><rect x="-29.8" y="149" width="104.7" height="25.1" fill="#404040"/><rect x="74.6" y="149" width="74.7" height="25.1" fill="#8a8a8a"/><rect x="149" y="149" width="25.1" height="25.1" fill="#737373"/><rect x="173.8" y="149" width="25.1" height="25.1" fill="#666666"/><rect x="198.6" y="149" width="99.5" height="25.1" fill="#8a8a8a"/><rect x="297.9" y="149" width="25.1" height="25.1" fill="#4c4c4c"/><rect x="322.7" y="149" width="25.1" height="25.1" fill="#737373"/><rect x="347.5" y="149" width="74.7" height="25.1" fill="#404040"/><rect x="421.9" y="149" width="74.7" height="25.1" fill="#333333"/><rect x="496.3" y="149" width="25.1" height="25.1" fill="#262626"/><rect x="521.1" y="149" width="25.1" height="25.1" fill="#404040"/><rect x="545.9" y="149" width="25.1" height="25.1" fill="#4c4c4c"/><rect x="570.7" y="149" width="25.1" height="25.1" fill="#595959"/><rect x="595.5" y="149" width="49.9" height="25.1" fill="#4c4c4c"/><rect x="645.2" y="149" width="49.9" height="25.1" fill="#333333"/><rect x="694.8" y="149" width="25.1" height="25.1" fill="#7f7f7f"/><rect x="719.6" y="149" width="25.1" height="25.1" fill="#8a8a8a"/><rect x="744.4" y="149" width="179.1" height="25.1" fill="#737373"/><rect x="-29.8" y="173.8" width="79.9" height="25.1" fill="#404040"/><rect x="49.8" y="173.8" width="74.7" height="25.1" fill="#8a8a8a"/><rect x="124.2" y="173.8" width="49.9" height="25.1" fill="#737373"/><rect x="173.8" y="173.8" width="25.1" height="25.1" fill="#595959"/><rect x="198.6" y="173.8" width="74.7" height="25.1" fill="#666666"/><rect x="273.1" y="173.8" width="49.9" height="25.1" fill="#4c4c4c"/><rect x="322.7" y="173.8" width="49.9" height="25.1" fill="#737373"/><rect x="372.3" y="173.8" width="49.9" height="25.1" fill="#262626"/><rect x="421.9" y="173.8" width="124.3" height="25.1" fill="#1a1a1a"/><rect x="545.9" y="173.8" width="49.9" height="25.1" fill="#404040"/><rect x="595.5" y="173.8" width="99.5" height="25.1" fill="#4c4c4c"/><rect x="694.8" y="173.8" width="25.1" height="25.1" fill="#404040"/><rect x="719.6" y="173.8" width="25.1" height="25.1" fill="#595959"/><rect x="744.4" y="173.8" width="74.7" height="25.1" fill="#737373"/><rect x="818.8" y="173.8" width="104.7" height="25.1" fill="#7f7f7f"/><rect x="-29.8" y="198.7" width="79.9" height="25.1" fill="#404040"/><rect x="49.8" y="198.7" width="49.9" height="25.1" fill="#8a8a8a"/><rect x="99.4" y="198.7" width="49.9" height="25.1" fill="#737373"/><rect x="149" y="198.7" width="49.9" height="25.1" fill="#595959"/><rect x="198.6" y="198.7" width="49.9" height="25.1" fill="#666666"/><rect x="248.2" y="198.7" width="25.1" height="25.1" fill="#737373"/><rect x="273.1" y="198.7" width="25.1" height="25.1" fill="#666666"/><rect x="297.9" y="198.7" width="74.7" height="25.1" fill="#737373"/><rect x="372.3" y="198.7" width="49.9" height="25.1" fill="#404040"/><rect x="421.9" y="198.7" width="25.1" height="25.1" fill="#4c4c4c"/><rect x="446.7" y="198.7" width="74.7" height="25.1" fill="#404040"/><rect x="521.1" y="198.7" width="25.1" height="25.1" fill="#595959"/><rect x="545.9" y="198.7" width="49.9" height="25.1" fill="#4c4c4c"/><rect x="595.5" y="198.7" width="74.7" height="25.1" fill="#595959"/><rect x="670" y="198.7" width="25.1" height="25.1" fill="#737373"/><rect x="694.8" y="198.7" width="49.9" height="25.1" fill="#7f7f7f"/><rect x="744.4" y="198.7" width="49.9" height="25.1" fill="#737373"/><rect x="794" y="198.7" width="129.5" height="25.1" fill="#7f7f7f"/><rect x="-29.8" y="223.5" width="55.1" height="25.1" fill="#404040"/><rect x="25" y="223.5" width="49.9" height="25.1" fill="#8a8a8a"/><rect x="74.6" y="223.5" width="49.9" height="25.1" fill="#737373"/><rect x="124.2" y="223.5" width="74.7" height="25.1" fill="#595959"/><rect x="198.6" y="223.5" width="25.1" height="25.1" fill="#666666"/><rect x="223.4" y="223.5" width="49.9" height="25.1" fill="#7f7f7f"/><rect x="273.1" y="223.5" width="49.9" height="25.1" fill="#a1a1a1"/><rect x="322.7" y="223.5" width="25.1" height="25.1" fill="#959595"/><rect x="347.5" y="223.5" width="49.9" height="25.1" fill="#7f7f7f"/><rect x="397.1" y="223.5" width="25.1" height="25.1" fill="#404040"/><rect x="421.9" y="223.5" width="25.1" height="25.1" fill="#4c4c4c"/><rect x="446.7" y="223.5" width="25.1" height="25.1" fill="#595959"/><rect x="471.5" y="223.5" width="25.1" height="25.1" fill="#737373"/><rect x="496.3" y="223.5" width="25.1" height="25.1" fill="#7f7f7f"/><rect x="521.1" y="223.5" width="25.1" height="25.1" fill="#737373"/><rect x="545.9" y="223.5" width="124.3" height="25.1" fill="#595959"/><rect x="670" y="223.5" width="25.1" height="25.1" fill="#737373"/><rect x="694.8" y="223.5" width="49.9" height="25.1" fill="#7f7f7f"/><rect x="744.4" y="223.5" width="25.1" height="25.1" fill="#737373"/><rect x="769.2" y="223.5" width="154.3" height="25.1" fill="#7f7f7f"/><rect x="-29.8" y="248.3" width="55.1" height="25.1" fill="#404040"/><rect x="25" y="248.3" width="25.1" height="25.1" fill="#8a8a8a"/><rect x="49.8" y="248.3" width="49.9" height="25.1" fill="#737373"/><rect x="99.4" y="248.3" width="99.5" height="25.1" fill="#595959"/><rect x="198.6" y="248.3" width="74.7" height="25.1" fill="#7f7f7f"/><rect x="273.1" y="248.3" width="25.1" height="25.1" fill="#8a8a8a"/><rect x="297.9" y="248.3" width="25.1" height="25.1" fill="#a1a1a1"/><rect x="322.7" y="248.3" width="25.1" height="25.1" fill="#acacac"/><rect x="347.5" y="248.3" width="74.7" height="25.1" fill="#7f7f7f"/><rect x="421.9" y="248.3" width="49.9" height="25.1" fill="#595959"/><rect x="471.5" y="248.3" width="149.1" height="25.1" fill="#7f7f7f"/><rect x="620.3" y="248.3" width="49.9" height="25.1" fill="#595959"/><rect x="670" y="248.3" width="74.7" height="25.1" fill="#7f7f7f"/><rect x="744.4" y="248.3" width="25.1" height="25.1" fill="#666666"/><rect x="769.2" y="248.3" width="25.1" height="25.1" fill="#737373"/><rect x="794" y="248.3" width="49.9" height="25.1" fill="#a1a1a1"/><rect x="843.6" y="248.3" width="25.1" height="25.1" fill="#7f7f7f"/><rect x="868.4" y="248.3" width="55.1" height="25.1" fill="#8a8a8a"/><rect x="-29.8" y="273.1" width="55.1" height="25.1" fill="#8a8a8a"/><rect x="25" y="273.1" width="49.9" height="25.1" fill="#737373"/><rect x="74.6" y="273.1" width="74.7" height="25.1" fill="#595959"/><rect x="149" y="273.1" width="124.3" height="25.1" fill="#1a1a1a"/><rect x="273.1" y="273.1" width="25.1" height="25.1" fill="#595959"/><rect x="297.9" y="273.1" width="25.1" height="25.1" fill="#7f7f7f"/><rect x="322.7" y="273.1" width="49.9" height="25.1" fill="#a1a1a1"/><rect x="372.3" y="273.1" width="49.9" height="25.1" fill="#7f7f7f"/><rect x="421.9" y="273.1" width="74.7" height="25.1" fill="#737373"/><rect x="496.3" y="273.1" width="25.1" height="25.1" fill="#7f7f7f"/><rect x="521.1" y="273.1" width="124.3" height="25.1" fill="#737373"/><rect x="645.2" y="273.1" width="25.1" height="25.1" fill="#7f7f7f"/><rect x="670" y="273.1" width="74.7" height="25.1" fill="#737373"/><rect x="744.4" y="273.1" width="25.1" height="25.1" fill="#595959"/><rect x="769.2" y="273.1" width="25.1" height="25.1" fill="#737373"/><rect x="794" y="273.1" width="25.1" height="25.1" fill="#a1a1a1"/><rect x="818.8" y="273.1" width="49.9" height="25.1" fill="#b7b7b7"/><rect x="868.4" y="273.1" width="55.1" height="25.1" fill="#8a8a8a"/><rect x="-29.8" y="297.9" width="79.9" height="25.1" fill="#737373"/><rect x="49.8" y="297.9" width="248.4" height="25.1" fill="#595959"/><rect x="297.9" y="297.9" width="49.9" height="25.1" fill="#737373"/><rect x="347.5" y="297.9" width="49.9" height="25.1" fill="#a1a1a1"/><rect x="397.1" y="297.9" width="25.1" height="25.1" fill="#7f7f7f"/><rect x="421.9" y="297.9" width="74.7" height="25.1" fill="#666666"/><rect x="496.3" y="297.9" width="74.7" height="25.1" fill="#7f7f7f"/><rect x="570.7" y="297.9" width="74.7" height="25.1" fill="#737373"/><rect x="645.2" y="297.9" width="99.5" height="25.1" fill="#7f7f7f"/><rect x="744.4" y="297.9" width="25.1" height="25.1" fill="#666666"/><rect x="769.2" y="297.9" width="25.1" height="25.1" fill="#7f7f7f"/><rect x="794" y="297.9" width="25.1" height="25.1" fill="#a1a1a1"/><rect x="818.8" y="297.9" width="25.1" height="25.1" fill="#b7b7b7"/><rect x="843.6" y="297.9" width="79.9" height="25.1" fill="#8a8a8a"/><rect x="-29.8" y="322.7" width="55.1" height="25.1" fill="#737373"/><rect x="25" y="322.7" width="49.9" height="25.1" fill="#595959"/><rect x="74.6" y="322.7" width="248.4" height="25.1" fill="#4c4c4c"/><rect x="322.7" y="322.7" width="49.9" height="25.1" fill="#737373"/><rect x="372.3" y="322.7" width="25.1" height="25.1" fill="#a1a1a1"/><rect x="397.1" y="322.7" width="99.5" height="25.1" fill="#666666"/><rect x="496.3" y="322.7" width="99.5" height="25.1" fill="#7f7f7f"/><rect x="595.5" y="322.7" width="49.9" height="25.1" fill="#737373"/><rect x="645.2" y="322.7" width="99.5" height="25.1" fill="#7f7f7f"/><rect x="744.4" y="322.7" width="25.1" height="25.1" fill="#666666"/><rect x="769.2" y="322.7" width="25.1" height="25.1" fill="#7f7f7f"/><rect x="794" y="322.7" width="49.9" height="25.1" fill="#959595"/><rect x="843.6" y="322.7" width="79.9" height="25.1" fill="#8a8a8a"/><rect x="-29.8" y="347.5" width="55.1" height="55.1" fill="#595959"/><rect x="25" y="347.5" width="322.8" height="55.1" fill="#4c4c4c"/><rect x="347.5" y="347.5" width="49.9" height="55.1" fill="#737373"/><rect x="397.1" y="347.5" width="99.5" height="55.1" fill="#666666"/><rect x="496.3" y="347.5" width="124.3" height="55.1" fill="#7f7f7f"/><rect x="620.3" y="347.5" width="25.1" height="55.1" fill="#737373"/><rect x="645.2" y="347.5" width="99.5" height="55.1" fill="#7f7f7f"/><rect x="744.4" y="347.5" width="25.1" height="55.1" fill="#666666"/><rect x="769.2" y="347.5" width="74.7" height="55.1" fill="#959595"/><rect x="843.6" y="347.5" width="79.9" height="55.1" fill="#8a8a8a"/></g><g filter="url(#bl2)"><path d="M272.3,264.4 274.8,275.6 275.5,285.5 273.5,295.4 272.3,302.8" fill="none" stroke="#141414" stroke-width="6" stroke-linecap="round" stroke-linejoin="round"/><path d="M276.8,268.1 279.3,280.5 278,292.9 275.5,305.3" fill="none" stroke="#404040" stroke-width="5" stroke-linecap="round" stroke-linejoin="round"/><ellipse cx="188.7" cy="119.3" rx="12.4" ry="13.6" fill="#000000"/><ellipse cx="233.4" cy="137.9" rx="22.3" ry="9.9" fill="#a5a5a5"/><ellipse cx="724.5" cy="159" rx="14.9" ry="9.9" fill="#9a9a9a"/><ellipse cx="141.6" cy="114.3" rx="4.5" ry="12.4" fill="#a1a1a1"/><ellipse cx="813.8" cy="297.9" rx="12.4" ry="22.3" fill="#b2b2b2"/><ellipse cx="400.8" cy="62.2" rx="11.2" ry="3.2" fill="#595959"/><ellipse cx="325.1" cy="260.7" rx="17.4" ry="17.4" fill="#a1a1a1"/><ellipse cx="297.9" cy="233.4" rx="19.8" ry="9.9" fill="#a5a5a5"/><ellipse cx="471.5" cy="98.2" rx="12.4" ry="5.5" fill="#9c9c9c"/><ellipse cx="436.8" cy="124.2" rx="9.9" ry="6.2" fill="#919191"/><ellipse cx="707.2" cy="129.2" rx="39.7" ry="12.4" fill="#000000"/><ellipse cx="595.5" cy="104.4" rx="29.8" ry="14.9" fill="#000000"/></g></g><path d="M265.6,29.5 278,27 285.5,23 297.9,20 317.7,18.8 335.1,18.1 357.4,16.3 377.2,16.8 392.1,19.3 402,21.3 415.7,21.3 404.5,25 400.8,30 398.3,33.7 399.6,37.4 394.6,41.1 390.9,44.9 392.1,48.6 384.7,50.3 382.2,53.3 369.8,54.5 362.4,58.5 353.7,60.5 347.5,62.2 345,65.9 341.3,70.9 338.8,74.6 333.8,74.1 327.6,72.1 322.7,68.4 318.9,64.7 315.2,60.2 314,56 318.9,52.3 312.7,49.8 311.5,46.1 307.8,42.4 302.8,37.4 295.4,34.9 283,34.9 273.1,33.7 270.6,31.7Z M563.3,110.6 568.3,108.1 573.2,107.4 578.2,108.1 578.2,111.3 574,112.8 571.5,113.6 573.2,116.8 576.9,118 576.9,120.5 580.2,122.3 578.2,125.5 580.2,129.2 580.2,131.7 575.7,132.4 571.5,130.7 568.3,128.5 569.2,123.7 567,119.8 564.5,116.8 562.5,113.1Z M124.2,48.3 146.5,49.1 163.9,51.6 198.6,51.8 208.6,44.1 223.4,44.1 238.3,49.1 253.2,48.6 273.1,46.1 292.9,49.8 297.9,34.9 268.1,27.5 302.8,16.3 198.6,15.1 124.2,30Z M615.4,41.1 632.8,48.8 640.2,54.8 655.1,59.7 666.7,63.7 678.6,74.1 699.7,77.1 703.9,89 722.1,97.9 744.4,103.9 766.7,97.9 781.6,95 799,90.5 799,74.6 838.7,72.1 848.1,65.2 830.2,56.3 838.7,46.1 794,34.9 707.2,27.5 645.2,34.9Z M659.3,99.4 672.4,92 684.8,87.5 702.2,97.9 690.6,112.8 672.4,106.9Z M622.8,125.2 627.8,125.7 645.2,139.6 642.7,142.1 632.8,135.4Z M497.6,173.1 511.2,181.3 498.8,190.7 482.7,190.7 482.7,181.3Z M466.5,187.5 482.7,185 482.7,191.2 469,192.5Z M166.4,63.5 188.7,67.2 191.2,69.7 168.9,65.9Z M198.6,58.5 218.5,61 223.4,64.7 203.6,63.5Z M62.2,52.3 79.6,53 79.6,54.8 62.2,54Z M650.1,132.9 670,134.2 670,136.1 650.1,135.4Z" fill="#fff" filter="url(#rag)"/><g filter="url(#rag2)"><path d="M265.6,30 283,34.2 302.8,36.7 309,44.9 315.2,52.3 317,59.7 321.4,65.9 327.6,71.4 336.3,73.9" fill="none" stroke="#be251e" stroke-width="10" stroke-linecap="round" stroke-linejoin="round"/><path d="M336.3,73.9 342.5,69.7 346.2,63.5 357.4,59.7 372.3,54 387.2,51.1" fill="none" stroke="#be251e" stroke-width="4" stroke-linecap="round" stroke-linejoin="round"/><ellipse cx="694.8" cy="59.7" rx="5.5" ry="2" fill="#b81a18"/><ellipse cx="674.9" cy="65.9" rx="5" ry="1.7" fill="#b81a18"/><ellipse cx="704.7" cy="72.1" rx="6.2" ry="2" fill="#b81a18"/><ellipse cx="684.8" cy="57.3" rx="3.7" ry="1.5" fill="#b81a18"/><ellipse cx="724.5" cy="78.3" rx="3.7" ry="1.2" fill="#b81a18"/><ellipse cx="836.2" cy="61" rx="7.4" ry="3" fill="#b81a18"/><ellipse cx="851.1" cy="58.5" rx="6.2" ry="2.5" fill="#b81a18"/><ellipse cx="692.3" cy="106.9" rx="3.7" ry="2" fill="#b81a18"/><ellipse cx="682.4" cy="99.4" rx="5" ry="1.7" fill="#b81a18"/><ellipse cx="677.4" cy="94.5" rx="3" ry="1.5" fill="#b81a18"/></g></g><use href="#coast"/></g>
<use href="#frame"/>
</g>
<text x="1081.5" y="1087.8" font-size="28" text-anchor="end">90°N</text>
<text x="1081.5" y="1162.2" font-size="28" text-anchor="end">60°N</text>
<text x="1081.5" y="1236.6" font-size="28" text-anchor="end">30°N</text>
<text x="1081.5" y="1311.1" font-size="28" text-anchor="end">0°</text>
<text x="1081.5" y="1385.5" font-size="28" text-anchor="end">30°S</text>
<text x="1081.5" y="1459.9" font-size="28" text-anchor="end">60°S</text>
<text x="1230.9" y="1478.8" font-size="28" text-anchor="middle">120°W</text>
<text x="1399.8" y="1478.8" font-size="28" text-anchor="middle">60°W</text>
<text x="1536.1" y="1478.8" font-size="28" text-anchor="middle">0°</text>
<text x="1667.1" y="1478.8" font-size="28" text-anchor="middle">60°E</text>
<text x="1826.5" y="1478.8" font-size="28" text-anchor="middle">120°E</text>
<text x="1538" y="1053.3" font-size="30.6" text-anchor="middle" class="b">e) 12—2<tspan class="cj" font-weight="normal" font-size="29.6" dy="1.4">月</tspan></text>
<text x="1117.8" y="1424.2" font-size="28.6"><tspan class="cj" font-size="28">平均值</tspan><tspan class="b">=0.25</tspan></text>
<rect x="1103" y="234.3" width="67.3" height="24.3" fill="#b81a18" stroke="#777" stroke-width="1"/>
<rect x="1170.3" y="234.3" width="67.3" height="24.3" fill="#d45234" stroke="#777" stroke-width="1"/>
<rect x="1237.6" y="234.3" width="67.3" height="24.3" fill="#e38155" stroke="#777" stroke-width="1"/>
<rect x="1304.8" y="234.3" width="67.3" height="24.3" fill="#f0ae78" stroke="#777" stroke-width="1"/>
<rect x="1372.1" y="234.3" width="67.3" height="24.3" fill="#fbe2a3" stroke="#777" stroke-width="1"/>
<rect x="1439.4" y="234.3" width="67.3" height="24.3" fill="#e6f2ab" stroke="#777" stroke-width="1"/>
<rect x="1506.7" y="234.3" width="67.3" height="24.3" fill="#b9dc8b" stroke="#777" stroke-width="1"/>
<rect x="1574" y="234.3" width="67.3" height="24.3" fill="#8ec46a" stroke="#777" stroke-width="1"/>
<rect x="1641.2" y="234.3" width="67.3" height="24.3" fill="#62a946" stroke="#777" stroke-width="1"/>
<rect x="1708.5" y="234.3" width="67.3" height="24.3" fill="#389224" stroke="#777" stroke-width="1"/>
<text x="1106.5" y="287.6" font-size="25" text-anchor="middle">0</text>
<text x="1232" y="287.6" font-size="25" text-anchor="middle">0.2</text>
<text x="1368.2" y="287.6" font-size="25" text-anchor="middle">0.4</text>
<text x="1504.1" y="287.6" font-size="25" text-anchor="middle">0.6</text>
<text x="1640" y="287.6" font-size="25" text-anchor="middle">0.8</text>
<text x="1776.8" y="287.6" font-size="25" text-anchor="middle">1.0</text>
<text x="1097.3" y="226.2" font-size="25.5" class="cj">降雨覆盖度</text>
<path d="M1813.3,256v7h82.5v-7" fill="none" stroke="#000" stroke-width="1.2"/>
<text x="1808" y="246.5" font-size="24.5">0</text><text x="1871" y="246.5" font-size="24.5">4100<tspan dx="5">km</tspan></text>
</svg></body></html>
